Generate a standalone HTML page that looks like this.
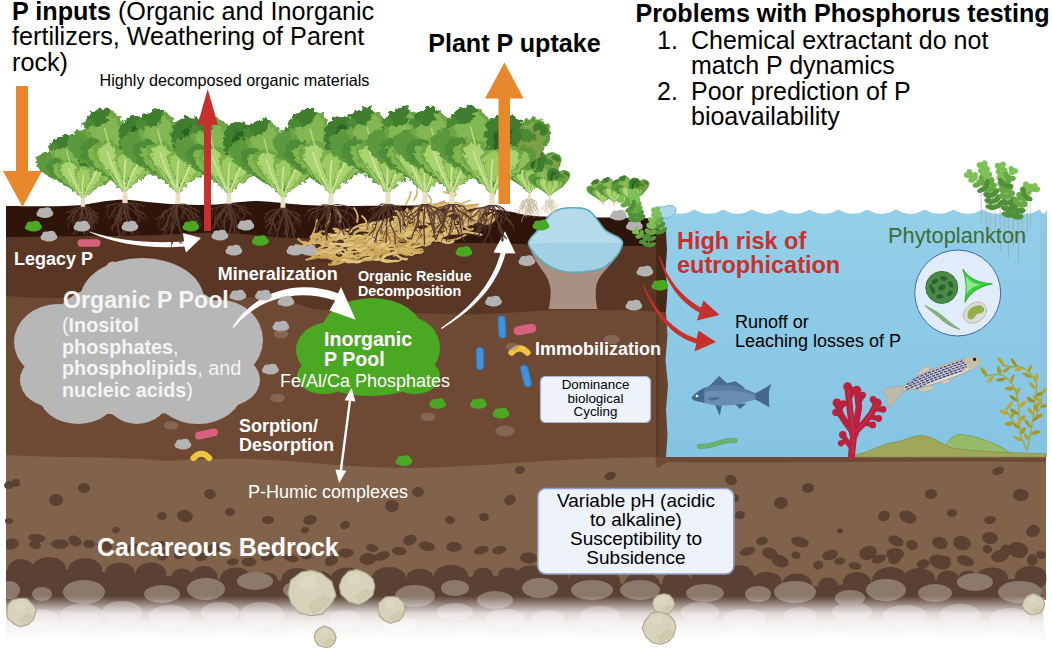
<!DOCTYPE html>
<html><head><meta charset="utf-8"><title>Phosphorus dynamics</title>
<style>html,body{margin:0;padding:0;background:#fff}body{width:1052px;height:655px;overflow:hidden;font-family:"Liberation Sans",sans-serif}</style>
</head><body>
<svg width="1052" height="655" viewBox="0 0 1052 655" style="display:block;font-family:'Liberation Sans',sans-serif">
<defs>
<filter id="frill" x="-10%" y="-10%" width="120%" height="120%">
  <feTurbulence type="fractalNoise" baseFrequency="0.09" numOctaves="2" seed="3" result="n"/>
  <feDisplacementMap in="SourceGraphic" in2="n" scale="7" xChannelSelector="R" yChannelSelector="G"/>
</filter>
<filter id="rough" x="-5%" y="-5%" width="110%" height="110%">
  <feTurbulence type="fractalNoise" baseFrequency="0.05" numOctaves="2" seed="5" result="n"/>
  <feDisplacementMap in="SourceGraphic" in2="n" scale="4" xChannelSelector="R" yChannelSelector="G"/>
</filter>
<filter id="blur1"><feGaussianBlur stdDeviation="0.6"/></filter>
<linearGradient id="fade" x1="0" y1="0" x2="0" y2="1">
  <stop offset="0" stop-color="#fff" stop-opacity="0"/>
  <stop offset="0.2" stop-color="#fff" stop-opacity="0.42"/>
  <stop offset="0.38" stop-color="#fff" stop-opacity="0.8"/>
  <stop offset="0.6" stop-color="#fff" stop-opacity="0.93"/>
  <stop offset="1" stop-color="#fff" stop-opacity="1"/>
</linearGradient>
<linearGradient id="water" x1="0" y1="0" x2="0" y2="1">
  <stop offset="0" stop-color="#93cfe8"/>
  <stop offset="1" stop-color="#86c4e3"/>
</linearGradient>
<clipPath id="soilclip"><rect x="6" y="150" width="1040.5" height="500"/></clipPath><clipPath id="waterclip"><rect x="660" y="200" width="386.5" height="260"/></clipPath><g id="peb"><ellipse cx="0" cy="1.2" rx="7.8" ry="4.2"/><ellipse cx="-3" cy="-1" rx="4" ry="3.4"/><ellipse cx="2.2" cy="-1.6" rx="4.4" ry="3.6"/><circle cx="5.4" cy="0.8" r="2.8"/><circle cx="-5.6" cy="1.2" r="2.8"/></g><g id="lettuceLeaves"><path transform="translate(0,-10) rotate(30)" d="M0,0 C-0.7,-33.1 -13.6,-46.0 -17.0,-69.9 C-17.0,-87.4 -7.7,-93.8 0,-92.0 C7.7,-93.8 17.0,-87.4 17.0,-69.0 C13.6,-46.0 0.7,-33.1 0,0 Z" fill="#5f9a3e" /><path transform="translate(0,-10) rotate(29)" d="M0,0 C-0.5,-31.0 -9.6,-43.0 -12.0,-65.4 C-12.0,-81.7 -5.4,-87.7 0,-86.0 C5.4,-87.7 12.0,-81.7 12.0,-64.5 C9.6,-43.0 0.5,-31.0 0,0 Z" fill="#79ad48" /><ellipse cx="44" cy="-80" rx="8" ry="6" fill="#3f7d2e" transform="rotate(30 44 -80)"/><path transform="translate(0,-10) rotate(-36)" d="M0,0 C-0.6,-30.2 -12.0,-42.0 -15.0,-63.8 C-15.0,-79.8 -6.8,-85.7 0,-84.0 C6.8,-85.7 15.0,-79.8 15.0,-63.0 C12.0,-42.0 0.6,-30.2 0,0 Z" fill="#5c983c" /><path transform="translate(0,-10) rotate(-15)" d="M0,0 C-0.8,-34.6 -15.2,-48.0 -19.0,-73.0 C-19.0,-91.2 -8.6,-97.9 0,-96.0 C8.6,-97.9 19.0,-91.2 19.0,-72.0 C15.2,-48.0 0.8,-34.6 0,0 Z" fill="#6ea544" /><path transform="translate(0,-10) rotate(-15)" d="M0,0 C-0.6,-33.5 -12.0,-46.5 -15.0,-70.7 C-15.0,-88.3 -6.8,-94.9 0,-93.0 C6.8,-94.9 15.0,-88.3 15.0,-69.8 C12.0,-46.5 0.6,-33.5 0,0 Z" fill="#82b752" /><ellipse cx="-26" cy="-95" rx="10" ry="8.5" fill="#3f7d2e" transform="rotate(-12 -26 -95)"/><ellipse cx="-20" cy="-102" rx="6" ry="5" fill="#3f7d2e" transform="rotate(0 -20 -102)"/><ellipse cx="-35" cy="-89" rx="6" ry="5" fill="#4c8a36" transform="rotate(0 -35 -89)"/><path transform="translate(0,-10) rotate(-32)" d="M0,0 C-0.5,-25.2 -10.4,-35.0 -13.0,-53.2 C-13.0,-66.5 -5.9,-71.4 0,-70.0 C5.9,-71.4 13.0,-66.5 13.0,-52.5 C10.4,-35.0 0.5,-25.2 0,0 Z" fill="#4f8c37" /><path transform="translate(0,-10) rotate(-31)" d="M0,0 C-0.4,-22.3 -7.2,-31.0 -9.0,-47.1 C-9.0,-58.9 -4.0,-63.2 0,-62.0 C4.0,-63.2 9.0,-58.9 9.0,-46.5 C7.2,-31.0 0.4,-22.3 0,0 Z" fill="#7fb650" /><path transform="translate(0,-10) rotate(30)" d="M0,0 C-0.7,-28.8 -13.6,-40.0 -17.0,-60.8 C-17.0,-76.0 -7.7,-81.6 0,-80.0 C7.7,-81.6 17.0,-76.0 17.0,-60.0 C13.6,-40.0 0.7,-28.8 0,0 Z" fill="#7da047" /><ellipse cx="31" cy="-74" rx="10" ry="6" fill="#4c8a36" transform="rotate(30 31 -74)"/><path transform="translate(0,-10) rotate(9)" d="M0,0 C-0.7,-31.7 -13.6,-44.0 -17.0,-66.9 C-17.0,-83.6 -7.7,-89.8 0,-88.0 C7.7,-89.8 17.0,-83.6 17.0,-66.0 C13.6,-44.0 0.7,-31.7 0,0 Z" fill="#3f7d2e" /><path transform="translate(0,-10) rotate(9)" d="M0,0 C-0.3,-28.1 -5.6,-39.0 -7.0,-59.3 C-7.0,-74.1 -3.1,-79.6 0,-78.0 C3.1,-79.6 7.0,-74.1 7.0,-58.5 C5.6,-39.0 0.3,-28.1 0,0 Z" fill="#2c6422" /><path transform="translate(0,-10) rotate(11)" d="M0,0 C-0.1,-25.9 -2.4,-36.0 -3.0,-54.7 C-3.0,-68.4 -1.4,-73.4 0,-72.0 C1.4,-73.4 3.0,-68.4 3.0,-54.0 C2.4,-36.0 0.1,-25.9 0,0 Z" fill="#4e8d38" /><path transform="translate(0,-10) rotate(35)" d="M0,0 C-0.4,-22.3 -8.8,-31.0 -11.0,-47.1 C-11.0,-58.9 -5.0,-63.2 0,-62.0 C5.0,-63.2 11.0,-58.9 11.0,-46.5 C8.8,-31.0 0.4,-22.3 0,0 Z" fill="#5c983c" /><path transform="translate(0,-10) rotate(34)" d="M0,0 C-0.3,-20.2 -6.0,-28.0 -7.5,-42.6 C-7.5,-53.2 -3.4,-57.1 0,-56.0 C3.4,-57.1 7.5,-53.2 7.5,-42.0 C6.0,-28.0 0.3,-20.2 0,0 Z" fill="#8fc05a" /><path transform="translate(0,-10) rotate(-20)" d="M0,0 C-0.5,-22.3 -10.4,-31.0 -13.0,-47.1 C-13.0,-58.9 -5.9,-63.2 0,-62.0 C5.9,-63.2 13.0,-58.9 13.0,-46.5 C10.4,-31.0 0.5,-22.3 0,0 Z" fill="#6ea544" /><path transform="translate(0,-10) rotate(-20)" d="M0,0 C-0.4,-20.9 -7.6,-29.0 -9.5,-44.1 C-9.5,-55.1 -4.3,-59.2 0,-58.0 C4.3,-59.2 9.5,-55.1 9.5,-43.5 C7.6,-29.0 0.4,-20.9 0,0 Z" fill="#a8d36e" /><path transform="translate(0,-10) rotate(21)" d="M0,0 C-0.5,-20.2 -9.6,-28.0 -12.0,-42.6 C-12.0,-53.2 -5.4,-57.1 0,-56.0 C5.4,-57.1 12.0,-53.2 12.0,-42.0 C9.6,-28.0 0.5,-20.2 0,0 Z" fill="#6ea544" /><path transform="translate(0,-10) rotate(21)" d="M0,0 C-0.3,-18.7 -6.8,-26.0 -8.5,-39.5 C-8.5,-49.4 -3.8,-53.0 0,-52.0 C3.8,-53.0 8.5,-49.4 8.5,-39.0 C6.8,-26.0 0.3,-18.7 0,0 Z" fill="#a8d36e" /><path transform="translate(0,-10) rotate(1)" d="M0,0 C-0.4,-18.0 -8.8,-25.0 -11.0,-38.0 C-11.0,-47.5 -5.0,-51.0 0,-50.0 C5.0,-51.0 11.0,-47.5 11.0,-37.5 C8.8,-25.0 0.4,-18.0 0,0 Z" fill="#79b04a" /><path transform="translate(0,-10) rotate(1)" d="M0,0 C-0.3,-16.6 -6.4,-23.0 -8.0,-35.0 C-8.0,-43.7 -3.6,-46.9 0,-46.0 C3.6,-46.9 8.0,-43.7 8.0,-34.5 C6.4,-23.0 0.3,-16.6 0,0 Z" fill="#9ccb62" /></g><g id="lettuceRibs"><path transform="translate(0,-10) rotate(-20)" d="M0,0 Q-2,-25.0 0,-50.0" stroke="#cfe49a" stroke-width="1.6" fill="none" stroke-linecap="round"/><path transform="translate(0,-10) rotate(21)" d="M0,0 Q-2,-22.0 0,-44.0" stroke="#cfe49a" stroke-width="1.6" fill="none" stroke-linecap="round"/><path transform="translate(0,-10) rotate(1)" d="M0,0 Q-2,-19.0 0,-38.0" stroke="#cfe49a" stroke-width="1.6" fill="none" stroke-linecap="round"/><path transform="translate(0,-10) rotate(-15)" d="M0,0 Q-2,-38.0 0,-76.0" stroke="#b4d67c" stroke-width="1.5" fill="none" stroke-linecap="round"/><path transform="translate(0,-10) rotate(-31)" d="M0,0 Q-2,-26.0 0,-52.0" stroke="#a9d070" stroke-width="1.2" fill="none" stroke-linecap="round"/><path transform="translate(0,-10) rotate(34)" d="M0,0 Q-2,-23.0 0,-46.0" stroke="#a9d070" stroke-width="1.2" fill="none" stroke-linecap="round"/></g><filter id="fr41" x="-20%" y="-20%" width="140%" height="140%"><feTurbulence type="fractalNoise" baseFrequency="0.357" numOctaves="2" seed="41" result="n"/><feDisplacementMap in="SourceGraphic" in2="n" scale="4.5" xChannelSelector="R" yChannelSelector="G"/></filter><filter id="fr42" x="-20%" y="-20%" width="140%" height="140%"><feTurbulence type="fractalNoise" baseFrequency="0.556" numOctaves="2" seed="42" result="n"/><feDisplacementMap in="SourceGraphic" in2="n" scale="2.9" xChannelSelector="R" yChannelSelector="G"/></filter><filter id="fr43" x="-20%" y="-20%" width="140%" height="140%"><feTurbulence type="fractalNoise" baseFrequency="0.714" numOctaves="2" seed="43" result="n"/><feDisplacementMap in="SourceGraphic" in2="n" scale="2.2" xChannelSelector="R" yChannelSelector="G"/></filter><filter id="fr44" x="-20%" y="-20%" width="140%" height="140%"><feTurbulence type="fractalNoise" baseFrequency="0.667" numOctaves="2" seed="44" result="n"/><feDisplacementMap in="SourceGraphic" in2="n" scale="2.4" xChannelSelector="R" yChannelSelector="G"/></filter><filter id="fr45" x="-20%" y="-20%" width="140%" height="140%"><feTurbulence type="fractalNoise" baseFrequency="0.625" numOctaves="2" seed="45" result="n"/><feDisplacementMap in="SourceGraphic" in2="n" scale="2.6" xChannelSelector="R" yChannelSelector="G"/></filter><filter id="fr11" x="-20%" y="-20%" width="140%" height="140%"><feTurbulence type="fractalNoise" baseFrequency="0.270" numOctaves="2" seed="11" result="n"/><feDisplacementMap in="SourceGraphic" in2="n" scale="5.9" xChannelSelector="R" yChannelSelector="G"/></filter><filter id="fr12" x="-20%" y="-20%" width="140%" height="140%"><feTurbulence type="fractalNoise" baseFrequency="0.204" numOctaves="2" seed="12" result="n"/><feDisplacementMap in="SourceGraphic" in2="n" scale="7.8" xChannelSelector="R" yChannelSelector="G"/></filter><filter id="fr13" x="-20%" y="-20%" width="140%" height="140%"><feTurbulence type="fractalNoise" baseFrequency="0.204" numOctaves="2" seed="13" result="n"/><feDisplacementMap in="SourceGraphic" in2="n" scale="7.8" xChannelSelector="R" yChannelSelector="G"/></filter><filter id="fr14" x="-20%" y="-20%" width="140%" height="140%"><feTurbulence type="fractalNoise" baseFrequency="0.217" numOctaves="2" seed="14" result="n"/><feDisplacementMap in="SourceGraphic" in2="n" scale="7.4" xChannelSelector="R" yChannelSelector="G"/></filter><filter id="fr15" x="-20%" y="-20%" width="140%" height="140%"><feTurbulence type="fractalNoise" baseFrequency="0.217" numOctaves="2" seed="15" result="n"/><feDisplacementMap in="SourceGraphic" in2="n" scale="7.4" xChannelSelector="R" yChannelSelector="G"/></filter><filter id="fr16" x="-20%" y="-20%" width="140%" height="140%"><feTurbulence type="fractalNoise" baseFrequency="0.200" numOctaves="2" seed="16" result="n"/><feDisplacementMap in="SourceGraphic" in2="n" scale="8.0" xChannelSelector="R" yChannelSelector="G"/></filter><filter id="fr17" x="-20%" y="-20%" width="140%" height="140%"><feTurbulence type="fractalNoise" baseFrequency="0.200" numOctaves="2" seed="17" result="n"/><feDisplacementMap in="SourceGraphic" in2="n" scale="8.0" xChannelSelector="R" yChannelSelector="G"/></filter><filter id="fr18" x="-20%" y="-20%" width="140%" height="140%"><feTurbulence type="fractalNoise" baseFrequency="0.200" numOctaves="2" seed="18" result="n"/><feDisplacementMap in="SourceGraphic" in2="n" scale="8.0" xChannelSelector="R" yChannelSelector="G"/></filter><filter id="fr19" x="-20%" y="-20%" width="140%" height="140%"><feTurbulence type="fractalNoise" baseFrequency="0.200" numOctaves="2" seed="19" result="n"/><feDisplacementMap in="SourceGraphic" in2="n" scale="8.0" xChannelSelector="R" yChannelSelector="G"/></filter><filter id="fr20" x="-20%" y="-20%" width="140%" height="140%"><feTurbulence type="fractalNoise" baseFrequency="0.194" numOctaves="2" seed="20" result="n"/><feDisplacementMap in="SourceGraphic" in2="n" scale="8.2" xChannelSelector="R" yChannelSelector="G"/></filter></defs>
<rect width="1052" height="655" fill="#fff"/>
<g id="soil" clip-path="url(#soilclip)">
<path d="M6,230 L657,230 L657,470 L6,470 Z" fill="#6e4a34"/>
<path d="M6,222 L657,222 L657,312 C640,310 600,310 560,310 C520,311 480,316 450,314 C400,313 350,311 318,309.5 C304,308 296,301 280,299 C255,297 230,297 200,297 C130,298 60,300 6,296 Z" fill="#5a3725"/>
<path d="M6,206 C30,206 60,207 83,205 C100,202 115,199 130,200 C150,202 170,205 200,205 C225,205 240,201 257,201 C280,202 300,206 336,206 C380,206 420,205 450,206 C480,207 505,210 521,214 C530,216 545,217 560,217 L600,217.5 C620,217.5 640,218 657,218.5 L657,246 C640,246 620,246 600,246 L560,246 C545,246 530,245 521,244 C500,243 470,243 450,243 C420,242 380,241 336,240 C310,238 290,238 270,237 C240,233 220,232 200,233 C170,235 130,236 100,236 C70,236 40,237 6,237 Z" fill="#2f140a"/>
<path d="M6,455 C60,458 120,456 165,461 C220,458 260,458 300,462 C340,466 380,468 420,468 C460,467 500,464 530,462 C580,458 620,458 668,457 L1046,457 L1046,600 L6,600 Z" fill="#80634a"/>
<path d="M660,452 L1046,452 L1046,462 C900,460 760,464 660,462 Z" fill="#6e4a34"/>
<g fill="#5a4134" clip-path="url(#soilclip)">
<path d="M6,569.9 L20,569.7 L40,569.3 L60,569.0 L80,570.3 L100,571.7 L120,573.0 L140,574.2 L160,575.5 L180,576.7 L200,577.9 L220,579.2 L240,580.4 L260,580.9 L280,580.6 L300,580.3 L320,580.1 L340,579.8 L360,579.5 L380,579.3 L400,579.0 L420,578.4 L440,577.7 L460,577.1 L480,576.5 L500,575.8 L520,575.2 L540,576.2 L560,578.0 L580,579.7 L600,581.5 L620,583.2 L640,585.0 L660,583.8 L680,582.6 L700,581.4 L720,580.2 L740,579.0 L760,581.4 L780,583.8 L800,586.3 L820,586.1 L840,584.8 L860,583.6 L880,582.3 L900,581.0 L920,580.5 L940,579.9 L960,579.4 L980,579.0 L1000,579.0 L1020,579.0 L1040,579.0 L1046,645 L6,645 Z"/>
<ellipse cx="21" cy="568.6" rx="13.2" ry="9.5"/>
<ellipse cx="49" cy="568.2" rx="16.8" ry="10.9"/>
<ellipse cx="85" cy="569.7" rx="17.1" ry="11.4"/>
<ellipse cx="120" cy="572.0" rx="14.5" ry="9.6"/>
<ellipse cx="151" cy="573.9" rx="15.3" ry="11.4"/>
<ellipse cx="182" cy="575.8" rx="10.4" ry="7.3"/>
<ellipse cx="204" cy="577.2" rx="13.6" ry="11.3"/>
<ellipse cx="236" cy="579.2" rx="16.0" ry="11.6"/>
<ellipse cx="268" cy="579.8" rx="9.9" ry="7.0"/>
<ellipse cx="297" cy="579.4" rx="15.5" ry="11.4"/>
<ellipse cx="320" cy="579.1" rx="11.4" ry="7.9"/>
<ellipse cx="347" cy="578.7" rx="16.3" ry="11.2"/>
<ellipse cx="389" cy="578.2" rx="16.9" ry="11.2"/>
<ellipse cx="420" cy="577.4" rx="13.4" ry="8.8"/>
<ellipse cx="451" cy="576.4" rx="17.2" ry="11.5"/>
<ellipse cx="483" cy="575.4" rx="10.1" ry="7.7"/>
<ellipse cx="509" cy="574.5" rx="10.8" ry="7.1"/>
<ellipse cx="531" cy="574.4" rx="13.9" ry="9.1"/>
<ellipse cx="555" cy="576.6" rx="13.5" ry="11.2"/>
<ellipse cx="582" cy="578.9" rx="12.6" ry="9.8"/>
<ellipse cx="606" cy="581.1" rx="14.2" ry="9.7"/>
<ellipse cx="642" cy="583.9" rx="17.6" ry="11.6"/>
<ellipse cx="677" cy="581.8" rx="14.5" ry="9.8"/>
<ellipse cx="709" cy="579.9" rx="18.0" ry="15.3"/>
<ellipse cx="739" cy="578.1" rx="15.3" ry="12.9"/>
<ellipse cx="767" cy="581.3" rx="14.5" ry="9.5"/>
<ellipse cx="797" cy="585.0" rx="15.1" ry="11.6"/>
<ellipse cx="828" cy="584.6" rx="9.8" ry="7.0"/>
<ellipse cx="857" cy="582.7" rx="14.3" ry="10.6"/>
<ellipse cx="890" cy="580.6" rx="17.9" ry="13.7"/>
<ellipse cx="919" cy="579.5" rx="16.2" ry="11.6"/>
<ellipse cx="948" cy="578.7" rx="10.9" ry="8.1"/>
<ellipse cx="968" cy="578.2" rx="9.8" ry="7.6"/>
<ellipse cx="992" cy="578.0" rx="16.1" ry="10.5"/>
<ellipse cx="1031" cy="578.0" rx="16.3" ry="12.2"/>
</g>
</g>
<g id="water">
<path d="M662,214 L662,212 L665.6,209.5 Q680.0,218 694.4,209.5 Q708.8,218 723.2,209.5 Q737.6,218 752.0,209.5 Q766.4,218 780.8,209.5 Q795.2,218 809.6,209.5 Q824.0,218 838.4,209.5 Q852.8,218 867.2,209.5 Q881.6,218 896.0,209.5 Q910.4,218 924.8,209.5 Q939.2,218 953.6,209.5 Q968.0,218 982.4,209.5 Q996.8,218 1011.2,209.5 Q1025.6,218 1040.0,209.5 Q1043.5,218 1047.0,209.5 L1047,457 L662,457 Z" fill="url(#water)"/>
<rect x="1040" y="213" width="7" height="243" fill="#7fbbdc" opacity="0.25"/>
<path d="M940,455 C948,440 953,434 961,434.5 C975,436 990,441 1003,448 C1008,451 1011,454 1014,456 Z" fill="#93bb69" stroke="#7f9a4e" stroke-width="0.8"/>
<path d="M852,456 C870,452 878,446 890,443 C903,442 910,436 921,435.5 C934,436 940,444 952,448 C975,452 1000,452 1046,454 L1046,457 L852,457 Z" fill="#9fa75a" stroke="#858f48" stroke-width="0.8"/>
<g id="bluefish">
<path d="M708,386.5 L710.3,384.9 L719.2,376 C722,378.5 724.5,381 727,383.3 L735.4,381.2 C739,383.5 742,385.8 745,388 L740,390 L712,388 Z" fill="#4a6c94"/>
<path d="M753,394 L755.3,393.2 C761,390.5 767,387 771.5,383.8 C769.5,388 768.8,392 768.9,396.4 C768.8,400 769,404 769.4,407.4 C764.5,404.5 760,402 755.3,399.5 L753,398.5 Z" fill="#46688f"/>
<path d="M715,404.8 L719.7,415.7 L721.8,405.6 Z" fill="#46688f"/>
<path d="M734.4,403.6 L740.1,408.9 L746.4,403.4 Z" fill="#46688f"/>
<path d="M691.7,397.4 C695,393 700,389.8 705,387.5 C712,384.8 722,384.5 730,385.2 C738,386 747,389.5 755.3,393.2 L755.3,399.5 C750,401.2 746,402.2 742.8,402.7 C738,404 734,405 730.2,405.3 C725,405.6 720,405.6 715.6,405.3 C711,404.8 707,403.8 704,402.7 C700,401.8 696,401 693.6,400 C692.3,399.2 691.5,398.3 691.7,397.4 Z" fill="#6a8db5"/>
<path d="M705,387.5 C712,384.8 722,384.5 730,385.2 C738,386 747,389.5 755.3,393.2 L755.3,395 C745,392 735,390.5 725,390.5 C717,390.5 710,391 705,392 Z" fill="#587ba3"/>
<path d="M691.7,397.4 C695,393 700,389.8 705,387.5 C704.3,392 704,398 704.6,402.9 C700,401.8 696,401 693.6,400 C692.3,399.2 691.5,398.3 691.7,397.4 Z" fill="#46688f"/>
<circle cx="697" cy="396" r="1.35" fill="#f3f6fa"/>
<path d="M707,398.6 C712,397.4 717,397 720.8,397.4 C718,399.2 715,400.2 711.4,400.8 Z" fill="#4a6c94"/>
</g>
<circle cx="699.5" cy="446.3" r="2.3" fill="#74b873" stroke="#4f9a55" stroke-width="0.6"/>
<circle cx="702.5" cy="446.3" r="2.3" fill="#74b873" stroke="#4f9a55" stroke-width="0.6"/>
<circle cx="705.4" cy="446.1" r="2.3" fill="#74b873" stroke="#4f9a55" stroke-width="0.6"/>
<circle cx="708.4" cy="445.8" r="2.3" fill="#74b873" stroke="#4f9a55" stroke-width="0.6"/>
<circle cx="711.3" cy="445.1" r="2.3" fill="#74b873" stroke="#4f9a55" stroke-width="0.6"/>
<circle cx="714.3" cy="444.3" r="2.3" fill="#74b873" stroke="#4f9a55" stroke-width="0.6"/>
<circle cx="717.2" cy="443.4" r="2.3" fill="#74b873" stroke="#4f9a55" stroke-width="0.6"/>
<circle cx="720.2" cy="442.5" r="2.3" fill="#74b873" stroke="#4f9a55" stroke-width="0.6"/>
<circle cx="723.2" cy="441.7" r="2.3" fill="#74b873" stroke="#4f9a55" stroke-width="0.6"/>
<circle cx="726.1" cy="441.1" r="2.3" fill="#74b873" stroke="#4f9a55" stroke-width="0.6"/>
<circle cx="729.1" cy="440.7" r="2.3" fill="#74b873" stroke="#4f9a55" stroke-width="0.6"/>
<circle cx="732.0" cy="440.5" r="2.3" fill="#74b873" stroke="#4f9a55" stroke-width="0.6"/>
<circle cx="735.0" cy="440.5" r="2.3" fill="#74b873" stroke="#4f9a55" stroke-width="0.6"/>
<g id="coral" stroke="#b9223f" stroke-linecap="round" fill="none"><path d="M851.5,455.6 L852.6,444.3 L854.0,433.7" stroke-width="7.0" stroke-linejoin="round"/><circle cx="854.0" cy="433.7" r="4.8" fill="#b9223f" stroke="none"/><path d="M851.9,447.9 L846.2,440.8 L842.7,434.8" stroke-width="5.5" stroke-linejoin="round"/><circle cx="842.7" cy="434.8" r="3.7" fill="#b9223f" stroke="none"/><path d="M846.2,440.8 L840.9,443.3" stroke-width="4.5" stroke-linejoin="round"/><circle cx="840.9" cy="443.3" r="3.1" fill="#b9223f" stroke="none"/><path d="M854.0,433.7 L846.2,423.1 L840.9,415.0 L837.0,402.9" stroke-width="6.5" stroke-linejoin="round"/><circle cx="837.0" cy="402.9" r="4.4" fill="#b9223f" stroke="none"/><path d="M842.0,416.0 L835.6,412.5" stroke-width="5.0" stroke-linejoin="round"/><circle cx="835.6" cy="412.5" r="3.4" fill="#b9223f" stroke="none"/><path d="M839.8,409.0 L843.4,403.6" stroke-width="5.0" stroke-linejoin="round"/><circle cx="843.4" cy="403.6" r="3.4" fill="#b9223f" stroke="none"/><path d="M854.0,433.7 L851.1,419.6 L849.7,407.2 L847.6,386.7" stroke-width="6.5" stroke-linejoin="round"/><circle cx="847.6" cy="386.7" r="4.4" fill="#b9223f" stroke="none"/><path d="M849.4,398.3 L853.3,390.2" stroke-width="5.0" stroke-linejoin="round"/><circle cx="853.3" cy="390.2" r="3.4" fill="#b9223f" stroke="none"/><path d="M854.0,433.7 L856.8,419.6 L858.9,407.2 L856.8,390.2" stroke-width="6.5" stroke-linejoin="round"/><circle cx="856.8" cy="390.2" r="4.4" fill="#b9223f" stroke="none"/><path d="M858.6,403.6 L862.5,395.2" stroke-width="5.0" stroke-linejoin="round"/><circle cx="862.5" cy="395.2" r="3.4" fill="#b9223f" stroke="none"/><path d="M854.3,432.6 L863.9,423.1 L870.9,414.3 L877.3,402.9" stroke-width="6.5" stroke-linejoin="round"/><circle cx="877.3" cy="402.9" r="4.4" fill="#b9223f" stroke="none"/><path d="M873.8,409.0 L883.0,409.3" stroke-width="5.0" stroke-linejoin="round"/><circle cx="883.0" cy="409.3" r="3.4" fill="#b9223f" stroke="none"/><path d="M869.2,416.7 L878.7,418.5" stroke-width="5.0" stroke-linejoin="round"/><circle cx="878.7" cy="418.5" r="3.4" fill="#b9223f" stroke="none"/><path d="M875.5,405.4 L873.1,399.4" stroke-width="5.0" stroke-linejoin="round"/><circle cx="873.1" cy="399.4" r="3.4" fill="#b9223f" stroke="none"/><path d="M863.9,423.1 L872.7,424.9" stroke-width="5.0" stroke-linejoin="round"/><circle cx="872.7" cy="424.9" r="3.4" fill="#b9223f" stroke="none"/></g>
<g stroke="#d8506a" stroke-width="0.8" fill="none" opacity="0.6"><path d="M852.2,453.2 L853.6,433.7 L850.4,410.7 L848.3,389.5"/><path d="M854.7,432.6 L864.6,422.4 L876.6,404.4"/></g>
<g id="zebra" transform="translate(932,380) rotate(-20) translate(0,-2.6)">
<path d="M-29,-1 C-37,-4.5 -44,-6 -51,-3.5 C-49,-0.5 -48.5,1.5 -48,3.5 C-50,7 -50.5,10 -49.5,13.5 C-42,10.5 -35,6.5 -29,3 Z" fill="#c3bba9" stroke="#aaa190" stroke-width="0.6" opacity="0.92"/>
<path d="M-12,-6.2 C-10,-11.5 -3,-13 3,-10.8 L1,-7.2 Z" fill="#d0c8b6" stroke="#aaa190" stroke-width="0.5"/>
<path d="M-16,6 C-17,11 -10,13.5 -1,10.5 L-2,6.8 Z" fill="#cfc7b5" stroke="#aaa190" stroke-width="0.5"/>
<path d="M8,7 C7,10.5 13,12 17,9.5 L16,6.8 Z" fill="#d3ccba" stroke="#aaa190" stroke-width="0.5"/>
<path d="M-30.5,-0.8 C-18,-5.8 4,-8 24,-7.4 C38,-6.8 48.5,-4.2 53,-0.3 C49.5,3.8 40,6.8 26,7.3 C6,7.8 -16,6.8 -30.5,3.2 Z" fill="#d6ccb4" stroke="#a79d8a" stroke-width="0.7"/>
<path d="M-28,2.5 C-10,6.2 10,7 28,6.4 C36,6 43,4.5 48,2.4 C40,4.4 32,5 24,5 C6,5.2 -12,4.6 -28,2.5 Z" fill="#e6dfcc"/>
<path d="M-18,-4.0 Q5,-6.300000000000001 37,-4.9" stroke="#2c3f9c" stroke-width="1.25" stroke-dasharray="3 1.2" fill="none"/>
<path d="M-25,-1.7000000000000002 Q5,-4.0 38.5,-2.6" stroke="#2c3f9c" stroke-width="1.25" stroke-dasharray="3 1.2" fill="none"/>
<path d="M-28,0.6000000000000001 Q5,-1.7 38.5,-0.3" stroke="#2c3f9c" stroke-width="1.25" stroke-dasharray="3 1.2" fill="none"/>
<path d="M-27,2.9 Q5,0.6000000000000001 37.5,2.0" stroke="#2c3f9c" stroke-width="1.25" stroke-dasharray="3 1.2" fill="none"/>
<path d="M-18,5.1000000000000005 Q5,2.8000000000000003 33,4.2" stroke="#2c3f9c" stroke-width="1.25" stroke-dasharray="3 1.2" fill="none"/>
<path d="M39,-6.6 C46,-6 51,-3.6 53,-0.3 C50,3.4 45.5,5.6 39.5,6.6 C37.6,2.5 37.4,-2.5 39,-6.6 Z" fill="#cbbfa2"/>
<circle cx="47" cy="-2.2" r="1.6" fill="#111"/>
</g>
<g id="kelp" clip-path="url(#waterclip)">
<path d="M1027.0,450.0 C1026.0,447.7 1022.2,440.9 1020.9,436.0 C1019.6,431.0 1019.6,425.7 1019.1,420.2 C1018.7,414.6 1019.0,407.9 1018.2,402.6 C1017.5,397.4 1016.3,392.4 1014.7,388.6 C1013.1,384.8 1011.1,382.2 1008.6,379.8 C1006.1,377.5 1003.9,375.1 999.8,374.6 C995.7,374.0 986.7,376.0 984.0,376.3" stroke="#9dab48" stroke-width="1.5" fill="none"/>
<path d="M1027.0,450.0 C1027.6,447.4 1029.5,439.8 1030.5,434.2 C1031.5,428.7 1032.4,422.5 1033.2,416.7 C1033.9,410.8 1034.3,404.4 1034.9,399.1 C1035.5,393.9 1037.3,389.2 1036.7,385.1 C1036.1,381.0 1033.7,377.5 1031.4,374.6 C1029.1,371.6 1025.6,368.9 1022.6,367.5 C1019.7,366.2 1017.4,367.1 1013.9,366.7 C1010.4,366.2 1003.6,365.2 1001.6,364.9" stroke="#9dab48" stroke-width="1.5" fill="none"/>
<path d="M1033.2,420.2 C1034.2,418.4 1037.8,412.6 1039.3,409.6 C1040.8,406.7 1041.6,405.6 1041.9,402.6 C1042.2,399.7 1041.2,393.9 1041.1,392.1" stroke="#9dab48" stroke-width="1.1" fill="none"/>
<path d="M1018.2,428.9 C1017.1,427.2 1013.4,421.9 1011.2,418.4 C1009.0,414.9 1006.1,409.6 1005.1,407.9" stroke="#9dab48" stroke-width="1.1" fill="none"/>
<path transform="translate(1023.0,440.8) rotate(-157)" d="M0,0 C3.4,-2.7 9.1,-2.2 11.4,0 C9.1,1.6 3.4,1.9 0,0 Z" fill="#b3a42c"/>
<path transform="translate(1020.7,434.6) rotate(-58)" d="M0,0 C2.7,-3.6 7.1,-2.9 8.9,0 C7.1,2.2 2.7,2.5 0,0 Z" fill="#a8992a"/>
<path transform="translate(1020.0,428.0) rotate(-145)" d="M0,0 C2.4,-3.1 6.5,-2.5 8.1,0 C6.5,1.9 2.4,2.2 0,0 Z" fill="#9a8f28"/>
<path transform="translate(1019.3,421.4) rotate(-44)" d="M0,0 C2.6,-3.4 6.9,-2.7 8.7,0 C6.9,2.1 2.6,2.4 0,0 Z" fill="#b3a42c"/>
<path transform="translate(1018.8,414.7) rotate(-145)" d="M0,0 C3.2,-3.3 8.5,-2.6 10.7,0 C8.5,2.0 3.2,2.3 0,0 Z" fill="#9a8f28"/>
<path transform="translate(1018.5,408.0) rotate(-41)" d="M0,0 C3.4,-3.3 9.0,-2.7 11.2,0 C9.0,2.0 3.4,2.3 0,0 Z" fill="#beaa32"/>
<path transform="translate(1017.9,401.4) rotate(-142)" d="M0,0 C3.3,-3.0 8.7,-2.4 10.8,0 C8.7,1.8 3.3,2.1 0,0 Z" fill="#9a8f28"/>
<path transform="translate(1016.3,394.9) rotate(-65)" d="M0,0 C2.5,-2.8 6.6,-2.3 8.2,0 C6.6,1.7 2.5,2.0 0,0 Z" fill="#b3a42c"/>
<path transform="translate(1014.7,388.5) rotate(-177)" d="M0,0 C3.1,-3.5 8.2,-2.8 10.3,0 C8.2,2.1 3.1,2.5 0,0 Z" fill="#a8992a"/>
<path transform="translate(1010.8,383.0) rotate(-69)" d="M0,0 C3.0,-2.6 7.9,-2.1 9.9,0 C7.9,1.6 3.0,1.8 0,0 Z" fill="#a8992a"/>
<path transform="translate(1006.2,378.4) rotate(-189)" d="M0,0 C3.3,-3.1 8.8,-2.4 11.0,0 C8.8,1.8 3.3,2.1 0,0 Z" fill="#9a8f28"/>
<path transform="translate(1000.5,375.0) rotate(-104)" d="M0,0 C2.8,-3.5 7.4,-2.8 9.2,0 C7.4,2.1 2.8,2.4 0,0 Z" fill="#a8992a"/>
<path transform="translate(994.0,375.2) rotate(133)" d="M0,0 C3.0,-3.1 8.1,-2.5 10.1,0 C8.1,1.9 3.0,2.2 0,0 Z" fill="#beaa32"/>
<path transform="translate(987.4,375.9) rotate(233)" d="M0,0 C3.4,-3.4 9.1,-2.8 11.3,0 C9.1,2.1 3.4,2.4 0,0 Z" fill="#a8992a"/>
<path transform="translate(1029.1,440.5) rotate(-123)" d="M0,0 C2.8,-2.9 7.4,-2.3 9.2,0 C7.4,1.7 2.8,2.0 0,0 Z" fill="#b3a42c"/>
<path transform="translate(1030.5,434.2) rotate(-14)" d="M0,0 C3.3,-3.5 8.8,-2.8 11.0,0 C8.8,2.1 3.3,2.5 0,0 Z" fill="#a8992a"/>
<path transform="translate(1031.5,427.8) rotate(-129)" d="M0,0 C3.4,-2.9 8.9,-2.3 11.2,0 C8.9,1.7 3.4,2.0 0,0 Z" fill="#a8992a"/>
<path transform="translate(1032.4,421.4) rotate(-37)" d="M0,0 C2.8,-3.0 7.6,-2.4 9.5,0 C7.6,1.8 2.8,2.1 0,0 Z" fill="#9a8f28"/>
<path transform="translate(1033.3,415.0) rotate(-125)" d="M0,0 C2.8,-2.8 7.5,-2.2 9.4,0 C7.5,1.7 2.8,1.9 0,0 Z" fill="#b3a42c"/>
<path transform="translate(1034.0,408.6) rotate(-42)" d="M0,0 C3.2,-2.9 8.5,-2.3 10.7,0 C8.5,1.7 3.2,2.0 0,0 Z" fill="#b3a42c"/>
<path transform="translate(1034.6,402.2) rotate(-147)" d="M0,0 C2.8,-3.4 7.5,-2.7 9.3,0 C7.5,2.1 2.8,2.4 0,0 Z" fill="#9a8f28"/>
<path transform="translate(1035.3,395.7) rotate(-16)" d="M0,0 C2.5,-3.2 6.8,-2.5 8.5,0 C6.8,1.9 2.5,2.2 0,0 Z" fill="#9a8f28"/>
<path transform="translate(1036.1,389.3) rotate(-133)" d="M0,0 C3.0,-2.9 8.0,-2.3 10.1,0 C8.0,1.7 3.0,2.0 0,0 Z" fill="#b3a42c"/>
<path transform="translate(1035.7,383.1) rotate(-80)" d="M0,0 C3.1,-3.4 8.3,-2.7 10.3,0 C8.3,2.0 3.1,2.4 0,0 Z" fill="#beaa32"/>
<path transform="translate(1032.8,377.3) rotate(-157)" d="M0,0 C3.4,-3.1 9.0,-2.5 11.3,0 C9.0,1.9 3.4,2.2 0,0 Z" fill="#a8992a"/>
<path transform="translate(1028.8,372.5) rotate(-72)" d="M0,0 C2.5,-2.6 6.6,-2.1 8.2,0 C6.6,1.6 2.5,1.8 0,0 Z" fill="#a8992a"/>
<path transform="translate(1023.7,368.4) rotate(-188)" d="M0,0 C3.1,-2.7 8.2,-2.2 10.3,0 C8.2,1.6 3.1,1.9 0,0 Z" fill="#beaa32"/>
<path transform="translate(1017.6,367.0) rotate(-127)" d="M0,0 C3.4,-2.6 9.1,-2.1 11.4,0 C9.1,1.6 3.4,1.8 0,0 Z" fill="#9a8f28"/>
<path transform="translate(1011.2,366.3) rotate(-214)" d="M0,0 C3.3,-2.6 8.9,-2.1 11.1,0 C8.9,1.6 3.3,1.8 0,0 Z" fill="#a8992a"/>
<path transform="translate(1004.8,365.4) rotate(-131)" d="M0,0 C3.4,-3.0 9.1,-2.4 11.4,0 C9.1,1.8 3.4,2.1 0,0 Z" fill="#b3a42c"/>
<path transform="translate(1034.7,417.6) rotate(-18)" d="M0,0 C2.6,-3.4 7.0,-2.7 8.8,0 C7.0,2.0 2.6,2.4 0,0 Z" fill="#a8992a"/>
<path transform="translate(1037.7,412.3) rotate(-108)" d="M0,0 C2.5,-3.3 6.7,-2.7 8.4,0 C6.7,2.0 2.5,2.3 0,0 Z" fill="#a8992a"/>
<path transform="translate(1040.3,406.9) rotate(-9)" d="M0,0 C2.9,-2.7 7.8,-2.2 9.8,0 C7.8,1.6 2.9,1.9 0,0 Z" fill="#9a8f28"/>
<path transform="translate(1041.8,401.1) rotate(-149)" d="M0,0 C3.3,-3.1 8.7,-2.4 10.9,0 C8.7,1.8 3.3,2.1 0,0 Z" fill="#b3a42c"/>
<path transform="translate(1041.3,395.1) rotate(-53)" d="M0,0 C2.9,-2.7 7.6,-2.2 9.6,0 C7.6,1.6 2.9,1.9 0,0 Z" fill="#b3a42c"/>
<path transform="translate(1016.9,426.9) rotate(-64)" d="M0,0 C3.0,-2.6 8.1,-2.1 10.1,0 C8.1,1.6 3.0,1.8 0,0 Z" fill="#beaa32"/>
<path transform="translate(1014.1,422.7) rotate(-188)" d="M0,0 C3.0,-3.6 7.9,-2.9 9.8,0 C7.9,2.1 3.0,2.5 0,0 Z" fill="#a8992a"/>
<path transform="translate(1011.4,418.6) rotate(-71)" d="M0,0 C2.7,-3.0 7.3,-2.4 9.1,0 C7.3,1.8 2.7,2.1 0,0 Z" fill="#a8992a"/>
<path transform="translate(1008.8,414.3) rotate(-155)" d="M0,0 C3.0,-3.5 8.1,-2.8 10.1,0 C8.1,2.1 3.0,2.5 0,0 Z" fill="#beaa32"/>
<path transform="translate(1006.3,410.0) rotate(-53)" d="M0,0 C3.4,-2.8 9.1,-2.3 11.4,0 C9.1,1.7 3.4,2.0 0,0 Z" fill="#beaa32"/>
</g>
<circle cx="957.7" cy="293" r="43" fill="#e1ecfa" stroke="#3f67b1" stroke-width="1"/>
<circle cx="941.8" cy="287.4" r="16" fill="#4b8a47" stroke="#3a7338" stroke-width="1"/>
<ellipse cx="934.8" cy="281.4" rx="3.5" ry="2.2" fill="#2c6230" transform="rotate(-40 934.8 281.4)"/>
<ellipse cx="943.8" cy="278.4" rx="3.5" ry="2.2" fill="#2c6230" transform="rotate(10 943.8 278.4)"/>
<ellipse cx="950.8" cy="284.4" rx="3.5" ry="2.2" fill="#2c6230" transform="rotate(60 950.8 284.4)"/>
<ellipse cx="932.8" cy="290.4" rx="3.5" ry="2.2" fill="#2c6230" transform="rotate(70 932.8 290.4)"/>
<ellipse cx="941.8" cy="287.4" rx="4" ry="2.6" fill="#2c6230" transform="rotate(-30 941.8 287.4)"/>
<ellipse cx="949.8" cy="293.4" rx="3.5" ry="2.2" fill="#2c6230" transform="rotate(-50 949.8 293.4)"/>
<ellipse cx="939.8" cy="296.4" rx="3.5" ry="2.2" fill="#2c6230" transform="rotate(0 939.8 296.4)"/>
<ellipse cx="930.8" cy="286.4" rx="2" ry="1.5" fill="#2c6230" transform="rotate(80 930.8 286.4)"/>
<path d="M963,269.5 C968,278 978,283 992,283.8 C980,286 970,292 965,302 C967,291 967,280 963,269.5 Z" fill="#3ed13f" stroke="#2fb535" stroke-width="1.2" stroke-linejoin="round"/>
<path d="M966,276 C969,281 974,284 981,284.5 C974,286 969,289 967,294 Z" fill="#8fe88a"/>
<path d="M925,305.5 C932,309 940,313 946,319 C951,323 956,327 960,329.5 C954,328 948,325 943,321 C937,315 930,311 925,305.5 Z" fill="#86b078" stroke="#6a9a62" stroke-width="0.6"/>
<ellipse cx="975" cy="312.7" rx="12.5" ry="9.5" fill="#dcdcd4" stroke="#b8b8ae" stroke-width="0.8" transform="rotate(-35 975 312.7)"/>
<path d="M968,318 C966,312 970,307 976,306 C981,304 985,307 984,311 C982,314 978,313 976,315 C974,319 971,321 968,318 Z" fill="#93b04a"/>
</g>
<path d="M656,228 L666,231 L667,250 L665.5,270 L667.5,290 L666,312 L656,312 Z" fill="#47291a"/>
<path d="M656,312 L666,312 L667.5,335 L665.5,360 L668,385 L666,410 L667.5,435 L666,457 L656,457 Z" fill="#65432e"/>
<path d="M656,300 L658.5,305 L659,457 L656,457 Z" fill="#523323" opacity="0.55"/>
<path d="M655,457 L668,457 L668,462 L657,468 Z" fill="#6e4a34"/>
<g id="rods">
<rect x="77.5" y="239.25" width="23" height="7.5" rx="3.75" fill="#d8627e" transform="rotate(0 89 243)"/>
<rect x="195.0" y="430.0" width="23" height="8" rx="4.0" fill="#d8627e" transform="rotate(-12 206.5 434)"/>
<rect x="513.5" y="325.0" width="23" height="9" rx="4.5" fill="#d8627e" transform="rotate(-10 525 329.5)"/>
<rect x="498.5" y="316.0" width="7" height="22" rx="3.5" fill="#3f93dc" stroke="#2f7fc4" stroke-width="1" transform="rotate(-4 502 327)"/>
<rect x="476.5" y="347.5" width="7" height="22" rx="3.5" fill="#3f93dc" stroke="#2f7fc4" stroke-width="1" transform="rotate(-2 480 358.5)"/>
<rect x="522.5" y="365.0" width="7" height="22" rx="3.5" fill="#3f93dc" stroke="#2f7fc4" stroke-width="1" transform="rotate(-14 526 376)"/>
<path d="M193.5,458 Q201.3,449.5 209.2,458" stroke="#f1c43e" stroke-width="6.2" fill="none" stroke-linecap="round"/>
<path d="M511.5,352.6 Q519.5,344 527.5,352.6" stroke="#f1c43e" stroke-width="6.2" fill="none" stroke-linecap="round"/>
</g>
<g id="spots" fill="#5b4132">
<ellipse cx="9" cy="485" rx="5" ry="4" transform="rotate(-17 9 485)"/>
<ellipse cx="56" cy="500" rx="7" ry="6" transform="rotate(9 56 500)"/>
<ellipse cx="84" cy="488" rx="6" ry="5" transform="rotate(7 84 488)"/>
<ellipse cx="9" cy="521" rx="4" ry="3" transform="rotate(-1 9 521)"/>
<ellipse cx="162" cy="516" rx="5" ry="4" transform="rotate(-14 162 516)"/>
<ellipse cx="185" cy="516" rx="8" ry="6" transform="rotate(15 185 516)"/>
<ellipse cx="210" cy="494" rx="6" ry="5" transform="rotate(15 210 494)"/>
<ellipse cx="230" cy="512" rx="5" ry="4" transform="rotate(1 230 512)"/>
<ellipse cx="268" cy="520" rx="6" ry="4" transform="rotate(0 268 520)"/>
<ellipse cx="310" cy="520" rx="7" ry="5" transform="rotate(-13 310 520)"/>
<ellipse cx="345" cy="525" rx="5" ry="4" transform="rotate(-25 345 525)"/>
<ellipse cx="392" cy="506" rx="7" ry="6" transform="rotate(-6 392 506)"/>
<ellipse cx="418" cy="492" rx="6" ry="5" transform="rotate(4 418 492)"/>
<ellipse cx="410" cy="540" rx="7" ry="5" transform="rotate(-22 410 540)"/>
<ellipse cx="372" cy="548" rx="6" ry="4" transform="rotate(15 372 548)"/>
<ellipse cx="305" cy="530" rx="4" ry="3" transform="rotate(-13 305 530)"/>
<ellipse cx="160" cy="545" rx="6" ry="4" transform="rotate(-13 160 545)"/>
<ellipse cx="116" cy="530" rx="4" ry="3" transform="rotate(-23 116 530)"/>
<ellipse cx="75" cy="541" rx="7" ry="5" transform="rotate(25 75 541)"/>
<ellipse cx="35" cy="545" rx="6" ry="4" transform="rotate(12 35 545)"/>
<ellipse cx="450" cy="520" rx="5" ry="4" transform="rotate(19 450 520)"/>
<ellipse cx="484" cy="517" rx="5" ry="4" transform="rotate(6 484 517)"/>
<ellipse cx="510" cy="500" rx="6" ry="5" transform="rotate(-23 510 500)"/>
<ellipse cx="520" cy="470" rx="5" ry="4" transform="rotate(-9 520 470)"/>
<ellipse cx="16" cy="483" rx="4" ry="4" transform="rotate(-0 16 483)"/>
<ellipse cx="610" cy="476" rx="6" ry="4" transform="rotate(-19 610 476)"/>
<ellipse cx="731" cy="480" rx="6" ry="5" transform="rotate(23 731 480)"/>
<ellipse cx="781" cy="503" rx="7" ry="6" transform="rotate(-7 781 503)"/>
<ellipse cx="808" cy="488" rx="6" ry="5" transform="rotate(-17 808 488)"/>
<ellipse cx="840" cy="531" rx="3" ry="2.5" transform="rotate(16 840 531)"/>
<ellipse cx="884" cy="516" rx="6" ry="5" transform="rotate(-19 884 516)"/>
<ellipse cx="908" cy="517" rx="9" ry="6" transform="rotate(21 908 517)"/>
<ellipse cx="931" cy="494" rx="6" ry="5" transform="rotate(-2 931 494)"/>
<ellipse cx="952" cy="513" rx="5" ry="4" transform="rotate(3 952 513)"/>
<ellipse cx="990" cy="520" rx="6" ry="4" transform="rotate(-8 990 520)"/>
<ellipse cx="1021" cy="495" rx="8" ry="6" transform="rotate(-1 1021 495)"/>
<ellipse cx="998" cy="471" rx="6" ry="4" transform="rotate(-16 998 471)"/>
<ellipse cx="1033" cy="531" rx="7" ry="6" transform="rotate(-23 1033 531)"/>
<ellipse cx="1041" cy="555" rx="5" ry="4" transform="rotate(18 1041 555)"/>
<ellipse cx="762" cy="541" rx="6" ry="4" transform="rotate(-13 762 541)"/>
<ellipse cx="800" cy="542" rx="9" ry="5" transform="rotate(14 800 542)"/>
<ellipse cx="830" cy="555" rx="8" ry="5" transform="rotate(-15 830 555)"/>
<ellipse cx="896" cy="541" rx="8" ry="5" transform="rotate(23 896 541)"/>
<ellipse cx="912" cy="545" rx="6" ry="5" transform="rotate(20 912 545)"/>
<ellipse cx="940" cy="543" rx="8" ry="6" transform="rotate(13 940 543)"/>
<ellipse cx="962" cy="543" rx="9" ry="7" transform="rotate(13 962 543)"/>
<ellipse cx="990" cy="538" rx="8" ry="6" transform="rotate(4 990 538)"/>
<ellipse cx="1018" cy="550" rx="10" ry="8" transform="rotate(11 1018 550)"/>
<ellipse cx="868" cy="553" rx="9" ry="7" transform="rotate(-19 868 553)"/>
<ellipse cx="895" cy="554" rx="9" ry="6" transform="rotate(-1 895 554)"/>
<ellipse cx="940" cy="562" rx="11" ry="7" transform="rotate(16 940 562)"/>
<ellipse cx="1000" cy="556" rx="9" ry="6" transform="rotate(-15 1000 556)"/>
<ellipse cx="780" cy="561" rx="9" ry="6" transform="rotate(21 780 561)"/>
<ellipse cx="735" cy="498" rx="4" ry="4" transform="rotate(19 735 498)"/>
<ellipse cx="740" cy="515" rx="5" ry="4" transform="rotate(-5 740 515)"/>
</g>
<g fill="#5b4132" clip-path="url(#soilclip)">
<ellipse cx="12" cy="544" rx="7.3" ry="5.5" transform="rotate(-9 12 547)"/>
<ellipse cx="36" cy="538" rx="8.6" ry="4.0" transform="rotate(6 36 546)"/>
<ellipse cx="60" cy="544" rx="8.8" ry="4.8" transform="rotate(-2 60 546)"/>
<ellipse cx="89" cy="544" rx="5.9" ry="4.3" transform="rotate(-0 89 548)"/>
<ellipse cx="104" cy="546" rx="7.8" ry="4.6" transform="rotate(14 104 549)"/>
<ellipse cx="133" cy="548" rx="7.6" ry="3.8" transform="rotate(-18 133 551)"/>
<ellipse cx="163" cy="555" rx="5.5" ry="5.7" transform="rotate(10 163 553)"/>
<ellipse cx="179" cy="555" rx="5.6" ry="4.2" transform="rotate(-20 179 554)"/>
<ellipse cx="201" cy="557" rx="6.3" ry="4.0" transform="rotate(-16 201 555)"/>
<ellipse cx="216" cy="548" rx="7.9" ry="4.9" transform="rotate(-15 216 556)"/>
<ellipse cx="232" cy="562" rx="5.9" ry="3.6" transform="rotate(-9 232 557)"/>
<ellipse cx="249" cy="562" rx="7.4" ry="4.6" transform="rotate(-1 249 558)"/>
<ellipse cx="269" cy="556" rx="8.0" ry="4.3" transform="rotate(-17 269 558)"/>
<ellipse cx="291" cy="558" rx="8.0" ry="3.8" transform="rotate(15 291 557)"/>
<ellipse cx="305" cy="555" rx="6.5" ry="4.3" transform="rotate(16 305 557)"/>
<ellipse cx="330" cy="561" rx="6.7" ry="5.0" transform="rotate(-19 330 557)"/>
<ellipse cx="346" cy="553" rx="7.8" ry="4.7" transform="rotate(-3 346 557)"/>
<ellipse cx="368" cy="559" rx="8.4" ry="5.9" transform="rotate(-1 368 556)"/>
<ellipse cx="382" cy="556" rx="8.1" ry="4.3" transform="rotate(-16 382 556)"/>
<ellipse cx="399" cy="551" rx="7.3" ry="4.2" transform="rotate(5 399 556)"/>
<ellipse cx="425" cy="546" rx="8.2" ry="4.6" transform="rotate(12 425 555)"/>
<ellipse cx="454" cy="547" rx="7.9" ry="5.0" transform="rotate(0 454 554)"/>
<ellipse cx="482" cy="550" rx="7.7" ry="4.1" transform="rotate(-16 482 553)"/>
<ellipse cx="500" cy="550" rx="7.1" ry="4.0" transform="rotate(-12 500 553)"/>
<ellipse cx="529" cy="558" rx="8.7" ry="5.4" transform="rotate(3 529 552)"/>
<ellipse cx="749" cy="551" rx="8.1" ry="4.1" transform="rotate(-15 749 557)"/>
<ellipse cx="768" cy="553" rx="7.8" ry="5.7" transform="rotate(19 768 559)"/>
<ellipse cx="794" cy="555" rx="4.6" ry="3.5" transform="rotate(14 794 563)"/>
<ellipse cx="818" cy="565" rx="5.1" ry="4.3" transform="rotate(-6 818 563)"/>
<ellipse cx="840" cy="561" rx="5.4" ry="3.7" transform="rotate(-12 840 562)"/>
<ellipse cx="856" cy="566" rx="6.4" ry="3.8" transform="rotate(12 856 561)"/>
<ellipse cx="879" cy="559" rx="7.4" ry="4.1" transform="rotate(-19 879 559)"/>
<ellipse cx="894" cy="560" rx="6.1" ry="4.1" transform="rotate(-8 894 558)"/>
<ellipse cx="922" cy="564" rx="6.5" ry="4.5" transform="rotate(-9 922 557)"/>
<ellipse cx="947" cy="560" rx="4.7" ry="3.9" transform="rotate(19 947 557)"/>
<ellipse cx="967" cy="561" rx="8.9" ry="5.1" transform="rotate(18 967 556)"/>
<ellipse cx="986" cy="549" rx="4.7" ry="4.1" transform="rotate(12 986 556)"/>
<ellipse cx="1008" cy="550" rx="6.2" ry="5.7" transform="rotate(-17 1008 556)"/>
<ellipse cx="1032" cy="560" rx="5.4" ry="5.7" transform="rotate(-3 1032 556)"/>
</g>
<g id="orgcloud" fill="#b7b7b7">
<ellipse cx="142" cy="300" rx="62" ry="42"/>
<ellipse cx="113" cy="268" rx="7" ry="6.5"/>
<ellipse cx="140" cy="322" rx="86" ry="42"/>
<ellipse cx="58" cy="342" rx="44" ry="38"/>
<ellipse cx="220" cy="340" rx="43" ry="40"/>
<ellipse cx="56" cy="380" rx="36" ry="28"/>
<ellipse cx="224" cy="380" rx="36" ry="27"/>
<ellipse cx="135" cy="378" rx="84" ry="38"/>
<ellipse cx="78" cy="392" rx="40" ry="32"/>
<ellipse cx="137" cy="396" rx="32" ry="28"/>
<ellipse cx="198" cy="391" rx="44" ry="33"/>
</g>
<g id="inorgcloud" fill="#4ba823">
<ellipse cx="372" cy="331" rx="50" ry="33"/>
<ellipse cx="330" cy="350" rx="34" ry="28"/>
<ellipse cx="408" cy="348" rx="32" ry="31"/>
<ellipse cx="370" cy="372" rx="56" ry="24"/>
<ellipse cx="324" cy="376" rx="27" ry="18"/>
<ellipse cx="415" cy="376" rx="25" ry="18"/>
</g>
<g id="warrows" fill="#fff" stroke="none">
<path d="M90,231.5 C115,240 150,244 184,241.5 L183,233 L201,238 L186,252.5 L184.5,246.5 C150,249 115,244 90,232.5 Z"/>
<path d="M232.5,327 C254,293.5 294,278 338,293.2 L341,287 L355.7,319.7 L329.5,310.5 L335.2,300.5 C295,287.5 257,299 233.6,328 Z"/>
<path d="M441,328 C470,308 492,285 500.5,253 L493.5,252.6 L505,231.3 L515.5,253.6 L505.6,253.2 C497,286.5 473.5,309.5 441.7,329 Z"/>
<path d="M351.6,388 L355.4,401.6 L351.1,401.05 L342.1,470.3 L346.3,470.8 L339.2,483 L335.4,469.4 L339.7,469.95 L348.7,400.7 L344.5,400.2 Z"/>
</g>
<g id="rarrows" fill="#c8302d">
<path d="M659.5,255 C668,281 683,298 701,307.5 L703.5,300.5 L719.5,315 L697,320.5 L699.5,312.5 C680,302 666,283.5 659,256 Z"/>
<path d="M643,283 C655,312 675,332 696.5,338.5 L698.5,330.5 L716,342 L694.5,351.5 L696.3,343.6 C673,336.5 653.5,315.5 642.4,284 Z"/>
</g>
<g id="pond">
<path d="M528.8,245.6 C531,252 536,262 541.7,269.4 C545,274 547,277 547.7,279.3 C550,284 550.8,289 550.7,293 C550.5,299 549.5,305 548.7,309 L597.3,309 C596.3,304 595.6,298 595.7,293 C595.8,289 596,286 597,283 C598.5,279 600.5,276 603,273 C609,266 614,261 617,255.5 C619,252 620.5,249 621,245.6 Z" fill="#a89083"/>
<path d="M528.3,243.2 C529.5,238.5 532.5,236 535.8,232.7 C539.5,228.5 542,224 545.7,219.8 C548.5,216 551.5,212.8 555.6,210.8 C560,208.7 564.5,208 569.5,207.9 C573.5,207.8 577.5,207.8 581.4,208.3 C585.5,209 588.8,210.3 591.3,212.8 C594.5,215.8 597,219.5 599.3,222.7 C601.8,226.2 604,229.5 607.2,231.7 C610.3,233.8 614,234.8 617.1,236.6 C620,238.2 622,240 622.7,242.6 C622.3,247 620,251.5 617.1,255.5 C614,259.8 610,263.5 605.2,266.4 C600.5,269.2 595,270.6 589.4,271.3 C585,271.9 580,272.3 575.5,272.3 C570,272.3 564.5,271.8 559.6,270.4 C553.5,268.6 548,266 543.7,262.4 C539.5,259 535.5,255.5 532.8,251.5 C530.5,248.5 528.5,246 528.3,243.2 Z" fill="#a2d1e5" stroke="#5ea9bd" stroke-width="1.4"/>
<path d="M528.3,243.2 C529.5,238.5 532.5,236 535.8,232.7 C539.5,228.5 542,224 545.7,219.8 C548.5,216 551.5,212.8 555.6,210.8 C560,208.7 564.5,208 569.5,207.9 C573.5,207.8 577.5,207.8 581.4,208.3 C585.5,209 588.8,210.3 591.3,212.8 C594.5,215.8 597,219.5 599.3,222.7 C601.8,226.2 604,229.5 607.2,231.7 C610.3,233.8 614,234.8 617.1,236.6 C620,238.2 622,240 622.7,242.6 L528.9,243.4 Z" fill="#b4dbe9"/>
<path d="M528.3,243.2 C529.5,238.5 532.5,236 535.8,232.7 C539.5,228.5 542,224 545.7,219.8 C548.5,216 551.5,212.8 555.6,210.8 C560,208.7 564.5,208 569.5,207.9 C573.5,207.8 577.5,207.8 581.4,208.3 C585.5,209 588.8,210.3 591.3,212.8 C594.5,215.8 597,219.5 599.3,222.7 C601.8,226.2 604,229.5 607.2,231.7 C610.3,233.8 614,234.8 617.1,236.6 C620,238.2 622,240 622.7,242.6" fill="none" stroke="#5ea9bd" stroke-width="1.4"/>
</g>
<path d="M652,210 C654,206 660,207 664,207 C670,204 676,206 676,210 C675,216 668,219 664,218 C658,217 653,214 652,210 Z" fill="#a9d8ea" stroke="#6bb6d6" stroke-width="1"/>
<g id="straw" fill="none" stroke-linecap="round">
<g transform="rotate(-7 432 224)"><path d="M372,239.0 C378.0,212.0 408.0,202.0 432,204 C462.0,203.0 489.0,214.0 492,234.0 C462.0,245.0 402.0,246.0 372,239.0 Z" fill="#4a2e1c" opacity="0.5"/><path d="M397.9,233.8 C391.5,236.0 384.4,235.3 378.4,238.6" stroke="#cfa95e" stroke-width="1.8"/><path d="M418.9,233.2 C422.1,229.8 425.9,238.2 428.9,232.7" stroke="#e2c988" stroke-width="1.7"/><path d="M386.5,223.2 C379.0,225.0 371.9,230.6 363.6,225.9" stroke="#cfa95e" stroke-width="2.5"/><path d="M477.5,223.7 C481.4,229.8 486.2,230.4 491.9,226.3" stroke="#c79f52" stroke-width="2.5"/><path d="M433.9,225.6 C439.2,224.0 441.3,227.8 443.6,231.2" stroke="#d7b66c" stroke-width="2.6"/><path d="M413.3,237.4 C420.4,240.6 426.6,238.9 432.0,233.7" stroke="#d7b66c" stroke-width="2.1"/><path d="M464.3,223.2 C470.9,221.0 478.2,226.5 484.5,221.3" stroke="#e2c988" stroke-width="1.8"/><path d="M457.1,210.1 C454.4,206.3 449.7,207.8 446.2,206.1" stroke="#e2c988" stroke-width="2.4"/><path d="M483.0,229.0 C489.5,232.5 493.3,228.6 496.9,224.1" stroke="#d7b66c" stroke-width="2.6"/><path d="M444.4,221.8 C441.6,215.8 436.2,216.9 431.2,217.0" stroke="#d7b66c" stroke-width="2.7"/><path d="M461.2,234.7 C467.2,237.3 473.8,237.9 479.7,240.7" stroke="#dcc07a" stroke-width="2.2"/><path d="M404.3,226.0 C411.8,224.4 419.1,218.8 427.3,224.1" stroke="#d7b66c" stroke-width="2.3"/><path d="M450.3,220.1 C446.8,220.0 442.8,217.8 440.7,222.8" stroke="#d7b66c" stroke-width="2.5"/><path d="M480.5,215.5 C472.5,219.9 465.5,218.7 459.4,211.9" stroke="#e2c988" stroke-width="1.9"/><path d="M391.3,224.8 C387.0,226.5 384.7,232.0 379.0,230.7" stroke="#e2c988" stroke-width="2.3"/><path d="M414.6,227.7 C410.4,231.3 403.6,228.7 400.1,233.7" stroke="#e2c988" stroke-width="1.8"/><path d="M473.6,222.7 C478.4,217.5 482.7,217.9 486.4,224.0" stroke="#cfa95e" stroke-width="1.7"/><path d="M478.7,221.5 C484.8,226.8 490.1,222.3 495.7,220.3" stroke="#d7b66c" stroke-width="2.2"/><path d="M426.0,202.4 C432.2,203.4 437.0,208.7 443.7,208.0" stroke="#cfa95e" stroke-width="2.7"/><path d="M466.4,217.7 C474.1,219.1 480.4,214.0 487.7,213.6" stroke="#e2c988" stroke-width="1.8"/><path d="M430.9,238.8 C436.3,236.7 443.2,239.1 447.7,233.9" stroke="#d7b66c" stroke-width="2.2"/><path d="M423.6,218.3 C418.8,221.1 414.5,221.4 411.1,216.1" stroke="#c79f52" stroke-width="2.0"/><path d="M441.4,220.5 C433.8,220.8 428.1,216.7 422.6,212.2" stroke="#d7b66c" stroke-width="2.5"/><path d="M404.0,209.0 C410.4,209.4 414.1,217.2 421.4,215.2" stroke="#d7b66c" stroke-width="2.2"/><path d="M464.3,209.6 C462.0,205.4 457.8,205.4 453.9,204.9" stroke="#e2c988" stroke-width="2.1"/><path d="M401.9,213.9 C408.7,219.3 416.9,211.1 423.8,216.2" stroke="#d7b66c" stroke-width="2.5"/><path d="M416.4,222.8 C410.5,224.1 406.5,221.9 404.6,216.1" stroke="#d7b66c" stroke-width="2.5"/><path d="M422.8,223.2 C417.4,220.9 415.2,225.9 411.9,228.2" stroke="#dcc07a" stroke-width="2.2"/><path d="M396.9,238.7 C400.3,231.7 406.0,228.7 413.6,229.2" stroke="#dcc07a" stroke-width="1.9"/><path d="M460.1,226.6 C464.0,222.3 468.5,230.3 472.4,226.0" stroke="#c79f52" stroke-width="2.6"/><path d="M428.3,238.6 C421.1,240.4 414.7,246.2 406.5,243.1" stroke="#e2c988" stroke-width="1.7"/><path d="M415.3,225.2 C409.2,221.4 403.8,221.7 399.6,228.1" stroke="#c79f52" stroke-width="1.8"/><path d="M386.0,227.0 C393.8,229.2 401.9,224.8 409.7,228.0" stroke="#d7b66c" stroke-width="1.9"/><path d="M386.9,221.8 C391.0,214.9 399.3,217.1 404.9,213.6" stroke="#e2c988" stroke-width="2.6"/><path d="M411.8,216.9 C417.3,220.7 420.8,212.9 425.9,214.4" stroke="#e2c988" stroke-width="1.8"/><path d="M440.1,236.2 C443.3,234.1 446.4,231.6 450.6,233.2" stroke="#dcc07a" stroke-width="2.4"/><path d="M469.3,220.4 C465.6,215.7 459.0,218.5 454.8,214.9" stroke="#d7b66c" stroke-width="2.6"/><path d="M403.5,237.1 C394.9,239.0 389.3,232.1 382.1,229.9" stroke="#d7b66c" stroke-width="2.0"/><path d="M401.0,234.3 C405.8,239.5 412.1,241.6 418.9,242.3" stroke="#cfa95e" stroke-width="2.0"/><path d="M426.1,208.5 C433.6,208.8 439.8,204.4 446.9,203.2" stroke="#c79f52" stroke-width="2.2"/><path d="M445.1,235.5 C440.0,238.9 434.8,242.3 428.9,237.2" stroke="#c79f52" stroke-width="2.7"/><path d="M446.3,229.2 C443.5,226.8 438.3,228.8 436.9,223.9" stroke="#dcc07a" stroke-width="1.9"/><path d="M381.2,225.3 C376.0,222.3 370.5,221.0 364.6,222.9" stroke="#cfa95e" stroke-width="2.0"/><path d="M444.7,241.9 C451.6,243.5 458.0,241.6 464.2,238.8" stroke="#cfa95e" stroke-width="1.7"/><path d="M370.7,227.0 C378.8,228.7 383.2,220.2 390.5,219.9" stroke="#e2c988" stroke-width="2.5"/><path d="M406.5,229.7 C412.8,235.1 419.4,236.4 426.7,231.6" stroke="#d7b66c" stroke-width="2.1"/><path d="M379.6,217.8 C387.0,219.3 394.6,219.8 401.7,222.7" stroke="#e2c988" stroke-width="2.1"/><path d="M485.4,225.0 C477.4,227.7 469.4,229.4 461.5,224.4" stroke="#dcc07a" stroke-width="2.7"/><path d="M378.1,231.8 C385.3,232.3 391.4,239.0 399.3,235.2" stroke="#c79f52" stroke-width="2.6"/><path d="M469.1,219.8 C476.6,219.2 484.0,215.4 491.7,218.4" stroke="#c79f52" stroke-width="2.3"/><path d="M414.4,210.2 C417.3,203.5 422.3,204.4 427.6,206.8" stroke="#c79f52" stroke-width="2.3"/><path d="M406.5,211.8 C403.6,215.2 398.2,211.9 395.6,215.9" stroke="#c79f52" stroke-width="2.5"/><path d="M427.2,219.8 C434.4,220.4 441.5,221.2 447.7,225.5" stroke="#dcc07a" stroke-width="2.6"/><path d="M370.0,226.6 C373.8,228.6 376.9,227.0 379.8,224.6" stroke="#dcc07a" stroke-width="2.2"/><path d="M432.4,217.0 C437.1,210.4 443.4,214.8 449.1,214.6" stroke="#c79f52" stroke-width="2.1"/><path d="M446.8,217.6 C440.4,212.1 433.3,218.1 426.6,216.2" stroke="#d7b66c" stroke-width="1.7"/><path d="M395.3,223.3 C400.2,230.8 408.8,227.5 415.3,230.2" stroke="#d7b66c" stroke-width="2.1"/><path d="M418.0,210.8 C411.6,216.5 405.5,211.7 399.3,210.2" stroke="#c79f52" stroke-width="2.7"/><path d="M401.0,225.3 C409.5,221.9 415.0,234.0 423.7,229.9" stroke="#cfa95e" stroke-width="2.3"/><path d="M442.1,226.9 C446.6,232.8 452.0,231.6 457.6,228.9" stroke="#cfa95e" stroke-width="2.5"/><path d="M462.8,228.7 C468.5,231.8 472.3,226.9 476.9,225.3" stroke="#cfa95e" stroke-width="2.2"/><path d="M411.3,208.6 C405.6,208.8 401.5,216.0 395.0,212.3" stroke="#dcc07a" stroke-width="2.4"/><path d="M385.6,225.4 C378.5,221.8 370.9,221.3 363.2,221.1" stroke="#cfa95e" stroke-width="2.2"/><path d="M395.2,215.6 C398.3,218.2 402.3,216.7 405.7,217.7" stroke="#d7b66c" stroke-width="2.4"/><path d="M401.3,231.8 C395.6,228.6 388.3,230.7 383.2,225.8" stroke="#d7b66c" stroke-width="2.1"/><path d="M438.9,215.8 C433.3,213.2 426.4,216.1 421.2,211.9" stroke="#dcc07a" stroke-width="2.6"/><path d="M485.7,223.9 C478.3,223.1 471.0,222.0 466.8,214.7" stroke="#cfa95e" stroke-width="2.6"/><path d="M431.3,229.9 C437.9,226.9 443.5,221.3 451.7,222.3" stroke="#cfa95e" stroke-width="2.6"/><path d="M431.6,213.0 C426.3,213.0 424.5,221.2 418.2,218.6" stroke="#cfa95e" stroke-width="2.1"/><path d="M426.0,210.4 C431.3,212.5 431.4,204.2 436.2,205.2" stroke="#dcc07a" stroke-width="2.2"/><path d="M424.3,232.1 C431.5,229.0 439.2,232.7 446.6,230.9" stroke="#cfa95e" stroke-width="1.8"/><path d="M426.8,220.4 C421.0,218.6 417.8,224.0 413.1,225.2" stroke="#d7b66c" stroke-width="2.1"/><path d="M433.5,210.7 C430.5,217.1 425.9,219.8 418.9,216.9" stroke="#dcc07a" stroke-width="2.6"/><path d="M417.9,222.1 C414.6,215.9 409.0,214.8 402.8,215.1" stroke="#cfa95e" stroke-width="2.5"/><path d="M364.5,218.3 C372.1,215.6 379.6,213.8 386.8,219.2" stroke="#e2c988" stroke-width="2.6"/><path d="M400.4,210.9 C404.6,211.6 407.3,209.4 409.3,206.0" stroke="#cfa95e" stroke-width="2.4"/><path d="M430.3,229.6 C421.9,233.7 415.6,222.3 407.2,226.4" stroke="#d7b66c" stroke-width="1.9"/><path d="M415.9,226.5 C420.7,229.6 425.7,232.2 430.9,234.6" stroke="#d7b66c" stroke-width="2.1"/><path d="M441.8,228.9 C448.9,227.6 453.5,237.3 461.2,233.3" stroke="#cfa95e" stroke-width="1.8"/><path d="M391.2,219.6 C394.6,220.2 398.1,220.5 401.6,221.0" stroke="#dcc07a" stroke-width="2.7"/><path d="M383.8,221.4 C378.3,221.1 372.9,221.2 369.8,227.0" stroke="#dcc07a" stroke-width="2.4"/><path d="M397.4,214.9 C401.1,208.9 406.2,210.3 411.4,212.1" stroke="#cfa95e" stroke-width="2.0"/><path d="M409.4,212.1 C414.9,209.7 419.0,204.2 425.8,204.8" stroke="#e2c988" stroke-width="2.2"/><path d="M411.7,240.9 C416.6,239.3 421.6,237.7 426.2,235.1" stroke="#d7b66c" stroke-width="2.4"/><path d="M446.6,235.9 C440.0,238.8 432.8,238.6 425.9,240.3" stroke="#dcc07a" stroke-width="2.1"/><path d="M416.7,233.7 C411.2,236.8 404.9,231.6 399.4,235.1" stroke="#d7b66c" stroke-width="2.2"/><path d="M446.2,207.7 C439.7,214.0 430.5,204.7 424.1,211.6" stroke="#c79f52" stroke-width="2.2"/><path d="M422.3,235.0 C418.2,232.3 411.6,235.8 409.1,229.4" stroke="#dcc07a" stroke-width="2.2"/><path d="M431.0,239.7 C438.0,239.4 443.4,247.5 451.1,243.8" stroke="#e2c988" stroke-width="2.1"/><path d="M435.6,238.5 C429.6,238.3 424.9,241.5 419.9,244.0" stroke="#dcc07a" stroke-width="1.9"/><path d="M416.8,233.7 C418.8,229.9 421.1,227.0 425.9,229.7" stroke="#e2c988" stroke-width="1.8"/><path d="M450.6,231.4 C445.0,225.7 437.2,227.2 430.5,225.3" stroke="#c79f52" stroke-width="1.7"/><path d="M406.7,238.3 C413.2,238.0 420.3,239.7 425.7,234.1" stroke="#cfa95e" stroke-width="2.1"/><path d="M442.5,221.4 C448.5,227.0 454.9,231.3 463.7,228.0" stroke="#e2c988" stroke-width="2.1"/><path d="M379.6,226.9 C375.7,223.9 370.8,223.2 366.4,221.5" stroke="#d7b66c" stroke-width="2.3"/><path d="M433.9,212.5 C428.5,216.0 424.3,213.1 420.2,209.9" stroke="#e2c988" stroke-width="2.7"/><path d="M428.3,225.5 C434.1,229.5 440.0,231.2 446.0,226.0" stroke="#c79f52" stroke-width="2.3"/><path d="M447.6,220.9 C443.5,217.8 439.5,215.6 435.8,221.5" stroke="#e2c988" stroke-width="2.3"/><path d="M433.5,214.9 C437.0,218.6 440.1,223.0 446.3,221.1" stroke="#dcc07a" stroke-width="2.5"/><path d="M407.6,223.0 C414.5,221.9 421.2,219.3 428.4,220.3" stroke="#c79f52" stroke-width="2.5"/><path d="M425.4,206.8 C429.2,207.4 433.6,206.9 434.7,212.2" stroke="#e2c988" stroke-width="2.6"/><path d="M428.5,239.1 C424.0,241.5 418.8,234.9 414.6,240.2" stroke="#cfa95e" stroke-width="2.4"/><path d="M439.4,237.1 C431.7,234.9 429.4,244.9 422.5,244.7" stroke="#dcc07a" stroke-width="1.8"/><path d="M396.3,234.3 C391.7,239.5 388.7,234.0 385.1,232.6" stroke="#dcc07a" stroke-width="2.2"/><path d="M445.4,222.1 C439.5,218.3 432.7,216.3 426.9,212.2" stroke="#dcc07a" stroke-width="2.7"/><path d="M464.4,212.9 C456.9,214.8 451.1,208.4 443.9,208.7" stroke="#c79f52" stroke-width="1.8"/><path d="M417.3,230.8 C422.9,230.0 428.0,225.5 434.1,229.0" stroke="#d7b66c" stroke-width="2.6"/><path d="M389.4,220.9 C394.8,220.7 398.4,224.7 402.9,226.6" stroke="#d7b66c" stroke-width="2.6"/><path d="M457.3,231.8 C464.5,231.4 469.1,224.8 476.0,223.6" stroke="#e2c988" stroke-width="1.8"/><path d="M437.4,219.6 C442.8,214.5 449.1,211.4 456.7,211.2" stroke="#cfa95e" stroke-width="1.8"/><path d="M388.1,221.5 C392.4,225.1 399.7,223.2 402.8,229.2" stroke="#c79f52" stroke-width="2.0"/><path d="M421.2,215.6 C426.8,212.5 432.4,211.7 438.1,215.6" stroke="#cfa95e" stroke-width="2.4"/><path d="M435.6,221.1 C439.7,216.8 443.7,224.3 447.7,221.2" stroke="#cfa95e" stroke-width="2.0"/><path d="M436.4,214.6 C434.6,220.2 429.4,216.8 426.1,218.5" stroke="#dcc07a" stroke-width="2.3"/><path d="M447.8,212.2 C452.1,211.5 456.7,206.8 460.5,213.0" stroke="#dcc07a" stroke-width="2.5"/><path d="M460.9,214.5 C468.3,217.2 473.3,209.0 480.4,210.2" stroke="#d7b66c" stroke-width="2.1"/><path d="M391.5,219.3 C388.6,217.1 384.3,218.0 381.7,215.0" stroke="#dcc07a" stroke-width="2.4"/><path d="M390.0,213.2 C388.0,218.6 383.0,218.0 378.8,218.9" stroke="#cfa95e" stroke-width="1.8"/><path d="M471.8,233.8 C466.6,236.3 465.7,230.0 462.1,229.2" stroke="#d7b66c" stroke-width="2.2"/><path d="M428.8,237.6 C425.6,242.9 419.7,239.0 415.7,241.4" stroke="#dcc07a" stroke-width="1.9"/><path d="M406.1,218.4 C400.5,219.5 395.1,221.5 389.5,222.6" stroke="#c79f52" stroke-width="2.4"/><path d="M449.8,208.2 C458.0,210.7 465.3,206.2 473.0,205.1" stroke="#d7b66c" stroke-width="1.7"/><path d="M414.1,232.3 C412.4,226.9 406.0,232.0 403.9,227.6" stroke="#e2c988" stroke-width="2.1"/><path d="M416.5,213.2 C412.0,205.9 402.6,212.6 397.6,206.6" stroke="#e2c988" stroke-width="2.4"/><path d="M463.8,224.8 C465.9,227.6 469.9,226.5 472.0,229.0" stroke="#d7b66c" stroke-width="2.6"/><path d="M430.7,228.9 C426.2,230.0 422.2,234.8 417.0,230.7" stroke="#dcc07a" stroke-width="2.3"/><path d="M444.9,233.9 C451.8,237.7 459.2,235.8 466.4,235.8" stroke="#d7b66c" stroke-width="2.6"/><path d="M440.5,237.1 C446.5,232.4 454.1,234.3 460.6,231.9" stroke="#e2c988" stroke-width="2.6"/><path d="M447.0,222.4 C454.4,225.3 460.8,224.0 466.0,217.7" stroke="#d7b66c" stroke-width="2.1"/><path d="M406.5,215.8 C413.7,217.0 420.7,215.2 427.8,214.6" stroke="#dcc07a" stroke-width="2.0"/><path d="M377.0,222.4 C382.4,226.2 389.1,219.4 394.3,224.6" stroke="#d7b66c" stroke-width="1.7"/><path d="M469.9,221.9 C475.0,215.4 482.3,215.7 489.4,215.2" stroke="#e2c988" stroke-width="2.4"/><path d="M457.8,221.6 C463.4,224.2 468.9,217.8 474.4,221.5" stroke="#c79f52" stroke-width="2.1"/><path d="M392.4,220.2 C388.8,222.6 383.2,220.2 380.5,225.0" stroke="#dcc07a" stroke-width="2.6"/><path d="M419.4,215.8 C425.7,213.7 429.5,219.4 434.8,220.9" stroke="#dcc07a" stroke-width="2.6"/><path d="M365.3,216.9 C371.2,218.8 377.5,218.5 383.2,221.2" stroke="#dcc07a" stroke-width="2.2"/><path d="M396.4,221.9 C398.6,216.1 403.9,219.8 407.4,218.2" stroke="#d7b66c" stroke-width="2.7"/><path d="M384.5,226.9 C390.6,231.6 396.1,228.7 401.6,225.6" stroke="#d7b66c" stroke-width="2.4"/><path d="M456.7,226.2 C453.0,223.4 448.0,225.1 444.2,222.6" stroke="#d7b66c" stroke-width="1.8"/><path d="M438.7,235.3 C436.6,231.8 431.4,236.5 429.7,231.8" stroke="#cfa95e" stroke-width="2.7"/><path d="M448.2,216.5 C453.9,215.3 459.6,212.0 465.6,215.7" stroke="#c79f52" stroke-width="2.4"/><path d="M474.7,225.6 C469.9,225.9 465.6,225.1 463.3,220.1" stroke="#d7b66c" stroke-width="1.8"/><path d="M421.7,237.7 C417.2,238.0 414.5,245.3 408.9,240.9" stroke="#cfa95e" stroke-width="2.7"/><path d="M449.9,229.3 C443.4,232.2 438.6,227.3 433.1,225.7" stroke="#cfa95e" stroke-width="1.8"/><path d="M414.7,219.3 C418.6,220.2 422.1,225.1 426.6,220.4" stroke="#c79f52" stroke-width="1.8"/><path d="M403.6,233.2 C398.1,234.2 392.8,234.7 389.0,229.5" stroke="#c79f52" stroke-width="2.2"/><path d="M390.7,219.5 C394.5,222.2 398.3,225.1 403.4,223.7" stroke="#e2c988" stroke-width="2.3"/><path d="M376.9,218.4 C382.9,218.7 387.2,225.9 394.1,222.7" stroke="#cfa95e" stroke-width="2.5"/><path d="M423.7,240.3 C418.7,245.2 415.2,243.0 412.4,237.8" stroke="#cfa95e" stroke-width="2.7"/><path d="M447.7,226.9 C443.3,232.1 436.3,228.0 431.3,231.5" stroke="#d7b66c" stroke-width="2.2"/><path d="M458.4,222.6 C460.7,217.1 466.5,219.8 470.1,217.4" stroke="#c79f52" stroke-width="2.5"/><path d="M439.7,222.0 C432.7,222.8 426.0,222.5 421.5,215.9" stroke="#dcc07a" stroke-width="2.5"/><path d="M465.8,211.2 C470.0,209.8 474.1,209.5 478.3,211.2" stroke="#cfa95e" stroke-width="2.1"/><path d="M490.5,218.1 C482.5,215.9 478.2,224.8 471.0,224.7" stroke="#dcc07a" stroke-width="2.3"/><path d="M432.1,207.4 C437.3,205.1 442.5,204.7 447.7,207.6" stroke="#e2c988" stroke-width="2.2"/><path d="M495.5,224.7 C487.9,223.8 480.4,227.3 472.8,225.2" stroke="#cfa95e" stroke-width="2.3"/><path d="M433.3,241.3 C437.1,240.0 440.6,240.8 444.1,242.5" stroke="#d7b66c" stroke-width="2.5"/><path d="M434.1,212.3 C437.9,208.1 442.7,205.8 448.1,204.4" stroke="#d7b66c" stroke-width="1.7"/><path d="M407.0,211.2 C412.5,206.6 421.5,209.6 425.8,202.5" stroke="#d7b66c" stroke-width="1.7"/><path d="M396.8,218.7 C391.4,221.2 388.6,217.4 385.8,214.0" stroke="#d7b66c" stroke-width="2.1"/><path d="M408.5,217.8 C413.4,220.4 417.0,213.7 421.9,216.1" stroke="#e2c988" stroke-width="2.5"/><path d="M410.9,218.8 C418.6,220.2 424.7,218.0 428.4,210.7" stroke="#c79f52" stroke-width="1.8"/><path d="M412.2,229.7 C408.1,231.2 403.0,229.6 399.6,233.5" stroke="#e2c988" stroke-width="2.5"/><path d="M478.1,212.2 C472.1,214.3 466.4,211.4 460.5,211.3" stroke="#dcc07a" stroke-width="2.1"/><path d="M410.6,233.3 C414.8,237.2 416.4,226.8 420.7,231.5" stroke="#d7b66c" stroke-width="2.4"/><path d="M452.9,226.3 C449.7,223.9 447.9,218.4 442.2,221.6" stroke="#d7b66c" stroke-width="1.8"/><path d="M408.3,213.7 C407.8,207.8 403.7,208.6 399.7,209.2" stroke="#cfa95e" stroke-width="2.6"/><path d="M439.7,205.5 C431.7,204.9 427.5,211.6 421.6,215.0" stroke="#cfa95e" stroke-width="1.7"/><path d="M442.4,211.9 C437.7,213.2 433.0,210.1 428.4,212.0" stroke="#cfa95e" stroke-width="2.3"/><path d="M382.9,226.7 C390.8,225.7 398.4,227.8 406.1,228.6" stroke="#dcc07a" stroke-width="2.4"/></g>
<g transform="rotate(-2 363 245)"><path d="M303,258.5 C309.0,234.2 339.0,225.2 363,227 C393.0,226.1 420.0,236.0 423,254.0 C393.0,263.9 333.0,264.8 303,258.5 Z" fill="#4a2e1c" opacity="0.5"/><path d="M393.9,254.0 C400.4,254.0 406.6,252.5 412.6,250.4" stroke="#cfa95e" stroke-width="2.7"/><path d="M390.6,254.6 C383.3,249.3 375.9,254.4 368.6,254.4" stroke="#dcc07a" stroke-width="2.6"/><path d="M335.4,259.7 C342.6,255.1 350.2,254.7 358.0,258.0" stroke="#cfa95e" stroke-width="1.7"/><path d="M335.4,227.8 C341.5,227.5 342.1,236.6 348.6,235.5" stroke="#c79f52" stroke-width="2.4"/><path d="M401.5,254.6 C409.1,259.0 414.7,248.6 422.1,251.6" stroke="#c79f52" stroke-width="2.4"/><path d="M351.4,241.8 C354.5,247.3 361.4,244.8 365.4,248.4" stroke="#c79f52" stroke-width="2.6"/><path d="M369.2,248.9 C361.2,250.4 354.2,247.6 347.4,244.0" stroke="#cfa95e" stroke-width="2.6"/><path d="M368.9,255.0 C375.0,257.8 379.8,253.6 385.0,251.8" stroke="#d7b66c" stroke-width="2.4"/><path d="M367.1,237.6 C371.4,239.1 375.8,232.6 380.0,237.7" stroke="#e2c988" stroke-width="2.4"/><path d="M387.1,238.6 C383.3,236.9 380.9,231.9 375.6,234.0" stroke="#cfa95e" stroke-width="2.5"/><path d="M416.1,252.2 C413.3,258.3 409.6,257.7 405.5,253.7" stroke="#dcc07a" stroke-width="1.7"/><path d="M328.2,256.6 C331.4,254.2 333.9,249.3 339.2,253.0" stroke="#cfa95e" stroke-width="1.9"/><path d="M316.1,240.9 C309.8,241.3 303.1,243.4 298.6,236.6" stroke="#c79f52" stroke-width="2.3"/><path d="M368.8,229.2 C373.0,224.7 378.4,233.8 382.4,227.9" stroke="#dcc07a" stroke-width="2.4"/><path d="M348.0,233.3 C343.7,230.6 338.2,230.7 333.9,227.6" stroke="#d7b66c" stroke-width="2.0"/><path d="M402.5,235.7 C405.1,239.6 407.4,244.0 413.3,241.6" stroke="#dcc07a" stroke-width="2.0"/><path d="M311.2,234.9 C316.9,235.9 319.9,226.9 326.4,230.7" stroke="#cfa95e" stroke-width="1.9"/><path d="M347.4,234.5 C353.1,237.7 359.7,233.1 365.4,236.7" stroke="#c79f52" stroke-width="2.0"/><path d="M386.2,234.6 C389.2,228.6 393.8,227.1 399.9,229.7" stroke="#dcc07a" stroke-width="1.9"/><path d="M339.4,234.1 C333.6,232.6 328.0,238.0 322.1,234.7" stroke="#cfa95e" stroke-width="2.4"/><path d="M362.4,240.8 C357.4,243.0 354.2,248.8 347.7,248.2" stroke="#dcc07a" stroke-width="2.4"/><path d="M370.7,223.5 C363.1,224.3 355.4,224.6 350.5,231.8" stroke="#e2c988" stroke-width="1.7"/><path d="M378.9,228.2 C385.0,224.5 387.5,230.7 391.6,232.7" stroke="#c79f52" stroke-width="2.3"/><path d="M365.8,253.3 C362.0,257.8 355.0,256.7 351.4,261.6" stroke="#cfa95e" stroke-width="2.5"/><path d="M318.4,246.8 C323.5,245.4 328.5,241.9 333.8,246.3" stroke="#dcc07a" stroke-width="1.8"/><path d="M384.1,236.3 C379.0,236.4 374.7,239.5 369.9,240.6" stroke="#dcc07a" stroke-width="2.4"/><path d="M370.3,241.6 C365.3,239.7 360.2,238.7 355.3,236.9" stroke="#c79f52" stroke-width="2.6"/><path d="M409.9,237.1 C405.5,238.0 401.1,235.0 396.7,237.2" stroke="#dcc07a" stroke-width="2.3"/><path d="M351.7,260.6 C348.1,265.9 343.3,256.6 339.7,261.6" stroke="#dcc07a" stroke-width="1.8"/><path d="M348.0,236.6 C341.7,235.2 334.6,238.9 329.2,233.2" stroke="#d7b66c" stroke-width="2.7"/><path d="M412.4,243.2 C416.0,238.4 420.6,237.0 426.1,239.7" stroke="#cfa95e" stroke-width="2.1"/><path d="M365.4,235.4 C371.6,236.7 372.3,227.8 378.2,228.5" stroke="#d7b66c" stroke-width="1.8"/><path d="M325.8,236.5 C332.4,234.3 339.3,236.0 345.9,234.8" stroke="#dcc07a" stroke-width="2.5"/><path d="M396.0,235.6 C402.7,240.7 408.5,236.0 414.5,233.8" stroke="#dcc07a" stroke-width="2.0"/><path d="M373.3,255.5 C368.7,258.2 364.4,261.9 358.4,260.5" stroke="#d7b66c" stroke-width="2.3"/><path d="M305.6,257.9 C312.2,256.8 317.2,250.5 324.5,251.9" stroke="#d7b66c" stroke-width="1.8"/><path d="M383.2,242.3 C378.5,245.5 374.6,236.1 369.7,241.4" stroke="#dcc07a" stroke-width="2.1"/><path d="M403.7,249.1 C411.1,250.7 416.4,248.1 419.6,241.4" stroke="#c79f52" stroke-width="2.0"/><path d="M368.6,229.3 C365.8,225.6 362.4,224.3 358.1,226.6" stroke="#c79f52" stroke-width="2.0"/><path d="M386.2,251.4 C378.3,249.3 374.4,255.2 369.9,259.6" stroke="#cfa95e" stroke-width="1.7"/><path d="M377.4,260.3 C372.4,260.8 367.5,255.5 362.3,259.8" stroke="#e2c988" stroke-width="2.2"/><path d="M328.6,248.7 C322.6,252.1 316.2,253.1 309.4,252.5" stroke="#e2c988" stroke-width="2.4"/><path d="M355.7,256.5 C352.1,255.6 348.9,251.4 344.6,255.0" stroke="#d7b66c" stroke-width="2.3"/><path d="M347.6,232.9 C341.1,229.2 338.6,240.0 332.3,237.1" stroke="#c79f52" stroke-width="2.6"/><path d="M335.9,238.2 C330.5,234.5 326.3,240.0 321.4,240.2" stroke="#cfa95e" stroke-width="2.6"/><path d="M367.2,246.9 C360.3,251.3 352.9,253.1 344.9,250.8" stroke="#e2c988" stroke-width="1.9"/><path d="M328.3,243.6 C333.7,242.7 336.8,249.0 342.2,248.1" stroke="#d7b66c" stroke-width="2.2"/><path d="M376.2,257.0 C381.3,263.5 388.3,263.1 395.4,261.9" stroke="#e2c988" stroke-width="2.2"/><path d="M386.6,229.4 C381.7,224.6 377.1,230.2 372.3,229.6" stroke="#dcc07a" stroke-width="2.6"/><path d="M335.3,235.2 C342.1,237.3 348.2,241.1 354.9,243.4" stroke="#cfa95e" stroke-width="2.5"/><path d="M381.4,248.6 C375.4,249.6 372.0,244.5 367.3,242.4" stroke="#cfa95e" stroke-width="2.5"/><path d="M349.1,229.0 C343.9,228.8 339.6,230.5 336.4,234.7" stroke="#dcc07a" stroke-width="2.0"/><path d="M343.0,255.1 C345.9,253.1 350.4,255.6 352.5,251.4" stroke="#cfa95e" stroke-width="2.0"/><path d="M363.1,229.0 C369.8,227.2 376.3,226.5 381.3,232.9" stroke="#c79f52" stroke-width="2.2"/><path d="M399.7,249.2 C405.7,248.5 410.2,244.4 415.4,242.1" stroke="#c79f52" stroke-width="2.5"/><path d="M364.5,237.5 C357.4,235.1 357.1,245.9 350.6,244.7" stroke="#d7b66c" stroke-width="2.6"/><path d="M320.5,232.8 C315.8,237.3 311.3,242.1 304.1,242.2" stroke="#cfa95e" stroke-width="2.1"/><path d="M412.4,242.6 C405.1,247.2 397.8,248.6 390.4,243.2" stroke="#d7b66c" stroke-width="2.2"/><path d="M313.4,247.2 C310.4,245.9 306.3,248.0 304.2,244.2" stroke="#e2c988" stroke-width="2.2"/><path d="M320.9,232.8 C317.2,232.4 313.2,230.8 311.0,235.7" stroke="#d7b66c" stroke-width="2.2"/><path d="M324.3,252.4 C319.2,256.3 313.0,256.6 307.0,257.6" stroke="#c79f52" stroke-width="1.8"/><path d="M345.5,235.1 C342.1,236.3 339.1,238.1 335.8,239.3" stroke="#e2c988" stroke-width="1.9"/><path d="M379.8,255.0 C383.3,249.4 388.3,246.6 395.0,246.8" stroke="#d7b66c" stroke-width="1.7"/><path d="M326.2,249.7 C332.5,247.9 338.2,248.3 342.8,253.7" stroke="#e2c988" stroke-width="1.7"/><path d="M374.2,243.0 C375.6,248.6 381.2,246.1 384.4,248.2" stroke="#e2c988" stroke-width="2.7"/><path d="M312.4,234.6 C320.4,232.3 323.5,243.5 331.4,241.6" stroke="#dcc07a" stroke-width="2.2"/><path d="M372.7,233.3 C378.2,228.6 384.8,228.5 391.5,229.0" stroke="#d7b66c" stroke-width="2.4"/><path d="M385.4,251.8 C378.2,256.2 370.2,248.4 363.0,253.3" stroke="#c79f52" stroke-width="2.7"/><path d="M358.2,248.7 C352.3,245.2 346.2,243.5 339.7,247.2" stroke="#e2c988" stroke-width="2.0"/><path d="M313.2,250.6 C320.6,250.4 328.1,251.0 333.7,244.8" stroke="#e2c988" stroke-width="2.6"/><path d="M372.5,256.7 C370.6,250.3 364.0,259.5 362.0,253.6" stroke="#d7b66c" stroke-width="2.0"/><path d="M381.9,239.4 C386.8,233.2 392.7,239.5 397.9,238.1" stroke="#cfa95e" stroke-width="1.9"/><path d="M332.3,254.7 C325.4,256.4 318.5,257.9 312.6,252.1" stroke="#c79f52" stroke-width="2.5"/><path d="M328.4,263.2 C336.7,265.2 342.7,259.9 349.4,256.8" stroke="#c79f52" stroke-width="2.2"/><path d="M336.5,235.2 C333.2,233.2 329.2,235.3 325.9,233.4" stroke="#c79f52" stroke-width="1.8"/><path d="M368.9,238.1 C362.5,244.8 353.9,241.0 346.5,242.9" stroke="#dcc07a" stroke-width="2.3"/><path d="M375.9,226.6 C371.0,229.7 365.8,228.9 360.5,227.6" stroke="#e2c988" stroke-width="2.2"/><path d="M406.3,249.1 C398.7,253.0 393.7,246.4 387.5,244.6" stroke="#cfa95e" stroke-width="2.3"/><path d="M332.5,233.5 C328.3,231.9 325.6,234.3 323.1,237.0" stroke="#d7b66c" stroke-width="1.8"/><path d="M377.6,243.1 C381.4,242.0 386.3,246.7 389.2,240.9" stroke="#e2c988" stroke-width="2.5"/><path d="M392.8,231.1 C388.2,227.1 383.4,224.8 377.9,229.5" stroke="#e2c988" stroke-width="2.5"/><path d="M419.8,239.4 C411.9,239.5 410.0,250.8 401.2,249.5" stroke="#d7b66c" stroke-width="2.4"/><path d="M359.8,248.5 C364.9,244.0 370.1,242.2 375.8,247.2" stroke="#d7b66c" stroke-width="2.5"/><path d="M384.4,241.8 C390.1,244.4 391.3,238.8 394.2,236.3" stroke="#cfa95e" stroke-width="2.1"/><path d="M380.7,227.4 C377.0,229.7 372.6,230.0 368.6,231.3" stroke="#e2c988" stroke-width="2.3"/><path d="M339.5,249.6 C334.2,243.7 324.6,246.9 319.6,240.3" stroke="#cfa95e" stroke-width="2.2"/><path d="M356.7,260.4 C350.7,261.1 344.8,254.8 338.7,260.2" stroke="#c79f52" stroke-width="1.9"/><path d="M368.5,234.6 C374.9,237.0 377.0,231.6 380.2,228.1" stroke="#d7b66c" stroke-width="2.3"/><path d="M414.4,243.5 C418.5,241.5 422.9,244.5 427.0,242.7" stroke="#dcc07a" stroke-width="2.5"/><path d="M371.3,225.7 C375.3,227.7 379.4,229.4 383.9,230.2" stroke="#e2c988" stroke-width="1.9"/><path d="M377.5,239.9 C384.8,240.3 392.1,239.8 399.4,239.1" stroke="#c79f52" stroke-width="2.0"/><path d="M420.9,240.4 C418.2,234.3 413.8,237.2 409.7,238.3" stroke="#c79f52" stroke-width="1.8"/><path d="M368.2,244.9 C373.1,246.2 376.3,250.6 381.3,251.8" stroke="#e2c988" stroke-width="2.6"/><path d="M375.5,235.1 C371.5,234.0 368.9,229.7 364.2,230.2" stroke="#cfa95e" stroke-width="2.1"/><path d="M404.7,245.4 C409.2,250.8 414.7,248.9 420.1,247.6" stroke="#dcc07a" stroke-width="2.1"/><path d="M312.6,244.9 C309.9,242.3 307.4,239.5 303.1,240.2" stroke="#cfa95e" stroke-width="2.4"/><path d="M405.3,253.9 C411.0,250.7 417.0,258.3 422.7,253.6" stroke="#d7b66c" stroke-width="1.7"/><path d="M314.7,239.8 C309.5,242.7 302.0,241.4 298.5,248.0" stroke="#dcc07a" stroke-width="2.6"/><path d="M386.1,247.4 C381.6,249.2 377.9,242.5 373.2,246.0" stroke="#d7b66c" stroke-width="2.3"/><path d="M366.5,251.6 C363.5,254.1 360.0,255.0 356.1,254.6" stroke="#cfa95e" stroke-width="2.6"/><path d="M376.3,246.6 C370.9,249.5 365.6,252.6 359.1,251.8" stroke="#cfa95e" stroke-width="2.2"/><path d="M330.6,239.8 C325.6,244.1 319.4,238.9 314.2,242.0" stroke="#cfa95e" stroke-width="2.5"/><path d="M371.4,255.7 C373.4,249.1 377.3,248.9 382.3,252.4" stroke="#cfa95e" stroke-width="2.4"/><path d="M340.8,247.4 C338.2,253.3 334.3,249.9 330.7,248.8" stroke="#c79f52" stroke-width="1.8"/><path d="M406.1,260.5 C400.0,261.6 397.3,256.1 393.0,253.6" stroke="#dcc07a" stroke-width="2.6"/><path d="M404.7,248.5 C408.4,250.9 414.5,247.9 416.5,253.9" stroke="#cfa95e" stroke-width="1.9"/><path d="M350.6,260.7 C342.5,264.4 337.5,252.4 329.4,256.6" stroke="#d7b66c" stroke-width="2.1"/><path d="M334.6,252.6 C337.1,248.5 340.9,248.4 345.0,249.2" stroke="#e2c988" stroke-width="1.8"/><path d="M387.0,239.3 C392.4,243.7 399.8,244.5 405.0,249.2" stroke="#c79f52" stroke-width="2.4"/><path d="M322.5,248.2 C326.3,248.7 329.8,248.6 330.5,243.7" stroke="#dcc07a" stroke-width="1.8"/><path d="M401.3,260.4 C394.9,265.7 388.3,259.1 381.8,260.7" stroke="#dcc07a" stroke-width="1.7"/><path d="M399.0,248.3 C404.9,255.0 414.6,248.3 420.6,254.4" stroke="#cfa95e" stroke-width="2.3"/><path d="M402.6,232.1 C398.8,234.6 394.8,236.7 390.3,237.6" stroke="#dcc07a" stroke-width="2.5"/><path d="M352.4,257.2 C345.4,252.8 339.7,257.3 333.8,260.1" stroke="#dcc07a" stroke-width="1.8"/><path d="M385.6,251.2 C392.3,247.4 398.0,252.7 404.2,253.3" stroke="#d7b66c" stroke-width="2.4"/><path d="M315.3,247.7 C321.7,246.9 327.3,250.3 333.2,251.5" stroke="#cfa95e" stroke-width="2.4"/><path d="M389.6,239.6 C388.1,246.3 383.7,247.3 378.0,245.6" stroke="#e2c988" stroke-width="2.1"/><path d="M336.6,239.8 C332.6,238.5 328.6,237.3 327.1,243.1" stroke="#c79f52" stroke-width="1.9"/><path d="M321.7,233.7 C316.6,234.3 311.7,235.4 309.4,240.8" stroke="#cfa95e" stroke-width="2.1"/><path d="M335.6,259.8 C330.7,253.7 324.2,251.9 316.6,252.8" stroke="#d7b66c" stroke-width="1.9"/><path d="M372.2,254.2 C367.1,250.5 362.5,251.8 358.0,255.4" stroke="#c79f52" stroke-width="1.9"/><path d="M390.6,236.8 C396.7,234.9 402.8,232.0 408.7,237.3" stroke="#dcc07a" stroke-width="2.0"/><path d="M343.9,243.2 C349.5,246.1 355.3,248.4 361.1,250.6" stroke="#e2c988" stroke-width="1.9"/><path d="M337.1,259.3 C334.3,251.9 328.6,249.7 321.3,250.4" stroke="#d7b66c" stroke-width="2.1"/><path d="M393.4,256.9 C397.9,251.8 402.8,255.0 407.6,256.3" stroke="#cfa95e" stroke-width="1.9"/><path d="M361.9,259.4 C368.1,260.9 373.9,260.5 378.9,256.0" stroke="#cfa95e" stroke-width="2.3"/><path d="M408.4,242.7 C405.3,249.1 399.5,243.3 395.5,245.6" stroke="#c79f52" stroke-width="2.2"/><path d="M380.7,228.5 C386.1,231.5 391.6,233.9 397.5,229.4" stroke="#dcc07a" stroke-width="2.2"/><path d="M339.2,258.9 C345.4,254.6 350.1,258.7 355.0,261.7" stroke="#c79f52" stroke-width="2.4"/><path d="M316.7,251.2 C321.9,245.7 328.2,256.0 333.3,250.0" stroke="#dcc07a" stroke-width="2.1"/><path d="M366.8,224.5 C369.4,229.1 374.9,228.6 378.7,231.0" stroke="#d7b66c" stroke-width="2.4"/><path d="M338.2,258.1 C343.5,260.8 345.7,258.0 346.9,253.3" stroke="#d7b66c" stroke-width="1.7"/><path d="M314.9,251.3 C309.2,246.8 302.7,243.9 295.4,242.8" stroke="#cfa95e" stroke-width="2.1"/><path d="M320.6,254.9 C328.9,251.2 335.5,255.5 342.2,259.7" stroke="#cfa95e" stroke-width="2.3"/><path d="M339.9,258.0 C332.9,260.2 327.5,257.5 322.9,252.4" stroke="#cfa95e" stroke-width="2.0"/><path d="M380.4,259.2 C383.1,255.1 386.2,252.1 391.6,254.8" stroke="#c79f52" stroke-width="2.4"/><path d="M323.5,241.5 C326.0,238.5 329.4,238.4 332.9,238.9" stroke="#d7b66c" stroke-width="2.5"/><path d="M323.2,244.3 C317.5,238.1 310.7,241.4 304.3,242.2" stroke="#d7b66c" stroke-width="2.1"/><path d="M388.9,231.6 C383.4,229.3 376.9,234.3 371.8,229.1" stroke="#c79f52" stroke-width="1.8"/><path d="M340.5,246.4 C343.9,240.2 349.9,240.7 355.6,240.4" stroke="#c79f52" stroke-width="1.8"/><path d="M368.1,246.4 C369.4,240.0 373.5,238.5 379.3,239.8" stroke="#e2c988" stroke-width="1.8"/><path d="M362.2,242.6 C359.5,249.0 354.4,246.0 349.9,245.8" stroke="#c79f52" stroke-width="2.3"/><path d="M363.3,245.6 C371.5,243.8 376.7,254.0 385.2,251.2" stroke="#cfa95e" stroke-width="2.5"/><path d="M321.3,251.7 C315.7,248.3 309.9,247.6 304.1,251.1" stroke="#d7b66c" stroke-width="2.0"/><path d="M399.1,225.8 C396.0,232.3 388.0,229.9 383.6,234.1" stroke="#c79f52" stroke-width="2.2"/><path d="M371.7,242.4 C378.3,243.9 385.4,244.5 389.0,251.7" stroke="#e2c988" stroke-width="2.5"/><path d="M370.6,228.0 C366.3,232.9 357.8,226.8 354.4,234.0" stroke="#cfa95e" stroke-width="2.6"/><path d="M346.8,245.3 C352.9,243.7 359.1,242.3 365.4,242.0" stroke="#cfa95e" stroke-width="2.5"/><path d="M342.9,253.5 C349.0,250.8 354.4,246.6 360.9,244.5" stroke="#dcc07a" stroke-width="2.2"/><path d="M332.0,261.4 C337.9,263.7 342.6,261.8 346.8,257.5" stroke="#cfa95e" stroke-width="2.6"/><path d="M403.0,235.4 C396.2,233.4 389.8,234.7 383.5,237.5" stroke="#cfa95e" stroke-width="2.4"/><path d="M378.9,248.9 C386.0,248.4 392.6,246.4 398.2,241.9" stroke="#d7b66c" stroke-width="2.3"/><path d="M316.0,240.4 C321.1,235.8 325.2,238.3 329.2,242.1" stroke="#cfa95e" stroke-width="2.4"/><path d="M416.4,254.7 C410.8,255.5 407.3,248.1 401.1,250.6" stroke="#d7b66c" stroke-width="2.3"/><path d="M361.0,255.3 C364.6,251.2 368.4,251.1 372.3,254.8" stroke="#d7b66c" stroke-width="2.6"/><path d="M382.2,259.8 C384.4,253.1 392.5,257.2 395.8,252.4" stroke="#e2c988" stroke-width="2.3"/><path d="M359.6,261.5 C353.2,263.7 347.7,259.0 341.6,259.2" stroke="#e2c988" stroke-width="2.4"/><path d="M323.3,249.9 C326.7,248.1 330.7,247.5 333.7,244.8" stroke="#dcc07a" stroke-width="2.3"/><path d="M361.1,235.9 C354.8,233.8 350.7,240.5 344.8,240.1" stroke="#e2c988" stroke-width="2.2"/><path d="M392.8,236.7 C394.8,240.3 397.1,243.3 401.7,239.9" stroke="#c79f52" stroke-width="2.6"/><path d="M344.6,243.4 C350.1,237.0 356.0,236.8 362.4,242.0" stroke="#cfa95e" stroke-width="2.3"/><path d="M335.7,230.5 C342.7,231.0 346.2,239.9 354.1,238.3" stroke="#dcc07a" stroke-width="1.8"/><path d="M394.5,240.8 C387.5,238.5 380.8,235.5 373.6,233.7" stroke="#d7b66c" stroke-width="2.0"/><path d="M380.0,245.2 C373.9,246.3 367.8,245.8 361.9,244.2" stroke="#d7b66c" stroke-width="1.8"/><path d="M330.5,242.7 C337.9,242.1 345.1,245.2 352.5,244.4" stroke="#e2c988" stroke-width="2.6"/><path d="M429.5,246.3 C424.0,245.3 419.9,239.9 413.7,240.8" stroke="#d7b66c" stroke-width="2.5"/><path d="M374.6,255.5 C380.4,257.7 383.7,250.4 389.2,251.7" stroke="#c79f52" stroke-width="2.1"/><path d="M343.7,232.7 C340.2,237.1 335.1,232.1 331.3,234.9" stroke="#e2c988" stroke-width="2.6"/><path d="M379.1,227.3 C375.5,229.8 371.7,230.6 367.7,228.2" stroke="#c79f52" stroke-width="2.7"/><path d="M390.3,238.3 C387.6,243.9 381.4,242.1 377.2,244.5" stroke="#c79f52" stroke-width="2.1"/></g>
<path d="M312,236 q4.0,-8.0 5,-16" stroke="#d7b66c" stroke-width="1.8"/>
<path d="M326,226 q3.8,-6.0 4,-12" stroke="#d7b66c" stroke-width="1.8"/>
<path d="M340,222 q2.2,-6.0 -4,-12" stroke="#d7b66c" stroke-width="1.8"/>
<path d="M357,222 q2.4,-7.0 -3,-14" stroke="#d7b66c" stroke-width="1.8"/>
<path d="M366,226 q2.2,-5.0 -4,-10" stroke="#d7b66c" stroke-width="1.8"/>
<path d="M406,204 q4.0,-6.0 5,-12" stroke="#d7b66c" stroke-width="1.8"/>
<path d="M414,200 q3.6,-5.0 3,-10" stroke="#d7b66c" stroke-width="1.8"/>
<path d="M431,203 q1.7999999999999998,-5.0 -6,-10" stroke="#d7b66c" stroke-width="1.8"/>
<path d="M452,196 q1.4,-2.0 -8,-4" stroke="#d7b66c" stroke-width="1.8"/>
<path d="M448,204 q4.6,-5.0 8,-10" stroke="#d7b66c" stroke-width="1.8"/>
</g>
<g id="roots">
<g stroke="#573a30" fill="none" stroke-linecap="round" stroke-linejoin="round" stroke-width="1.05"><path d="M81.0,207.0 L77.1,207.6 L73.6,209.3 L70.3,211.5 L66.5,212.6" stroke-width="1.05"/><path d="M77.1,207.6 l-5.8,7.2 l-1.4,2.9" stroke-width="0.73"/><path d="M73.6,209.3 l5.9,5.4 l2.0,3.9" stroke-width="0.73"/><path d="M70.3,211.5 l1.7,3.8 l0.8,5.5" stroke-width="0.73"/><path d="M81.4,207.0 L77.6,210.2 L72.9,211.8 L70.0,215.8 L66.9,219.7" stroke-width="1.05"/><path d="M77.6,210.2 l-2.4,3.2 l2.2,3.9" stroke-width="0.73"/><path d="M72.9,211.8 l2.6,7.4 l1.3,5.7" stroke-width="0.73"/><path d="M70.0,215.8 l-1.3,7.0 l-0.3,5.7" stroke-width="0.73"/><path d="M81.8,207.0 L77.8,209.8 L74.3,213.1 L73.3,217.8 L70.8,222.0" stroke-width="1.05"/><path d="M77.8,209.8 l1.5,4.5 l0.0,3.5" stroke-width="0.73"/><path d="M74.3,213.1 l-1.8,5.9 l0.5,5.6" stroke-width="0.73"/><path d="M73.3,217.8 l2.2,7.6 l2.1,6.0" stroke-width="0.73"/><path d="M82.2,207.0 L81.1,212.5 L80.7,218.2 L80.3,223.8 L78.7,229.2" stroke-width="1.31"/><path d="M81.1,212.5 l2.6,4.1 l2.0,4.3" stroke-width="0.73"/><path d="M80.7,218.2 l-2.6,3.3 l2.1,6.0" stroke-width="0.73"/><path d="M80.3,223.8 l-4.9,7.0 l-0.5,2.6" stroke-width="0.73"/><path d="M82.6,207.0 L82.5,214.5 L78.2,220.6 L77.0,228.0 L73.0,234.4" stroke-width="1.31"/><path d="M82.5,214.5 l2.6,4.7 l2.3,5.9" stroke-width="0.73"/><path d="M78.2,220.6 l0.1,8.0 l-1.1,2.3" stroke-width="0.73"/><path d="M77.0,228.0 l1.2,3.2 l-1.8,3.6" stroke-width="0.73"/><path d="M83.0,207.0 L80.7,213.7 L82.8,220.4 L82.0,227.4 L84.5,234.0" stroke-width="1.31"/><path d="M80.7,213.7 l4.8,4.9 l-0.2,4.1" stroke-width="0.73"/><path d="M82.8,220.4 l1.7,6.0 l0.4,4.5" stroke-width="0.73"/><path d="M82.0,227.4 l5.3,5.5 l-0.4,4.9" stroke-width="0.73"/><path d="M83.4,207.0 L86.9,212.6 L88.2,219.1 L89.5,225.6 L88.0,232.0" stroke-width="1.31"/><path d="M86.9,212.6 l-1.0,5.9 l-2.9,4.5" stroke-width="0.73"/><path d="M88.2,219.1 l1.6,3.3 l0.8,3.9" stroke-width="0.73"/><path d="M89.5,225.6 l2.2,4.8 l1.2,5.0" stroke-width="0.73"/><path d="M83.8,207.0 L86.6,211.7 L90.2,215.8 L91.0,221.2 L92.4,226.5" stroke-width="1.31"/><path d="M86.6,211.7 l1.1,4.6 l-0.8,3.3" stroke-width="0.73"/><path d="M90.2,215.8 l-1.6,6.0 l-1.2,3.5" stroke-width="0.73"/><path d="M91.0,221.2 l3.3,3.1 l0.4,4.9" stroke-width="0.73"/><path d="M84.2,207.0 L88.3,209.9 L90.5,214.5 L92.2,219.2 L94.5,223.7" stroke-width="1.05"/><path d="M88.3,209.9 l2.4,3.5 l-1.1,3.3" stroke-width="0.73"/><path d="M90.5,214.5 l4.0,5.2 l2.1,2.7" stroke-width="0.73"/><path d="M92.2,219.2 l-2.0,6.3 l2.3,3.8" stroke-width="0.73"/><path d="M84.6,207.0 L88.1,209.4 L90.5,212.8 L94.1,215.0 L97.5,217.4" stroke-width="1.05"/><path d="M88.1,209.4 l-3.8,4.4 l1.8,4.6" stroke-width="0.73"/><path d="M90.5,212.8 l3.7,4.7 l-2.2,3.2" stroke-width="0.73"/><path d="M94.1,215.0 l3.5,4.4 l-0.9,3.7" stroke-width="0.73"/><path d="M85.0,207.0 L88.8,207.0 L91.7,209.5 L94.0,212.5 L97.6,213.7" stroke-width="1.05"/><path d="M88.8,207.0 l4.6,7.9 l-0.4,5.8" stroke-width="0.73"/><path d="M91.7,209.5 l5.1,4.1 l1.5,5.3" stroke-width="0.73"/><path d="M94.0,212.5 l2.0,5.6 l-1.3,3.4" stroke-width="0.73"/></g>
<g stroke="#573a30" fill="none" stroke-linecap="round" stroke-linejoin="round" stroke-width="1.05"><path d="M123.0,203.0 L118.6,203.8 L114.2,204.3 L109.8,205.0 L105.9,207.2" stroke-width="1.05"/><path d="M118.6,203.8 l5.0,7.0 l1.6,2.9" stroke-width="0.73"/><path d="M114.2,204.3 l0.4,4.4 l-2.0,2.4" stroke-width="0.73"/><path d="M109.8,205.0 l-3.4,7.6 l2.0,5.2" stroke-width="0.73"/><path d="M123.4,203.0 L118.5,205.6 L114.7,209.5 L111.6,214.1 L109.4,219.1" stroke-width="1.05"/><path d="M118.5,205.6 l4.6,3.4 l0.6,4.7" stroke-width="0.73"/><path d="M114.7,209.5 l0.1,3.9 l-0.2,2.4" stroke-width="0.73"/><path d="M111.6,214.1 l5.2,7.3 l0.3,3.2" stroke-width="0.73"/><path d="M123.8,203.0 L121.2,209.6 L118.8,216.4 L115.1,222.4 L111.3,228.5" stroke-width="1.05"/><path d="M121.2,209.6 l1.2,5.2 l-2.0,3.2" stroke-width="0.73"/><path d="M118.8,216.4 l3.8,3.2 l-2.7,4.5" stroke-width="0.73"/><path d="M115.1,222.4 l-2.6,5.7 l-0.2,3.4" stroke-width="0.73"/><path d="M124.2,203.0 L120.9,209.6 L116.8,215.6 L115.2,222.8 L111.9,229.3" stroke-width="1.31"/><path d="M120.9,209.6 l-1.7,6.7 l-1.1,4.2" stroke-width="0.73"/><path d="M116.8,215.6 l4.9,3.5 l-2.6,2.9" stroke-width="0.73"/><path d="M115.2,222.8 l3.2,6.1 l-1.6,3.3" stroke-width="0.73"/><path d="M124.6,203.0 L119.1,210.0 L117.8,218.8 L118.2,227.7 L119.2,236.5" stroke-width="1.31"/><path d="M119.1,210.0 l2.8,7.8 l-2.9,3.2" stroke-width="0.73"/><path d="M117.8,218.8 l5.6,6.9 l-0.5,5.8" stroke-width="0.73"/><path d="M118.2,227.7 l1.4,7.1 l-1.2,2.8" stroke-width="0.73"/><path d="M125.0,203.0 L124.1,212.0 L127.1,220.4 L125.9,229.4 L122.5,237.7" stroke-width="1.31"/><path d="M124.1,212.0 l-5.5,3.8 l1.7,3.5" stroke-width="0.73"/><path d="M127.1,220.4 l-2.5,3.5 l2.9,3.7" stroke-width="0.73"/><path d="M125.9,229.4 l-3.5,3.3 l-2.7,2.7" stroke-width="0.73"/><path d="M125.4,203.0 L124.9,211.1 L126.9,219.0 L127.3,227.1 L131.9,233.9" stroke-width="1.31"/><path d="M124.9,211.1 l-4.5,5.6 l1.6,3.6" stroke-width="0.73"/><path d="M126.9,219.0 l5.9,5.4 l-1.5,3.6" stroke-width="0.73"/><path d="M127.3,227.1 l-5.6,5.1 l-1.5,5.6" stroke-width="0.73"/><path d="M125.8,203.0 L127.5,210.8 L130.1,218.4 L132.3,226.0 L133.8,233.9" stroke-width="1.31"/><path d="M127.5,210.8 l-3.2,7.3 l-2.1,2.2" stroke-width="0.73"/><path d="M130.1,218.4 l5.1,5.8 l2.9,3.6" stroke-width="0.73"/><path d="M132.3,226.0 l4.8,6.3 l1.7,5.0" stroke-width="0.73"/><path d="M126.2,203.0 L129.4,208.4 L134.5,211.9 L139.5,215.6 L144.3,219.6" stroke-width="1.05"/><path d="M129.4,208.4 l-2.0,6.3 l1.8,4.6" stroke-width="0.73"/><path d="M134.5,211.9 l3.8,5.6 l0.9,4.7" stroke-width="0.73"/><path d="M139.5,215.6 l-2.8,7.6 l2.7,2.3" stroke-width="0.73"/><path d="M126.6,203.0 L133.0,205.2 L137.1,210.6 L143.4,212.9 L146.8,218.7" stroke-width="1.05"/><path d="M133.0,205.2 l5.6,6.3 l-2.6,2.7" stroke-width="0.73"/><path d="M137.1,210.6 l1.6,5.8 l1.5,5.7" stroke-width="0.73"/><path d="M143.4,212.9 l-3.4,3.0 l2.5,2.1" stroke-width="0.73"/><path d="M127.0,203.0 L131.5,203.0 L135.9,203.6 L140.3,204.4 L144.1,206.7" stroke-width="1.05"/><path d="M131.5,203.0 l4.5,4.0 l1.0,3.3" stroke-width="0.73"/><path d="M135.9,203.6 l4.7,6.9 l-0.2,4.1" stroke-width="0.73"/><path d="M140.3,204.4 l-5.7,3.2 l0.6,4.0" stroke-width="0.73"/></g>
<g stroke="#573a30" fill="none" stroke-linecap="round" stroke-linejoin="round" stroke-width="1.05"><path d="M176.0,204.0 L171.5,206.9 L167.8,210.6 L163.8,214.2 L160.9,218.7" stroke-width="1.05"/><path d="M171.5,206.9 l-5.7,5.3 l2.7,4.6" stroke-width="0.73"/><path d="M167.8,210.6 l4.8,3.6 l-0.2,3.0" stroke-width="0.73"/><path d="M163.8,214.2 l0.5,5.9 l-2.9,2.9" stroke-width="0.73"/><path d="M176.4,204.0 L171.4,208.4 L165.1,210.7 L161.2,216.1 L155.4,219.4" stroke-width="1.05"/><path d="M171.4,208.4 l1.4,3.6 l-3.0,5.5" stroke-width="0.73"/><path d="M165.1,210.7 l-3.5,4.1 l2.9,5.5" stroke-width="0.73"/><path d="M161.2,216.1 l-2.5,7.8 l0.2,4.7" stroke-width="0.73"/><path d="M176.8,204.0 L171.9,210.1 L169.0,217.4 L166.2,224.7 L160.8,230.4" stroke-width="1.05"/><path d="M171.9,210.1 l-1.7,3.8 l-2.1,2.3" stroke-width="0.73"/><path d="M169.0,217.4 l-2.4,6.0 l-3.0,4.7" stroke-width="0.73"/><path d="M166.2,224.7 l-1.9,4.5 l1.9,3.9" stroke-width="0.73"/><path d="M177.2,204.0 L174.2,211.4 L168.3,216.7 L167.7,224.6 L162.2,230.4" stroke-width="1.31"/><path d="M174.2,211.4 l3.0,7.2 l-2.9,5.2" stroke-width="0.73"/><path d="M168.3,216.7 l-1.6,5.9 l-2.9,2.2" stroke-width="0.73"/><path d="M167.7,224.6 l-3.8,7.8 l-1.8,5.0" stroke-width="0.73"/><path d="M177.6,204.0 L174.8,213.7 L172.2,223.4 L171.1,233.4 L172.0,243.4" stroke-width="1.31"/><path d="M174.8,213.7 l-4.7,6.7 l1.8,5.4" stroke-width="0.73"/><path d="M172.2,223.4 l-5.6,7.7 l-2.5,3.4" stroke-width="0.73"/><path d="M171.1,233.4 l1.3,7.6 l-1.0,5.7" stroke-width="0.73"/><path d="M178.0,204.0 L176.8,213.4 L174.5,222.6 L171.6,231.6 L169.1,240.8" stroke-width="1.31"/><path d="M176.8,213.4 l2.3,8.0 l-2.0,2.2" stroke-width="0.73"/><path d="M174.5,222.6 l5.8,5.7 l-0.6,2.9" stroke-width="0.73"/><path d="M171.6,231.6 l1.1,7.1 l-0.3,3.7" stroke-width="0.73"/><path d="M178.4,204.0 L176.4,213.8 L177.8,223.7 L181.6,233.0 L179.9,242.8" stroke-width="1.31"/><path d="M176.4,213.8 l2.8,7.7 l0.8,5.2" stroke-width="0.73"/><path d="M177.8,223.7 l-4.7,5.2 l-2.1,5.4" stroke-width="0.73"/><path d="M181.6,233.0 l-2.5,5.3 l3.0,5.4" stroke-width="0.73"/><path d="M178.8,204.0 L183.2,210.5 L188.5,216.4 L192.1,223.4 L194.3,231.0" stroke-width="1.31"/><path d="M183.2,210.5 l-1.2,3.7 l-0.7,6.0" stroke-width="0.73"/><path d="M188.5,216.4 l5.5,6.1 l-0.0,3.4" stroke-width="0.73"/><path d="M192.1,223.4 l-4.9,4.4 l1.7,5.5" stroke-width="0.73"/><path d="M179.2,204.0 L185.3,208.5 L190.7,213.7 L195.7,219.3 L200.8,224.9" stroke-width="1.05"/><path d="M185.3,208.5 l-1.6,6.5 l-1.3,3.9" stroke-width="0.73"/><path d="M190.7,213.7 l3.2,6.5 l-1.2,5.8" stroke-width="0.73"/><path d="M195.7,219.3 l1.8,5.9 l-2.9,4.2" stroke-width="0.73"/><path d="M179.6,204.0 L184.6,207.8 L190.2,210.5 L195.1,214.5 L200.2,218.2" stroke-width="1.05"/><path d="M184.6,207.8 l-1.8,6.2 l1.4,5.3" stroke-width="0.73"/><path d="M190.2,210.5 l-1.8,7.2 l2.2,4.8" stroke-width="0.73"/><path d="M195.1,214.5 l5.7,7.8 l0.1,4.1" stroke-width="0.73"/><path d="M180.0,204.0 L185.4,204.3 L190.2,206.9 L195.1,209.2 L199.8,212.0" stroke-width="1.05"/><path d="M185.4,204.3 l2.8,3.9 l1.7,4.3" stroke-width="0.73"/><path d="M190.2,206.9 l2.0,5.1 l0.7,5.1" stroke-width="0.73"/><path d="M195.1,209.2 l1.6,6.6 l-2.8,2.6" stroke-width="0.73"/></g>
<g stroke="#573a30" fill="none" stroke-linecap="round" stroke-linejoin="round" stroke-width="1.05"><path d="M227.0,204.0 L222.2,205.8 L217.3,207.3 L212.3,208.4 L208.8,212.1" stroke-width="1.05"/><path d="M222.2,205.8 l-0.4,6.8 l-0.8,5.1" stroke-width="0.73"/><path d="M217.3,207.3 l-2.7,7.0 l1.4,3.7" stroke-width="0.73"/><path d="M212.3,208.4 l0.5,6.4 l-1.8,4.2" stroke-width="0.73"/><path d="M227.4,204.0 L224.0,208.0 L220.5,212.0 L217.9,216.6 L214.0,220.3" stroke-width="1.05"/><path d="M224.0,208.0 l-4.9,7.0 l1.8,3.8" stroke-width="0.73"/><path d="M220.5,212.0 l-4.9,4.0 l0.8,3.2" stroke-width="0.73"/><path d="M217.9,216.6 l5.4,5.9 l-1.8,4.6" stroke-width="0.73"/><path d="M227.8,204.0 L224.5,210.6 L219.7,216.2 L215.9,222.6 L212.9,229.3" stroke-width="1.05"/><path d="M224.5,210.6 l3.7,7.9 l-2.8,3.4" stroke-width="0.73"/><path d="M219.7,216.2 l1.2,4.5 l0.5,2.4" stroke-width="0.73"/><path d="M215.9,222.6 l4.6,5.6 l-2.3,4.7" stroke-width="0.73"/><path d="M228.2,204.0 L224.6,209.9 L219.7,214.9 L215.4,220.3 L214.6,227.2" stroke-width="1.31"/><path d="M224.6,209.9 l2.4,3.1 l1.7,2.1" stroke-width="0.73"/><path d="M219.7,214.9 l-2.0,7.5 l0.7,3.2" stroke-width="0.73"/><path d="M215.4,220.3 l-1.5,4.9 l-2.2,6.0" stroke-width="0.73"/><path d="M228.6,204.0 L227.3,212.2 L224.1,219.9 L224.8,228.2 L221.2,235.7" stroke-width="1.31"/><path d="M227.3,212.2 l5.8,7.5 l1.0,5.6" stroke-width="0.73"/><path d="M224.1,219.9 l-0.6,7.2 l1.8,4.1" stroke-width="0.73"/><path d="M224.8,228.2 l-0.3,6.5 l-0.5,2.3" stroke-width="0.73"/><path d="M229.0,204.0 L229.4,212.8 L231.7,221.4 L229.9,230.0 L227.0,238.4" stroke-width="1.31"/><path d="M229.4,212.8 l-4.5,5.9 l-0.8,3.0" stroke-width="0.73"/><path d="M231.7,221.4 l-0.6,7.6 l-1.5,3.6" stroke-width="0.73"/><path d="M229.9,230.0 l4.6,6.1 l-1.4,3.9" stroke-width="0.73"/><path d="M229.4,204.0 L230.6,211.6 L231.1,219.2 L234.4,226.2 L234.8,233.8" stroke-width="1.31"/><path d="M230.6,211.6 l1.9,7.9 l2.5,3.5" stroke-width="0.73"/><path d="M231.1,219.2 l1.2,4.6 l-0.6,4.0" stroke-width="0.73"/><path d="M234.4,226.2 l3.5,7.7 l-1.3,2.0" stroke-width="0.73"/><path d="M229.8,204.0 L230.7,210.6 L234.7,215.8 L235.5,222.4 L238.8,228.2" stroke-width="1.31"/><path d="M230.7,210.6 l-1.7,7.7 l2.1,2.2" stroke-width="0.73"/><path d="M234.7,215.8 l-3.7,7.7 l0.7,3.7" stroke-width="0.73"/><path d="M235.5,222.4 l3.4,7.1 l-0.0,3.9" stroke-width="0.73"/><path d="M230.2,204.0 L232.7,209.9 L236.8,214.7 L240.6,219.8 L242.0,226.0" stroke-width="1.05"/><path d="M232.7,209.9 l1.5,3.5 l-2.4,4.6" stroke-width="0.73"/><path d="M236.8,214.7 l-0.4,7.5 l0.8,4.8" stroke-width="0.73"/><path d="M240.6,219.8 l-4.5,7.2 l-2.5,4.5" stroke-width="0.73"/><path d="M230.6,204.0 L236.8,205.1 L241.9,208.7 L247.4,211.8 L251.3,215.1" stroke-width="1.05"/><path d="M236.8,205.1 l-4.4,7.7 l2.5,3.8" stroke-width="0.73"/><path d="M241.9,208.7 l3.3,5.2 l-1.3,4.8" stroke-width="0.73"/><path d="M247.4,211.8 l-5.2,7.0 l2.9,3.1" stroke-width="0.73"/><path d="M231.0,204.0 L235.2,203.8 L238.8,205.8 L243.0,206.2 L246.4,208.7" stroke-width="1.05"/><path d="M235.2,203.8 l5.1,3.2 l-2.5,5.3" stroke-width="0.73"/><path d="M238.8,205.8 l1.7,5.7 l-2.8,2.7" stroke-width="0.73"/><path d="M243.0,206.2 l-1.6,3.3 l3.0,5.1" stroke-width="0.73"/></g>
<g stroke="#573a30" fill="none" stroke-linecap="round" stroke-linejoin="round" stroke-width="1.05"><path d="M281.0,208.0 L277.1,209.6 L272.8,209.9 L269.1,212.1 L265.4,214.2" stroke-width="1.05"/><path d="M277.1,209.6 l-5.3,5.5 l-2.8,3.7" stroke-width="0.73"/><path d="M272.8,209.9 l-5.2,3.5 l-0.5,5.3" stroke-width="0.73"/><path d="M269.1,212.1 l-4.5,4.1 l0.8,5.8" stroke-width="0.73"/><path d="M281.4,208.0 L278.2,212.5 L273.0,214.2 L270.1,218.9 L265.9,222.4" stroke-width="1.05"/><path d="M278.2,212.5 l-4.3,3.6 l-1.1,5.3" stroke-width="0.73"/><path d="M273.0,214.2 l-3.8,5.9 l0.8,3.5" stroke-width="0.73"/><path d="M270.1,218.9 l0.6,3.3 l-2.6,2.8" stroke-width="0.73"/><path d="M281.8,208.0 L276.9,212.2 L273.3,217.6 L269.5,222.9 L265.4,227.9" stroke-width="1.05"/><path d="M276.9,212.2 l3.5,6.5 l-1.5,4.3" stroke-width="0.73"/><path d="M273.3,217.6 l0.3,7.4 l1.4,3.2" stroke-width="0.73"/><path d="M269.5,222.9 l5.8,3.6 l-0.5,5.0" stroke-width="0.73"/><path d="M282.2,208.0 L276.2,212.5 L273.3,219.4 L271.2,226.7 L268.5,233.7" stroke-width="1.31"/><path d="M276.2,212.5 l4.5,4.6 l1.2,4.4" stroke-width="0.73"/><path d="M273.3,219.4 l1.0,5.3 l2.0,5.8" stroke-width="0.73"/><path d="M271.2,226.7 l-0.3,6.3 l-2.6,4.8" stroke-width="0.73"/><path d="M282.6,208.0 L282.9,217.6 L279.4,226.6 L276.8,235.9 L276.5,245.5" stroke-width="1.31"/><path d="M282.9,217.6 l-5.7,5.3 l-2.0,2.5" stroke-width="0.73"/><path d="M279.4,226.6 l-5.3,6.8 l-2.2,3.0" stroke-width="0.73"/><path d="M276.8,235.9 l-1.3,7.4 l-2.5,3.8" stroke-width="0.73"/><path d="M283.0,208.0 L285.6,218.1 L288.6,228.1 L286.9,238.3 L286.3,248.7" stroke-width="1.31"/><path d="M285.6,218.1 l-1.7,7.4 l2.7,2.6" stroke-width="0.73"/><path d="M288.6,228.1 l-3.9,4.2 l-1.6,3.9" stroke-width="0.73"/><path d="M286.9,238.3 l1.1,4.3 l-3.0,3.7" stroke-width="0.73"/><path d="M283.4,208.0 L288.1,215.3 L291.0,223.4 L292.7,231.9 L294.9,240.2" stroke-width="1.31"/><path d="M288.1,215.3 l2.1,3.3 l2.4,5.1" stroke-width="0.73"/><path d="M291.0,223.4 l4.5,7.0 l-0.6,3.6" stroke-width="0.73"/><path d="M292.7,231.9 l-4.8,6.2 l-2.6,2.3" stroke-width="0.73"/><path d="M283.8,208.0 L286.0,214.5 L286.4,221.4 L286.2,228.2 L286.6,235.1" stroke-width="1.31"/><path d="M286.0,214.5 l-4.8,4.8 l-2.8,5.5" stroke-width="0.73"/><path d="M286.4,221.4 l1.4,3.7 l-1.5,3.4" stroke-width="0.73"/><path d="M286.2,228.2 l-1.6,3.6 l2.1,6.0" stroke-width="0.73"/><path d="M284.2,208.0 L286.9,214.0 L289.3,220.1 L292.5,225.9 L294.9,232.0" stroke-width="1.05"/><path d="M286.9,214.0 l3.9,3.8 l-2.9,5.8" stroke-width="0.73"/><path d="M289.3,220.1 l0.3,3.7 l0.3,2.1" stroke-width="0.73"/><path d="M292.5,225.9 l0.3,7.9 l2.2,4.8" stroke-width="0.73"/><path d="M284.6,208.0 L288.1,212.2 L292.9,214.7 L296.9,218.5 L301.2,221.8" stroke-width="1.05"/><path d="M288.1,212.2 l-2.0,4.1 l1.9,5.9" stroke-width="0.73"/><path d="M292.9,214.7 l4.2,7.0 l1.9,5.0" stroke-width="0.73"/><path d="M296.9,218.5 l-3.3,5.6 l-0.9,2.1" stroke-width="0.73"/><path d="M285.0,208.0 L288.7,210.5 L292.8,212.1 L297.1,213.2 L300.3,216.3" stroke-width="1.05"/><path d="M288.7,210.5 l5.2,7.9 l2.7,3.5" stroke-width="0.73"/><path d="M292.8,212.1 l-3.4,4.1 l-1.8,2.8" stroke-width="0.73"/><path d="M297.1,213.2 l1.5,7.5 l2.0,3.9" stroke-width="0.73"/></g>
<g stroke="#573a30" fill="none" stroke-linecap="round" stroke-linejoin="round" stroke-width="1.05"><path d="M329.0,205.0 L323.3,204.8 L318.3,207.7 L312.7,208.7 L307.4,210.9" stroke-width="1.05"/><path d="M323.3,204.8 l6.0,4.0 l0.9,3.8" stroke-width="0.73"/><path d="M318.3,207.7 l-0.6,5.5 l-1.8,5.3" stroke-width="0.73"/><path d="M312.7,208.7 l-4.9,4.2 l-2.9,3.1" stroke-width="0.73"/><path d="M329.4,205.0 L323.3,208.0 L316.9,210.2 L311.1,213.7 L308.6,220.0" stroke-width="1.05"/><path d="M323.3,208.0 l-5.2,6.1 l-0.7,4.6" stroke-width="0.73"/><path d="M316.9,210.2 l-1.9,6.5 l-0.0,4.6" stroke-width="0.73"/><path d="M311.1,213.7 l4.8,5.9 l-2.1,2.3" stroke-width="0.73"/><path d="M329.8,205.0 L324.3,209.4 L322.4,216.3 L319.1,222.6 L316.9,229.3" stroke-width="1.05"/><path d="M324.3,209.4 l4.6,4.4 l-0.9,5.5" stroke-width="0.73"/><path d="M322.4,216.3 l-4.4,6.8 l-2.4,4.8" stroke-width="0.73"/><path d="M319.1,222.6 l2.4,7.7 l2.1,4.0" stroke-width="0.73"/><path d="M330.2,205.0 L326.4,211.3 L322.8,217.7 L317.5,222.9 L316.7,230.2" stroke-width="1.31"/><path d="M326.4,211.3 l0.1,6.5 l-1.7,3.0" stroke-width="0.73"/><path d="M322.8,217.7 l-5.9,4.7 l-1.4,3.7" stroke-width="0.73"/><path d="M317.5,222.9 l-1.5,7.2 l2.3,2.7" stroke-width="0.73"/><path d="M330.6,205.0 L329.4,213.2 L330.3,221.5 L326.7,229.0 L326.7,237.3" stroke-width="1.31"/><path d="M329.4,213.2 l-2.4,3.1 l1.6,3.4" stroke-width="0.73"/><path d="M330.3,221.5 l-4.0,5.2 l-1.6,3.6" stroke-width="0.73"/><path d="M326.7,229.0 l-0.6,5.1 l0.5,3.2" stroke-width="0.73"/><path d="M331.0,205.0 L327.6,213.4 L327.0,222.4 L325.4,231.3 L327.0,240.2" stroke-width="1.31"/><path d="M327.6,213.4 l0.1,6.5 l2.9,2.3" stroke-width="0.73"/><path d="M327.0,222.4 l-5.8,3.7 l-0.7,4.3" stroke-width="0.73"/><path d="M325.4,231.3 l2.9,4.8 l2.8,2.0" stroke-width="0.73"/><path d="M331.4,205.0 L336.2,211.9 L335.7,220.3 L340.6,227.2 L344.2,234.8" stroke-width="1.31"/><path d="M336.2,211.9 l5.9,5.9 l-1.9,5.9" stroke-width="0.73"/><path d="M335.7,220.3 l-0.7,3.4 l0.6,4.0" stroke-width="0.73"/><path d="M340.6,227.2 l-0.3,3.8 l-2.3,4.3" stroke-width="0.73"/><path d="M331.8,205.0 L335.0,211.6 L339.2,217.5 L343.2,223.7 L345.6,230.6" stroke-width="1.31"/><path d="M335.0,211.6 l-1.3,4.8 l-1.6,2.8" stroke-width="0.73"/><path d="M339.2,217.5 l-0.6,3.5 l1.4,4.8" stroke-width="0.73"/><path d="M343.2,223.7 l1.3,3.1 l-0.8,3.7" stroke-width="0.73"/><path d="M332.2,205.0 L338.3,210.2 L342.9,216.8 L348.1,222.9 L350.2,230.6" stroke-width="1.05"/><path d="M338.3,210.2 l-3.2,5.6 l1.5,4.6" stroke-width="0.73"/><path d="M342.9,216.8 l-5.9,6.1 l2.5,5.0" stroke-width="0.73"/><path d="M348.1,222.9 l5.1,7.9 l-1.7,3.2" stroke-width="0.73"/><path d="M332.6,205.0 L338.1,209.2 L344.6,211.3 L350.8,214.4 L355.0,219.4" stroke-width="1.05"/><path d="M338.1,209.2 l1.5,7.8 l1.7,3.2" stroke-width="0.73"/><path d="M344.6,211.3 l4.1,4.0 l-0.8,5.8" stroke-width="0.73"/><path d="M350.8,214.4 l4.2,4.6 l-1.3,4.5" stroke-width="0.73"/><path d="M333.0,205.0 L338.3,204.5 L343.6,205.5 L348.8,206.7 L353.4,209.3" stroke-width="1.05"/><path d="M338.3,204.5 l-1.7,5.1 l-0.1,4.1" stroke-width="0.73"/><path d="M343.6,205.5 l4.1,4.3 l-2.6,4.9" stroke-width="0.73"/><path d="M348.8,206.7 l-2.7,5.1 l-2.3,5.3" stroke-width="0.73"/></g>
<g stroke="#573a30" fill="none" stroke-linecap="round" stroke-linejoin="round" stroke-width="1.05"><path d="M386.0,204.0 L381.1,204.1 L377.3,207.3 L372.5,208.0 L368.5,211.0" stroke-width="1.05"/><path d="M381.1,204.1 l4.8,3.4 l0.3,4.5" stroke-width="0.73"/><path d="M377.3,207.3 l-5.5,4.9 l1.2,3.8" stroke-width="0.73"/><path d="M372.5,208.0 l2.7,3.8 l-1.6,2.4" stroke-width="0.73"/><path d="M386.4,204.0 L380.9,208.0 L376.5,213.2 L371.1,217.4 L367.5,223.2" stroke-width="1.05"/><path d="M380.9,208.0 l-4.8,4.5 l1.0,4.9" stroke-width="0.73"/><path d="M376.5,213.2 l-0.9,3.4 l-1.4,2.8" stroke-width="0.73"/><path d="M371.1,217.4 l-2.6,7.0 l-1.8,5.5" stroke-width="0.73"/><path d="M386.8,204.0 L382.4,208.5 L378.8,213.6 L373.8,217.4 L370.5,222.7" stroke-width="1.05"/><path d="M382.4,208.5 l4.9,3.6 l0.6,2.5" stroke-width="0.73"/><path d="M378.8,213.6 l0.9,7.5 l-1.8,2.0" stroke-width="0.73"/><path d="M373.8,217.4 l-5.0,5.7 l-2.9,2.3" stroke-width="0.73"/><path d="M387.2,204.0 L382.3,211.7 L377.7,219.4 L375.0,228.1 L369.2,235.1" stroke-width="1.31"/><path d="M382.3,211.7 l1.0,3.9 l0.7,5.8" stroke-width="0.73"/><path d="M377.7,219.4 l-5.3,5.8 l0.6,2.6" stroke-width="0.73"/><path d="M375.0,228.1 l-2.8,8.0 l3.0,2.5" stroke-width="0.73"/><path d="M387.6,204.0 L383.5,213.4 L382.4,223.6 L377.3,232.5 L374.7,242.5" stroke-width="1.31"/><path d="M383.5,213.4 l2.1,6.0 l1.6,2.3" stroke-width="0.73"/><path d="M382.4,223.6 l-1.8,7.3 l0.5,3.8" stroke-width="0.73"/><path d="M377.3,232.5 l-1.2,7.9 l0.4,2.1" stroke-width="0.73"/><path d="M388.0,204.0 L388.1,213.7 L386.5,223.3 L386.6,233.0 L385.8,242.6" stroke-width="1.31"/><path d="M388.1,213.7 l-4.9,6.1 l-2.4,5.1" stroke-width="0.73"/><path d="M386.5,223.3 l-5.7,6.9 l1.8,4.0" stroke-width="0.73"/><path d="M386.6,233.0 l2.5,4.2 l1.4,3.7" stroke-width="0.73"/><path d="M388.4,204.0 L389.6,214.2 L390.4,224.5 L394.8,233.8 L395.3,244.1" stroke-width="1.31"/><path d="M389.6,214.2 l2.0,3.9 l2.1,3.0" stroke-width="0.73"/><path d="M390.4,224.5 l-5.4,7.9 l-2.0,5.8" stroke-width="0.73"/><path d="M394.8,233.8 l5.8,6.0 l-2.9,2.2" stroke-width="0.73"/><path d="M388.8,204.0 L392.8,210.8 L398.2,216.5 L400.2,224.2 L400.6,232.1" stroke-width="1.31"/><path d="M392.8,210.8 l0.7,3.7 l-2.5,4.2" stroke-width="0.73"/><path d="M398.2,216.5 l2.4,3.3 l-0.3,4.8" stroke-width="0.73"/><path d="M400.2,224.2 l3.2,4.9 l2.3,2.7" stroke-width="0.73"/><path d="M389.2,204.0 L396.0,207.5 L401.1,213.3 L403.7,220.4 L405.5,227.9" stroke-width="1.05"/><path d="M396.0,207.5 l0.3,3.9 l0.8,2.3" stroke-width="0.73"/><path d="M401.1,213.3 l3.4,4.1 l-2.9,2.7" stroke-width="0.73"/><path d="M403.7,220.4 l-0.5,5.8 l-0.7,2.7" stroke-width="0.73"/><path d="M389.6,204.0 L395.5,207.5 L402.0,209.7 L405.0,215.8 L411.2,218.8" stroke-width="1.05"/><path d="M395.5,207.5 l4.7,5.7 l0.1,4.1" stroke-width="0.73"/><path d="M402.0,209.7 l4.9,3.3 l0.9,4.2" stroke-width="0.73"/><path d="M405.0,215.8 l-2.4,6.6 l1.3,2.4" stroke-width="0.73"/><path d="M390.0,204.0 L394.8,205.4 L399.7,206.8 L403.0,210.5 L407.3,213.1" stroke-width="1.05"/><path d="M394.8,205.4 l-1.5,7.4 l-1.6,5.3" stroke-width="0.73"/><path d="M399.7,206.8 l2.8,6.1 l2.3,2.1" stroke-width="0.73"/><path d="M403.0,210.5 l1.2,6.1 l1.1,3.6" stroke-width="0.73"/></g>
<g stroke="#573a30" fill="none" stroke-linecap="round" stroke-linejoin="round" stroke-width="1.05"><path d="M423.0,204.0 L418.4,205.9 L413.5,206.9 L410.0,210.5 L406.9,214.4" stroke-width="1.05"/><path d="M418.4,205.9 l1.8,3.8 l0.1,3.3" stroke-width="0.73"/><path d="M413.5,206.9 l-3.0,7.8 l3.0,2.2" stroke-width="0.73"/><path d="M410.0,210.5 l4.3,6.0 l-0.7,3.1" stroke-width="0.73"/><path d="M423.4,204.0 L419.0,208.1 L414.8,212.5 L409.5,215.3 L406.5,220.6" stroke-width="1.05"/><path d="M419.0,208.1 l5.8,7.8 l0.7,2.2" stroke-width="0.73"/><path d="M414.8,212.5 l-6.0,3.7 l2.6,3.2" stroke-width="0.73"/><path d="M409.5,215.3 l-1.6,7.5 l-1.1,4.2" stroke-width="0.73"/><path d="M423.8,204.0 L419.7,208.8 L417.1,214.5 L412.2,218.4 L407.8,222.9" stroke-width="1.05"/><path d="M419.7,208.8 l-1.0,3.2 l-0.0,5.3" stroke-width="0.73"/><path d="M417.1,214.5 l1.9,5.7 l2.1,2.6" stroke-width="0.73"/><path d="M412.2,218.4 l0.8,4.9 l0.6,2.5" stroke-width="0.73"/><path d="M424.2,204.0 L419.5,209.5 L418.3,216.7 L418.1,223.9 L415.4,230.7" stroke-width="1.31"/><path d="M419.5,209.5 l-1.0,4.2 l-1.4,4.5" stroke-width="0.73"/><path d="M418.3,216.7 l-3.9,3.6 l-0.3,2.7" stroke-width="0.73"/><path d="M418.1,223.9 l1.8,7.1 l1.7,3.9" stroke-width="0.73"/><path d="M424.6,204.0 L419.1,211.1 L418.2,220.0 L415.0,228.5 L411.9,236.9" stroke-width="1.31"/><path d="M419.1,211.1 l-5.0,5.2 l0.5,3.6" stroke-width="0.73"/><path d="M418.2,220.0 l4.4,6.4 l-1.6,4.1" stroke-width="0.73"/><path d="M415.0,228.5 l4.9,5.6 l0.6,2.3" stroke-width="0.73"/><path d="M425.0,204.0 L424.2,214.0 L423.6,224.1 L424.2,234.1 L424.5,244.2" stroke-width="1.31"/><path d="M424.2,214.0 l-0.1,3.8 l-0.4,5.9" stroke-width="0.73"/><path d="M423.6,224.1 l-1.0,3.2 l-3.0,4.1" stroke-width="0.73"/><path d="M424.2,234.1 l-5.4,3.5 l-2.3,3.8" stroke-width="0.73"/><path d="M425.4,204.0 L428.3,212.6 L430.8,221.4 L433.4,230.2 L435.4,239.1" stroke-width="1.31"/><path d="M428.3,212.6 l2.7,7.5 l1.2,3.7" stroke-width="0.73"/><path d="M430.8,221.4 l1.8,7.5 l-2.1,2.9" stroke-width="0.73"/><path d="M433.4,230.2 l1.4,6.4 l0.9,4.4" stroke-width="0.73"/><path d="M425.8,204.0 L431.7,209.6 L437.9,214.8 L441.2,222.2 L446.4,228.4" stroke-width="1.31"/><path d="M431.7,209.6 l2.6,7.4 l-2.7,5.7" stroke-width="0.73"/><path d="M437.9,214.8 l3.2,7.8 l2.9,3.1" stroke-width="0.73"/><path d="M441.2,222.2 l2.0,3.7 l0.6,5.7" stroke-width="0.73"/><path d="M426.2,204.0 L428.7,210.4 L431.3,216.7 L433.6,223.1 L434.9,229.8" stroke-width="1.05"/><path d="M428.7,210.4 l6.0,7.4 l-0.2,5.0" stroke-width="0.73"/><path d="M431.3,216.7 l2.3,5.6 l-0.5,4.7" stroke-width="0.73"/><path d="M433.6,223.1 l0.7,4.3 l-0.8,4.5" stroke-width="0.73"/><path d="M426.6,204.0 L431.7,206.5 L437.0,208.4 L442.1,210.7 L446.4,214.3" stroke-width="1.05"/><path d="M431.7,206.5 l-5.2,5.1 l-2.5,2.2" stroke-width="0.73"/><path d="M437.0,208.4 l-2.9,5.3 l1.6,4.5" stroke-width="0.73"/><path d="M442.1,210.7 l-2.6,6.5 l0.0,4.0" stroke-width="0.73"/><path d="M427.0,204.0 L431.4,206.3 L436.2,207.8 L440.4,210.6 L444.1,213.9" stroke-width="1.05"/><path d="M431.4,206.3 l-0.3,5.4 l1.1,4.9" stroke-width="0.73"/><path d="M436.2,207.8 l3.6,5.0 l1.8,5.9" stroke-width="0.73"/><path d="M440.4,210.6 l5.9,6.6 l-2.6,5.4" stroke-width="0.73"/></g>
<g stroke="#573a30" fill="none" stroke-linecap="round" stroke-linejoin="round" stroke-width="1.05"><path d="M450.0,204.0 L445.8,207.0 L441.0,209.0 L436.6,211.6 L432.6,215.0" stroke-width="1.05"/><path d="M445.8,207.0 l-3.8,5.6 l0.8,5.2" stroke-width="0.73"/><path d="M441.0,209.0 l-4.9,4.5 l-2.5,5.2" stroke-width="0.73"/><path d="M436.6,211.6 l2.3,3.2 l2.9,5.9" stroke-width="0.73"/><path d="M450.4,204.0 L444.5,206.1 L438.5,208.0 L434.0,212.5 L428.5,215.6" stroke-width="1.05"/><path d="M444.5,206.1 l-3.7,4.2 l-2.8,3.9" stroke-width="0.73"/><path d="M438.5,208.0 l-0.7,7.2 l0.1,4.6" stroke-width="0.73"/><path d="M434.0,212.5 l-0.0,6.3 l-0.3,3.1" stroke-width="0.73"/><path d="M450.8,204.0 L447.7,211.5 L444.3,218.8 L439.3,225.1 L434.2,231.3" stroke-width="1.05"/><path d="M447.7,211.5 l-2.5,3.4 l1.6,3.6" stroke-width="0.73"/><path d="M444.3,218.8 l4.2,4.9 l2.7,5.4" stroke-width="0.73"/><path d="M439.3,225.1 l-6.0,4.0 l2.5,3.9" stroke-width="0.73"/><path d="M451.2,204.0 L445.9,209.9 L443.8,217.5 L442.9,225.4 L439.3,232.4" stroke-width="1.31"/><path d="M445.9,209.9 l-5.0,4.7 l2.8,5.0" stroke-width="0.73"/><path d="M443.8,217.5 l-4.6,4.2 l-2.4,2.2" stroke-width="0.73"/><path d="M442.9,225.4 l3.6,3.9 l0.4,3.8" stroke-width="0.73"/><path d="M451.6,204.0 L446.1,212.0 L444.4,221.6 L439.3,229.9 L436.4,239.2" stroke-width="1.31"/><path d="M446.1,212.0 l-3.4,4.3 l2.8,5.2" stroke-width="0.73"/><path d="M444.4,221.6 l-2.4,7.4 l-1.7,3.6" stroke-width="0.73"/><path d="M439.3,229.9 l4.3,6.2 l-2.4,6.0" stroke-width="0.73"/><path d="M452.0,204.0 L453.4,213.4 L451.7,222.8 L449.7,232.1 L446.3,240.9" stroke-width="1.31"/><path d="M453.4,213.4 l-4.9,5.9 l-1.5,4.4" stroke-width="0.73"/><path d="M451.7,222.8 l-1.5,5.3 l2.8,3.9" stroke-width="0.73"/><path d="M449.7,232.1 l0.9,7.3 l-1.9,2.6" stroke-width="0.73"/><path d="M452.4,204.0 L453.8,213.8 L454.5,223.8 L458.9,232.7 L464.5,240.9" stroke-width="1.31"/><path d="M453.8,213.8 l-3.6,7.8 l2.3,4.4" stroke-width="0.73"/><path d="M454.5,223.8 l-0.9,3.5 l-2.8,5.9" stroke-width="0.73"/><path d="M458.9,232.7 l-3.1,6.5 l-1.5,5.3" stroke-width="0.73"/><path d="M452.8,204.0 L454.9,211.4 L459.5,217.5 L460.3,225.2 L461.6,232.7" stroke-width="1.31"/><path d="M454.9,211.4 l0.7,7.3 l0.7,3.1" stroke-width="0.73"/><path d="M459.5,217.5 l5.0,4.0 l-2.9,3.1" stroke-width="0.73"/><path d="M460.3,225.2 l-0.7,3.3 l-1.9,3.5" stroke-width="0.73"/><path d="M453.2,204.0 L457.1,209.1 L462.6,212.5 L468.0,216.0 L472.0,220.9" stroke-width="1.05"/><path d="M457.1,209.1 l2.3,5.9 l-2.2,2.1" stroke-width="0.73"/><path d="M462.6,212.5 l-5.8,7.6 l1.2,5.9" stroke-width="0.73"/><path d="M468.0,216.0 l-5.7,6.2 l-0.1,4.9" stroke-width="0.73"/><path d="M453.6,204.0 L457.7,209.6 L463.2,213.8 L469.0,217.6 L474.9,221.2" stroke-width="1.05"/><path d="M457.7,209.6 l2.8,6.5 l1.8,5.7" stroke-width="0.73"/><path d="M463.2,213.8 l-1.8,6.4 l2.4,5.5" stroke-width="0.73"/><path d="M469.0,217.6 l-1.0,7.0 l2.2,4.3" stroke-width="0.73"/><path d="M454.0,204.0 L458.8,205.1 L463.5,206.6 L466.8,210.3 L471.1,212.7" stroke-width="1.05"/><path d="M458.8,205.1 l5.9,7.4 l1.4,3.6" stroke-width="0.73"/><path d="M463.5,206.6 l2.8,5.9 l-0.4,5.4" stroke-width="0.73"/><path d="M466.8,210.3 l-5.0,6.8 l-2.8,4.4" stroke-width="0.73"/></g>
<g stroke="#573a30" fill="none" stroke-linecap="round" stroke-linejoin="round" stroke-width="1.05"><path d="M490.0,205.0 L485.1,207.3 L479.7,208.1 L474.3,208.9 L469.6,211.7" stroke-width="1.05"/><path d="M485.1,207.3 l-2.7,7.1 l1.1,4.4" stroke-width="0.73"/><path d="M479.7,208.1 l0.7,6.3 l-2.1,3.8" stroke-width="0.73"/><path d="M474.3,208.9 l-4.1,7.5 l-2.6,5.3" stroke-width="0.73"/><path d="M490.4,205.0 L484.2,207.3 L478.4,210.4 L474.5,215.7 L468.4,218.2" stroke-width="1.05"/><path d="M484.2,207.3 l-5.3,7.6 l0.1,2.4" stroke-width="0.73"/><path d="M478.4,210.4 l5.8,7.7 l-2.3,3.7" stroke-width="0.73"/><path d="M474.5,215.7 l-4.4,4.6 l0.7,2.7" stroke-width="0.73"/><path d="M490.8,205.0 L485.5,208.7 L483.0,214.6 L479.0,219.6 L475.4,225.0" stroke-width="1.05"/><path d="M485.5,208.7 l1.2,5.4 l-0.7,2.1" stroke-width="0.73"/><path d="M483.0,214.6 l2.7,7.8 l2.9,4.7" stroke-width="0.73"/><path d="M479.0,219.6 l-1.7,4.8 l1.1,4.7" stroke-width="0.73"/><path d="M491.2,205.0 L486.3,211.0 L482.4,217.7 L480.5,225.3 L477.3,232.3" stroke-width="1.31"/><path d="M486.3,211.0 l-5.7,7.1 l-0.4,4.1" stroke-width="0.73"/><path d="M482.4,217.7 l-3.3,5.1 l-0.7,5.1" stroke-width="0.73"/><path d="M480.5,225.3 l-4.8,5.7 l-1.9,4.8" stroke-width="0.73"/><path d="M491.6,205.0 L487.6,212.9 L485.7,221.5 L480.5,228.7 L478.0,237.1" stroke-width="1.31"/><path d="M487.6,212.9 l-3.5,4.4 l-0.1,5.8" stroke-width="0.73"/><path d="M485.7,221.5 l-0.2,7.8 l-2.0,5.7" stroke-width="0.73"/><path d="M480.5,228.7 l-1.6,3.9 l1.5,5.6" stroke-width="0.73"/><path d="M492.0,205.0 L493.0,214.7 L490.9,224.3 L488.2,233.7 L483.9,242.5" stroke-width="1.31"/><path d="M493.0,214.7 l-5.5,6.1 l2.9,6.0" stroke-width="0.73"/><path d="M490.9,224.3 l0.0,3.1 l-1.1,5.1" stroke-width="0.73"/><path d="M488.2,233.7 l4.0,6.2 l-1.6,4.1" stroke-width="0.73"/><path d="M492.4,205.0 L493.0,214.7 L498.3,222.9 L503.0,231.4 L502.2,241.1" stroke-width="1.31"/><path d="M493.0,214.7 l-2.5,7.4 l-1.3,5.8" stroke-width="0.73"/><path d="M498.3,222.9 l0.2,6.5 l1.2,2.9" stroke-width="0.73"/><path d="M503.0,231.4 l-2.6,4.3 l1.1,4.8" stroke-width="0.73"/><path d="M492.8,205.0 L496.1,213.6 L497.8,222.7 L500.6,231.5 L506.4,238.7" stroke-width="1.31"/><path d="M496.1,213.6 l0.7,6.1 l2.5,5.8" stroke-width="0.73"/><path d="M497.8,222.7 l3.1,5.1 l0.5,5.6" stroke-width="0.73"/><path d="M500.6,231.5 l3.5,5.9 l-0.9,3.5" stroke-width="0.73"/><path d="M493.2,205.0 L496.3,211.8 L502.1,216.4 L508.3,220.6 L513.7,225.7" stroke-width="1.05"/><path d="M496.3,211.8 l4.8,7.6 l0.2,5.2" stroke-width="0.73"/><path d="M502.1,216.4 l-1.4,3.5 l-0.9,3.2" stroke-width="0.73"/><path d="M508.3,220.6 l5.2,6.4 l0.2,4.5" stroke-width="0.73"/><path d="M493.6,205.0 L499.2,208.0 L503.6,212.5 L507.0,217.9 L510.6,223.1" stroke-width="1.05"/><path d="M499.2,208.0 l-2.1,6.4 l-2.1,2.4" stroke-width="0.73"/><path d="M503.6,212.5 l-2.3,6.5 l1.6,4.6" stroke-width="0.73"/><path d="M507.0,217.9 l5.2,4.8 l-2.8,4.0" stroke-width="0.73"/><path d="M494.0,205.0 L498.7,205.9 L502.7,208.5 L506.2,211.7 L509.6,215.1" stroke-width="1.05"/><path d="M498.7,205.9 l5.3,3.0 l-0.8,3.1" stroke-width="0.73"/><path d="M502.7,208.5 l-3.6,5.2 l-1.7,5.7" stroke-width="0.73"/><path d="M506.2,211.7 l0.0,6.5 l-2.0,3.9" stroke-width="0.73"/></g>
<g stroke="#c9b79a" fill="none" stroke-linecap="round" stroke-linejoin="round" stroke-width="0.8"><path d="M527.5,199.0 L525.8,199.7 L524.0,200.2 L522.5,201.1 L522.5,202.6" stroke-width="0.80"/><path d="M525.8,199.7 l-5.0,4.6 l1.1,2.3" stroke-width="0.56"/><path d="M524.0,200.2 l-4.2,7.1 l2.9,3.3" stroke-width="0.56"/><path d="M522.5,201.1 l-3.7,7.9 l-1.0,4.4" stroke-width="0.56"/><path d="M527.9,199.0 L526.4,200.9 L525.1,203.0 L523.6,204.9 L522.5,207.1" stroke-width="0.80"/><path d="M526.4,200.9 l3.5,6.2 l-0.4,2.9" stroke-width="0.56"/><path d="M525.1,203.0 l-2.8,7.7 l1.2,2.4" stroke-width="0.56"/><path d="M523.6,204.9 l4.9,4.4 l1.2,3.8" stroke-width="0.56"/><path d="M528.3,199.0 L526.6,200.9 L524.8,202.6 L523.4,204.8 L522.5,207.1" stroke-width="0.80"/><path d="M526.6,200.9 l3.8,7.3 l0.8,5.9" stroke-width="0.56"/><path d="M524.8,202.6 l-0.0,7.4 l1.9,5.3" stroke-width="0.56"/><path d="M523.4,204.8 l-4.5,5.9 l0.1,2.4" stroke-width="0.56"/><path d="M528.7,199.0 L526.2,200.9 L523.8,203.0 L522.7,205.9 L522.5,208.8" stroke-width="1.00"/><path d="M526.2,200.9 l5.7,7.3 l2.0,5.2" stroke-width="0.56"/><path d="M523.8,203.0 l-3.3,6.6 l-2.4,2.5" stroke-width="0.56"/><path d="M522.7,205.9 l-1.5,4.2 l-2.8,4.1" stroke-width="0.56"/><path d="M529.1,199.0 L528.0,201.9 L528.6,205.0 L528.3,208.1 L527.8,211.2" stroke-width="1.00"/><path d="M528.0,201.9 l-1.0,7.1 l-0.2,3.6" stroke-width="0.56"/><path d="M528.6,205.0 l-1.6,6.9 l-2.9,3.8" stroke-width="0.56"/><path d="M528.3,208.1 l1.7,3.0 l-1.1,3.4" stroke-width="0.56"/><path d="M529.5,199.0 L529.6,203.0 L529.1,206.9 L529.0,210.8 L530.4,214.5" stroke-width="1.00"/><path d="M529.6,203.0 l-4.7,3.4 l-2.0,2.2" stroke-width="0.56"/><path d="M529.1,206.9 l-4.3,4.6 l1.4,5.8" stroke-width="0.56"/><path d="M529.0,210.8 l-5.8,5.5 l-1.6,5.6" stroke-width="0.56"/><path d="M529.9,199.0 L529.9,202.7 L531.0,206.3 L531.9,209.9 L533.0,213.5" stroke-width="1.00"/><path d="M529.9,202.7 l-3.3,3.1 l0.6,5.3" stroke-width="0.56"/><path d="M531.0,206.3 l-2.0,4.9 l-2.7,4.1" stroke-width="0.56"/><path d="M531.9,209.9 l3.8,5.4 l-2.2,2.5" stroke-width="0.56"/><path d="M530.3,199.0 L531.6,202.1 L533.3,204.9 L533.9,208.2 L535.4,211.2" stroke-width="1.00"/><path d="M531.6,202.1 l-5.7,4.5 l-0.1,3.9" stroke-width="0.56"/><path d="M533.3,204.9 l-2.5,6.3 l-1.5,5.1" stroke-width="0.56"/><path d="M533.9,208.2 l4.0,5.9 l2.8,3.0" stroke-width="0.56"/><path d="M530.7,199.0 L532.6,200.5 L533.8,202.6 L534.8,204.8 L535.9,207.0" stroke-width="0.80"/><path d="M532.6,200.5 l-1.4,3.0 l-1.3,5.7" stroke-width="0.56"/><path d="M533.8,202.6 l3.6,6.3 l2.8,3.9" stroke-width="0.56"/><path d="M534.8,204.8 l3.1,7.5 l0.1,4.0" stroke-width="0.56"/><path d="M531.1,199.0 L533.0,200.8 L534.5,203.0 L535.9,205.2 L536.5,206.8" stroke-width="0.80"/><path d="M533.0,200.8 l-2.5,6.4 l0.8,5.8" stroke-width="0.56"/><path d="M534.5,203.0 l3.8,7.8 l-1.7,2.2" stroke-width="0.56"/><path d="M535.9,205.2 l-5.6,4.0 l-2.5,2.6" stroke-width="0.56"/><path d="M531.5,199.0 L533.2,199.9 L535.0,200.6 L536.5,201.9 L536.5,203.1" stroke-width="0.80"/><path d="M533.2,199.9 l-1.3,3.3 l2.7,5.6" stroke-width="0.56"/><path d="M535.0,200.6 l-1.7,6.1 l-2.9,3.5" stroke-width="0.56"/><path d="M536.5,201.9 l1.1,5.1 l-2.3,3.9" stroke-width="0.56"/></g>
<g stroke="#d9cbb0" fill="none" stroke-linecap="round" stroke-linejoin="round" stroke-width="0.6"><path d="M547.5,200.0 L546.6,200.0 L546.0,200.5 L546.0,200.8 L546.0,201.4" stroke-width="0.60"/><path d="M546.6,200.0 l5.1,5.0 l2.8,4.9" stroke-width="0.42"/><path d="M546.0,200.5 l0.6,6.1 l0.5,3.4" stroke-width="0.42"/><path d="M546.0,200.8 l6.0,5.0 l2.9,5.4" stroke-width="0.42"/><path d="M547.9,200.0 L547.0,200.5 L546.2,201.2 L546.0,201.6 L546.0,202.4" stroke-width="0.60"/><path d="M547.0,200.5 l-1.6,6.9 l2.6,5.0" stroke-width="0.42"/><path d="M546.2,201.2 l-3.7,6.8 l-0.4,5.3" stroke-width="0.42"/><path d="M546.0,201.6 l-0.4,7.5 l2.9,5.3" stroke-width="0.42"/><path d="M548.3,200.0 L547.5,201.1 L546.4,202.1 L546.1,203.4 L546.0,204.6" stroke-width="0.60"/><path d="M547.5,201.1 l-5.8,5.2 l-0.5,2.8" stroke-width="0.42"/><path d="M546.4,202.1 l5.5,3.6 l2.4,4.2" stroke-width="0.42"/><path d="M546.1,203.4 l-3.9,4.8 l-0.3,2.5" stroke-width="0.42"/><path d="M548.7,200.0 L548.6,201.5 L548.3,203.1 L548.1,204.6 L548.2,206.1" stroke-width="0.75"/><path d="M548.6,201.5 l5.2,6.2 l0.2,4.1" stroke-width="0.42"/><path d="M548.3,203.1 l3.8,7.6 l2.0,5.4" stroke-width="0.42"/><path d="M548.1,204.6 l-5.7,5.1 l-2.5,4.3" stroke-width="0.42"/><path d="M549.1,200.0 L549.2,201.7 L548.5,203.2 L548.4,204.9 L548.3,206.6" stroke-width="0.75"/><path d="M549.2,201.7 l-3.4,7.9 l-2.7,3.9" stroke-width="0.42"/><path d="M548.5,203.2 l0.4,6.0 l2.9,4.2" stroke-width="0.42"/><path d="M548.4,204.9 l4.6,4.5 l-0.1,2.6" stroke-width="0.42"/><path d="M549.5,200.0 L549.9,201.8 L549.5,203.5 L549.5,205.3 L550.1,207.0" stroke-width="0.75"/><path d="M549.9,201.8 l-5.9,6.3 l1.1,4.9" stroke-width="0.42"/><path d="M549.5,203.5 l0.7,5.5 l2.8,3.1" stroke-width="0.42"/><path d="M549.5,205.3 l2.4,6.3 l1.4,3.9" stroke-width="0.42"/><path d="M549.9,200.0 L549.9,201.8 L550.5,203.5 L551.3,205.0 L551.9,206.7" stroke-width="0.75"/><path d="M549.9,201.8 l-1.2,7.3 l-0.7,3.3" stroke-width="0.42"/><path d="M550.5,203.5 l0.9,6.3 l1.1,4.2" stroke-width="0.42"/><path d="M551.3,205.0 l-1.1,6.7 l-1.1,4.4" stroke-width="0.42"/><path d="M550.3,200.0 L551.1,201.0 L551.3,202.4 L551.7,203.6 L551.6,205.0" stroke-width="0.75"/><path d="M551.1,201.0 l3.2,4.6 l-2.7,3.1" stroke-width="0.42"/><path d="M551.3,202.4 l5.2,6.8 l-3.0,5.8" stroke-width="0.42"/><path d="M551.7,203.6 l-5.1,5.4 l0.2,5.1" stroke-width="0.42"/><path d="M550.7,200.0 L551.4,201.2 L552.4,202.2 L553.0,203.1 L553.0,204.3" stroke-width="0.60"/><path d="M551.4,201.2 l-6.0,6.3 l-0.4,4.9" stroke-width="0.42"/><path d="M552.4,202.2 l3.4,3.5 l0.4,4.6" stroke-width="0.42"/><path d="M553.0,203.1 l5.1,6.1 l0.7,5.1" stroke-width="0.42"/><path d="M551.1,200.0 L552.1,200.7 L553.0,201.4 L553.0,202.4 L553.0,203.4" stroke-width="0.60"/><path d="M552.1,200.7 l-1.1,4.0 l2.6,5.4" stroke-width="0.42"/><path d="M553.0,201.4 l-0.5,3.4 l2.9,2.5" stroke-width="0.42"/><path d="M553.0,202.4 l0.1,5.8 l2.1,4.6" stroke-width="0.42"/><path d="M551.5,200.0 L552.4,199.9 L553.0,200.1 L553.0,200.6 L553.0,201.0" stroke-width="0.60"/><path d="M552.4,199.9 l5.4,5.4 l-2.5,2.3" stroke-width="0.42"/><path d="M553.0,200.1 l5.6,4.0 l1.8,2.8" stroke-width="0.42"/><path d="M553.0,200.6 l-3.3,3.8 l1.9,2.4" stroke-width="0.42"/></g>
</g>
<g id="pebbles">
<use href="#peb" transform="translate(45,212.5) scale(1)" fill="#b3b3b3" opacity="1"/>
<use href="#peb" transform="translate(82,226) scale(1)" fill="#b3b3b3" opacity="1"/>
<use href="#peb" transform="translate(49,236) scale(1)" fill="#b3b3b3" opacity="1"/>
<use href="#peb" transform="translate(130,226) scale(1)" fill="#b3b3b3" opacity="1"/>
<use href="#peb" transform="translate(220,235) scale(1)" fill="#b3b3b3" opacity="1"/>
<use href="#peb" transform="translate(246,225) scale(1)" fill="#b3b3b3" opacity="1"/>
<use href="#peb" transform="translate(234,250) scale(1)" fill="#b3b3b3" opacity="1"/>
<use href="#peb" transform="translate(295,250) scale(1)" fill="#b3b3b3" opacity="1"/>
<use href="#peb" transform="translate(309,250) scale(1)" fill="#b3b3b3" opacity="1"/>
<use href="#peb" transform="translate(238,295) scale(1)" fill="#b3b3b3" opacity="1"/>
<use href="#peb" transform="translate(263.5,295) scale(1)" fill="#b3b3b3" opacity="1"/>
<use href="#peb" transform="translate(286,301) scale(1)" fill="#b3b3b3" opacity="1"/>
<use href="#peb" transform="translate(281,326) scale(1)" fill="#b3b3b3" opacity="1"/>
<use href="#peb" transform="translate(270.5,369) scale(1)" fill="#b3b3b3" opacity="1"/>
<use href="#peb" transform="translate(618.6,215) scale(1)" fill="#b3b3b3" opacity="1"/>
<use href="#peb" transform="translate(634.5,225.6) scale(1)" fill="#b3b3b3" opacity="1"/>
<use href="#peb" transform="translate(527,260.5) scale(1)" fill="#b3b3b3" opacity="1"/>
<use href="#peb" transform="translate(493.6,301) scale(1)" fill="#b3b3b3" opacity="1"/>
<use href="#peb" transform="translate(645,271) scale(1)" fill="#b3b3b3" opacity="1"/>
<use href="#peb" transform="translate(634,305) scale(1)" fill="#b3b3b3" opacity="1"/>
<use href="#peb" transform="translate(183,444) scale(1)" fill="#b3b3b3" opacity="1"/>
<use href="#peb" transform="translate(33.5,226) scale(1)" fill="#4ba823" opacity="1"/>
<use href="#peb" transform="translate(191,226) scale(1)" fill="#4ba823" opacity="1"/>
<use href="#peb" transform="translate(260.4,240.4) scale(1)" fill="#4ba823" opacity="1"/>
<use href="#peb" transform="translate(541,225) scale(1)" fill="#4ba823" opacity="1"/>
<use href="#peb" transform="translate(464,251.4) scale(1)" fill="#4ba823" opacity="1"/>
<use href="#peb" transform="translate(660,285) scale(1)" fill="#4ba823" opacity="1"/>
<use href="#peb" transform="translate(437.7,403.4) scale(1)" fill="#4ba823" opacity="1"/>
<use href="#peb" transform="translate(478.6,403.4) scale(1)" fill="#4ba823" opacity="1"/>
<use href="#peb" transform="translate(501,413) scale(1)" fill="#4ba823" opacity="1"/>
<use href="#peb" transform="translate(404,460.5) scale(1)" fill="#4ba823" opacity="1"/>
<ellipse cx="277.5" cy="398" rx="7.5" ry="4.2" fill="#a08a7c" opacity="0.45"/>
<ellipse cx="171" cy="425.5" rx="7.5" ry="4.2" fill="#a08a7c" opacity="0.45"/>
<ellipse cx="428" cy="417" rx="7.5" ry="4.2" fill="#a08a7c" opacity="0.45"/>
<ellipse cx="505" cy="431" rx="9.75" ry="5.460000000000001" fill="#a08a7c" opacity="0.45"/>
<ellipse cx="611.5" cy="339.5" rx="8.25" ry="4.620000000000001" fill="#a08a7c" opacity="0.45"/>
<ellipse cx="512" cy="346.7" rx="6.75" ry="3.7800000000000002" fill="#a08a7c" opacity="0.45"/>
<ellipse cx="281" cy="334" rx="7.5" ry="4.2" fill="#a08a7c" opacity="0.45"/>
</g>
<g id="plants">
<g transform="translate(529.5,199) scale(0.594,0.504)"><g filter="url(#fr41)"><use href="#lettuceLeaves"/></g><use href="#lettuceRibs"/><path d="M-2.6,1 L-2.2,-12 L2.2,-12 L2.6,1 Z" fill="#e9dfc4"/></g>
<g transform="translate(549.5,200) scale(0.382,0.324)"><g filter="url(#fr42)"><use href="#lettuceLeaves"/></g><use href="#lettuceRibs"/><path d="M-2.6,1 L-2.2,-12 L2.2,-12 L2.6,1 Z" fill="#e9dfc4"/></g>
<g transform="translate(603,206) scale(0.297,0.252)"><g filter="url(#fr43)"><use href="#lettuceLeaves"/></g><use href="#lettuceRibs"/><path d="M-2.6,1 L-2.2,-12 L2.2,-12 L2.6,1 Z" fill="#e9dfc4"/></g>
<g transform="translate(614,206) scale(0.318,0.270)"><g filter="url(#fr44)"><use href="#lettuceLeaves"/></g><use href="#lettuceRibs"/><path d="M-2.6,1 L-2.2,-12 L2.2,-12 L2.6,1 Z" fill="#e9dfc4"/></g>
<g transform="translate(631,206) scale(0.339,0.288)"><g filter="url(#fr45)"><use href="#lettuceLeaves"/></g><use href="#lettuceRibs"/><path d="M-2.6,1 L-2.2,-12 L2.2,-12 L2.6,1 Z" fill="#e9dfc4"/></g>
<g transform="translate(83,206) scale(0.847,0.666)"><g filter="url(#fr11)"><use href="#lettuceLeaves"/></g><use href="#lettuceRibs"/><path d="M-2.6,1 L-2.2,-12 L2.2,-12 L2.6,1 Z" fill="#e9dfc4"/></g>
<g transform="translate(125,202) scale(1.039,0.882)"><g filter="url(#fr12)"><use href="#lettuceLeaves"/></g><use href="#lettuceRibs"/><path d="M-2.6,1 L-2.2,-12 L2.2,-12 L2.6,1 Z" fill="#e9dfc4"/></g>
<g transform="translate(178,203) scale(1.039,0.882)"><g filter="url(#fr13)"><use href="#lettuceLeaves"/></g><use href="#lettuceRibs"/><path d="M-2.6,1 L-2.2,-12 L2.2,-12 L2.6,1 Z" fill="#e9dfc4"/></g>
<g transform="translate(229,203) scale(0.975,0.828)"><g filter="url(#fr14)"><use href="#lettuceLeaves"/></g><use href="#lettuceRibs"/><path d="M-2.6,1 L-2.2,-12 L2.2,-12 L2.6,1 Z" fill="#e9dfc4"/></g>
<g transform="translate(283,207) scale(0.975,0.828)"><g filter="url(#fr15)"><use href="#lettuceLeaves"/></g><use href="#lettuceRibs"/><path d="M-2.6,1 L-2.2,-12 L2.2,-12 L2.6,1 Z" fill="#e9dfc4"/></g>
<g transform="translate(331,204) scale(1.060,0.900)"><g filter="url(#fr16)"><use href="#lettuceLeaves"/></g><use href="#lettuceRibs"/><path d="M-2.6,1 L-2.2,-12 L2.2,-12 L2.6,1 Z" fill="#e9dfc4"/></g>
<g transform="translate(388,203) scale(1.060,0.900)"><g filter="url(#fr17)"><use href="#lettuceLeaves"/></g><use href="#lettuceRibs"/><path d="M-2.6,1 L-2.2,-12 L2.2,-12 L2.6,1 Z" fill="#e9dfc4"/></g>
<g transform="translate(425,203) scale(1.060,0.900)"><g filter="url(#fr18)"><use href="#lettuceLeaves"/></g><use href="#lettuceRibs"/><path d="M-2.6,1 L-2.2,-12 L2.2,-12 L2.6,1 Z" fill="#e9dfc4"/></g>
<g transform="translate(452,203) scale(1.060,0.900)"><g filter="url(#fr19)"><use href="#lettuceLeaves"/></g><use href="#lettuceRibs"/><path d="M-2.6,1 L-2.2,-12 L2.2,-12 L2.6,1 Z" fill="#e9dfc4"/></g>
<g transform="translate(492,204) scale(1.092,0.927)"><g filter="url(#fr20)"><use href="#lettuceLeaves"/></g><use href="#lettuceRibs"/><path d="M-2.6,1 L-2.2,-12 L2.2,-12 L2.6,1 Z" fill="#e9dfc4"/></g>
</g>
<g id="stones" fill="#8c786c" clip-path="url(#soilclip)">
<ellipse cx="10" cy="590" rx="10" ry="9"/>
<ellipse cx="42" cy="594" rx="10" ry="7"/>
<ellipse cx="84" cy="592" rx="21" ry="12"/>
<ellipse cx="162" cy="594" rx="18" ry="9"/>
<ellipse cx="206" cy="589" rx="19" ry="11"/>
<ellipse cx="255" cy="581" rx="18" ry="9"/>
<ellipse cx="295" cy="590" rx="12" ry="8"/>
<ellipse cx="415" cy="596" rx="20" ry="11"/>
<ellipse cx="455" cy="588" rx="14" ry="8"/>
<ellipse cx="495" cy="600" rx="18" ry="9"/>
<ellipse cx="540" cy="588" rx="18" ry="10"/>
<ellipse cx="592" cy="590" rx="21" ry="10"/>
<ellipse cx="640" cy="590" rx="20" ry="10"/>
<ellipse cx="705" cy="593" rx="19" ry="9"/>
<ellipse cx="758" cy="594" rx="13" ry="8"/>
<ellipse cx="795" cy="592" rx="21" ry="11"/>
<ellipse cx="850" cy="598" rx="15" ry="8"/>
<ellipse cx="886" cy="590" rx="20" ry="11"/>
<ellipse cx="935" cy="593" rx="17" ry="9"/>
<ellipse cx="975" cy="582" rx="18" ry="9"/>
<ellipse cx="1020" cy="592" rx="22" ry="11"/>
<ellipse cx="82" cy="615" rx="22" ry="11"/>
<ellipse cx="122" cy="612" rx="20" ry="11"/>
<ellipse cx="170" cy="616" rx="21" ry="11"/>
<ellipse cx="220" cy="612" rx="19" ry="10"/>
<ellipse cx="262" cy="614" rx="22" ry="12"/>
<ellipse cx="345" cy="619" rx="16" ry="9"/>
<ellipse cx="455" cy="612" rx="18" ry="9"/>
<ellipse cx="505" cy="618" rx="20" ry="9"/>
<ellipse cx="40" cy="618" rx="18" ry="9"/>
<ellipse cx="400" cy="625" rx="18" ry="9"/>
<ellipse cx="548" cy="618" rx="16" ry="8"/>
<ellipse cx="600" cy="616" rx="20" ry="10"/>
<ellipse cx="700" cy="612" rx="19" ry="10"/>
<ellipse cx="745" cy="618" rx="21" ry="9"/>
<ellipse cx="800" cy="616" rx="17" ry="9"/>
<ellipse cx="852" cy="612" rx="20" ry="10"/>
<ellipse cx="905" cy="616" rx="22" ry="11"/>
<ellipse cx="960" cy="614" rx="20" ry="10"/>
<ellipse cx="1010" cy="618" rx="20" ry="10"/>
<ellipse cx="60" cy="636" rx="22" ry="9"/>
<ellipse cx="140" cy="638" rx="24" ry="9"/>
<ellipse cx="230" cy="636" rx="22" ry="9"/>
<ellipse cx="300" cy="634" rx="18" ry="8"/>
<ellipse cx="380" cy="640" rx="20" ry="8"/>
<ellipse cx="470" cy="636" rx="22" ry="9"/>
<ellipse cx="560" cy="638" rx="22" ry="9"/>
<ellipse cx="740" cy="636" rx="22" ry="9"/>
<ellipse cx="830" cy="638" rx="22" ry="9"/>
<ellipse cx="920" cy="636" rx="24" ry="9"/>
<ellipse cx="1000" cy="638" rx="22" ry="9"/>
</g>
<rect x="0" y="596" width="1052" height="46" fill="url(#fade)"/>
<rect x="0" y="641.5" width="1052" height="14" fill="#fff"/>
<g id="sedum">
<path d="M637,221 L633,194" stroke="#6a9a48" stroke-width="1.4"/><ellipse cx="632.6" cy="219.4" rx="5.2" ry="2.6" fill="#4f9038" transform="rotate(-160 632.6 219.4)"/><ellipse cx="640.8" cy="218.2" rx="5.2" ry="2.6" fill="#4f9038" transform="rotate(-36 640.8 218.2)"/><ellipse cx="632.3" cy="214.8" rx="4.9" ry="2.7" fill="#4f9038" transform="rotate(-157 632.3 214.8)"/><ellipse cx="639.7" cy="213.7" rx="4.9" ry="2.7" fill="#4f9038" transform="rotate(-40 639.7 213.7)"/><ellipse cx="632.0" cy="210.2" rx="4.6" ry="2.8" fill="#66a945" transform="rotate(-154 632.0 210.2)"/><ellipse cx="638.7" cy="209.2" rx="4.6" ry="2.8" fill="#66a945" transform="rotate(-43 638.7 209.2)"/><ellipse cx="631.6" cy="205.6" rx="4.3" ry="2.9" fill="#66a945" transform="rotate(-150 631.6 205.6)"/><ellipse cx="637.7" cy="204.7" rx="4.3" ry="2.9" fill="#66a945" transform="rotate(-46 637.7 204.7)"/><ellipse cx="631.3" cy="201.1" rx="4.0" ry="2.9" fill="#7dc058" transform="rotate(-147 631.3 201.1)"/><ellipse cx="636.7" cy="200.3" rx="4.0" ry="2.9" fill="#7dc058" transform="rotate(-50 636.7 200.3)"/><ellipse cx="631.0" cy="196.5" rx="3.7" ry="2.9" fill="#7dc058" transform="rotate(-144 631.0 196.5)"/><ellipse cx="635.7" cy="195.8" rx="3.7" ry="2.9" fill="#7dc058" transform="rotate(-53 635.7 195.8)"/><ellipse cx="630.7" cy="192.1" rx="3.4" ry="2.9" fill="#7dc058" transform="rotate(-140 630.7 192.1)"/><ellipse cx="634.7" cy="191.5" rx="3.4" ry="2.9" fill="#7dc058" transform="rotate(-56 634.7 191.5)"/><circle cx="633" cy="194" r="3.1" fill="#7dc058"/>
<path d="M633,208 L622,200" stroke="#6a9a48" stroke-width="1.4"/><ellipse cx="629.4" cy="209.8" rx="4.5" ry="2.2" fill="#4f9038" transform="rotate(-206 629.4 209.8)"/><ellipse cx="633.6" cy="204.0" rx="4.5" ry="2.2" fill="#4f9038" transform="rotate(-82 633.6 204.0)"/><ellipse cx="624.3" cy="204.9" rx="3.7" ry="2.5" fill="#66a945" transform="rotate(-196 624.3 204.9)"/><ellipse cx="627.4" cy="200.7" rx="3.7" ry="2.5" fill="#66a945" transform="rotate(-92 627.4 200.7)"/><ellipse cx="619.4" cy="200.3" rx="2.9" ry="2.5" fill="#7dc058" transform="rotate(-186 619.4 200.3)"/><ellipse cx="621.5" cy="197.4" rx="2.9" ry="2.5" fill="#7dc058" transform="rotate(-102 621.5 197.4)"/><circle cx="622" cy="200" r="2.7" fill="#7dc058"/>
<path d="M660,233 L656,212" stroke="#6a9a48" stroke-width="1.4"/><ellipse cx="656.0" cy="231.8" rx="4.6" ry="2.3" fill="#4f9038" transform="rotate(-163 656.0 231.8)"/><ellipse cx="663.2" cy="230.4" rx="4.6" ry="2.3" fill="#4f9038" transform="rotate(-39 663.2 230.4)"/><ellipse cx="655.5" cy="226.3" rx="4.2" ry="2.5" fill="#4f9038" transform="rotate(-158 655.5 226.3)"/><ellipse cx="661.7" cy="225.1" rx="4.2" ry="2.5" fill="#4f9038" transform="rotate(-44 661.7 225.1)"/><ellipse cx="655.0" cy="220.9" rx="3.8" ry="2.6" fill="#66a945" transform="rotate(-153 655.0 220.9)"/><ellipse cx="660.3" cy="219.9" rx="3.8" ry="2.6" fill="#66a945" transform="rotate(-49 660.3 219.9)"/><ellipse cx="654.4" cy="215.6" rx="3.4" ry="2.6" fill="#7dc058" transform="rotate(-148 654.4 215.6)"/><ellipse cx="658.8" cy="214.8" rx="3.4" ry="2.6" fill="#7dc058" transform="rotate(-54 658.8 214.8)"/><ellipse cx="653.9" cy="210.4" rx="3.0" ry="2.5" fill="#7dc058" transform="rotate(-143 653.9 210.4)"/><ellipse cx="657.4" cy="209.7" rx="3.0" ry="2.5" fill="#7dc058" transform="rotate(-59 657.4 209.7)"/><circle cx="656" cy="212" r="2.8" fill="#7dc058"/>
<path d="M648,246 L652,222" stroke="#6a9a48" stroke-width="1.4"/><ellipse cx="644.9" cy="243.6" rx="4.4" ry="2.2" fill="#4f9038" transform="rotate(-143 644.9 243.6)"/><ellipse cx="651.8" cy="244.7" rx="4.4" ry="2.2" fill="#4f9038" transform="rotate(-19 651.8 244.7)"/><ellipse cx="646.3" cy="237.6" rx="4.0" ry="2.4" fill="#4f9038" transform="rotate(-138 646.3 237.6)"/><ellipse cx="652.3" cy="238.6" rx="4.0" ry="2.4" fill="#4f9038" transform="rotate(-24 652.3 238.6)"/><ellipse cx="647.8" cy="231.6" rx="3.6" ry="2.5" fill="#66a945" transform="rotate(-133 647.8 231.6)"/><ellipse cx="652.9" cy="232.4" rx="3.6" ry="2.5" fill="#66a945" transform="rotate(-29 652.9 232.4)"/><ellipse cx="649.2" cy="225.7" rx="3.2" ry="2.5" fill="#7dc058" transform="rotate(-128 649.2 225.7)"/><ellipse cx="653.4" cy="226.4" rx="3.2" ry="2.5" fill="#7dc058" transform="rotate(-34 653.4 226.4)"/><ellipse cx="650.6" cy="219.8" rx="2.9" ry="2.4" fill="#7dc058" transform="rotate(-123 650.6 219.8)"/><ellipse cx="654.0" cy="220.4" rx="2.9" ry="2.4" fill="#7dc058" transform="rotate(-39 654.0 220.4)"/><circle cx="652" cy="222" r="2.6" fill="#7dc058"/>
<path d="M646,240 L637,232" stroke="#6a9a48" stroke-width="1.4"/><ellipse cx="642.6" cy="241.3" rx="4.0" ry="2.0" fill="#4f9038" transform="rotate(-200 642.6 241.3)"/><ellipse cx="646.8" cy="236.5" rx="4.0" ry="2.0" fill="#4f9038" transform="rotate(-76 646.8 236.5)"/><ellipse cx="638.6" cy="236.5" rx="3.3" ry="2.2" fill="#66a945" transform="rotate(-190 638.6 236.5)"/><ellipse cx="641.7" cy="233.0" rx="3.3" ry="2.2" fill="#66a945" transform="rotate(-86 641.7 233.0)"/><ellipse cx="634.7" cy="232.0" rx="2.6" ry="2.2" fill="#7dc058" transform="rotate(-180 634.7 232.0)"/><ellipse cx="636.7" cy="229.7" rx="2.6" ry="2.2" fill="#7dc058" transform="rotate(-96 636.7 229.7)"/><circle cx="637" cy="232" r="2.4" fill="#7dc058"/>
</g>
<g id="floatplant">
<path d="M986,190 L986.5,232" stroke="#a08d8d" stroke-width="0.8" opacity="0.6"/>
<path d="M990,196 L990.5,243" stroke="#a08d8d" stroke-width="0.8" opacity="0.6"/>
<path d="M995,200 L995.5,228" stroke="#a08d8d" stroke-width="0.8" opacity="0.6"/>
<path d="M1000,205 L1000.5,251" stroke="#a08d8d" stroke-width="0.8" opacity="0.6"/>
<path d="M1004,208 L1004.5,236" stroke="#a08d8d" stroke-width="0.8" opacity="0.6"/>
<path d="M1008,212 L1008.5,258" stroke="#a08d8d" stroke-width="0.8" opacity="0.6"/>
<path d="M1013,214 L1013.5,246" stroke="#a08d8d" stroke-width="0.8" opacity="0.6"/>
<path d="M1018,210 L1018.5,262" stroke="#a08d8d" stroke-width="0.8" opacity="0.6"/>
<path d="M1022,206 L1022.5,240" stroke="#a08d8d" stroke-width="0.8" opacity="0.6"/>
<path d="M1027,200 L1027.5,232" stroke="#a08d8d" stroke-width="0.8" opacity="0.6"/>
<path d="M981,186 L981.5,222" stroke="#a08d8d" stroke-width="0.8" opacity="0.6"/>
<path d="M1030,196 L1030.5,226" stroke="#a08d8d" stroke-width="0.8" opacity="0.6"/>
<path d="M996,208 L983,167" stroke="#6a9a48" stroke-width="1.4"/><ellipse cx="991.0" cy="207.1" rx="5.6" ry="2.8" fill="#4f9038" transform="rotate(-170 991.0 207.1)"/><ellipse cx="999.5" cy="204.4" rx="5.6" ry="2.8" fill="#4f9038" transform="rotate(-46 999.5 204.4)"/><ellipse cx="989.5" cy="201.0" rx="5.3" ry="2.9" fill="#4f9038" transform="rotate(-167 989.5 201.0)"/><ellipse cx="997.3" cy="198.6" rx="5.3" ry="2.9" fill="#4f9038" transform="rotate(-48 997.3 198.6)"/><ellipse cx="987.9" cy="195.0" rx="5.0" ry="3.0" fill="#4f9038" transform="rotate(-164 987.9 195.0)"/><ellipse cx="995.1" cy="192.7" rx="5.0" ry="3.0" fill="#4f9038" transform="rotate(-51 995.1 192.7)"/><ellipse cx="986.4" cy="189.0" rx="4.8" ry="3.1" fill="#66a945" transform="rotate(-161 986.4 189.0)"/><ellipse cx="992.9" cy="187.0" rx="4.8" ry="3.1" fill="#66a945" transform="rotate(-54 992.9 187.0)"/><ellipse cx="984.8" cy="183.1" rx="4.5" ry="3.1" fill="#66a945" transform="rotate(-158 984.8 183.1)"/><ellipse cx="990.8" cy="181.2" rx="4.5" ry="3.1" fill="#66a945" transform="rotate(-57 990.8 181.2)"/><ellipse cx="983.3" cy="177.1" rx="4.2" ry="3.1" fill="#7dc058" transform="rotate(-155 983.3 177.1)"/><ellipse cx="988.6" cy="175.4" rx="4.2" ry="3.1" fill="#7dc058" transform="rotate(-60 988.6 175.4)"/><ellipse cx="981.7" cy="171.2" rx="3.9" ry="3.1" fill="#7dc058" transform="rotate(-152 981.7 171.2)"/><ellipse cx="986.5" cy="169.7" rx="3.9" ry="3.1" fill="#7dc058" transform="rotate(-63 986.5 169.7)"/><ellipse cx="980.2" cy="165.3" rx="3.6" ry="3.1" fill="#7dc058" transform="rotate(-150 980.2 165.3)"/><ellipse cx="984.4" cy="164.0" rx="3.6" ry="3.1" fill="#7dc058" transform="rotate(-66 984.4 164.0)"/><circle cx="983" cy="167" r="3.4" fill="#7dc058"/>
<path d="M986,188 L970,175" stroke="#6a9a48" stroke-width="1.4"/><ellipse cx="981.9" cy="189.8" rx="5.0" ry="2.5" fill="#4f9038" transform="rotate(-203 981.9 189.8)"/><ellipse cx="986.9" cy="183.6" rx="5.0" ry="2.5" fill="#4f9038" transform="rotate(-79 986.9 183.6)"/><ellipse cx="976.9" cy="184.8" rx="4.4" ry="2.7" fill="#66a945" transform="rotate(-196 976.9 184.8)"/><ellipse cx="981.0" cy="179.7" rx="4.4" ry="2.7" fill="#66a945" transform="rotate(-86 981.0 179.7)"/><ellipse cx="971.9" cy="179.9" rx="3.8" ry="2.8" fill="#7dc058" transform="rotate(-190 971.9 179.9)"/><ellipse cx="975.2" cy="175.9" rx="3.8" ry="2.8" fill="#7dc058" transform="rotate(-92 975.2 175.9)"/><ellipse cx="967.1" cy="175.1" rx="3.2" ry="2.8" fill="#7dc058" transform="rotate(-183 967.1 175.1)"/><ellipse cx="969.5" cy="172.1" rx="3.2" ry="2.8" fill="#7dc058" transform="rotate(-99 969.5 172.1)"/><circle cx="970" cy="175" r="3.0" fill="#7dc058"/>
<path d="M1012,216 L1001,168" stroke="#6a9a48" stroke-width="1.4"/><ellipse cx="1007.1" cy="214.7" rx="5.6" ry="2.8" fill="#4f9038" transform="rotate(-165 1007.1 214.7)"/><ellipse cx="1015.8" cy="212.7" rx="5.6" ry="2.8" fill="#4f9038" transform="rotate(-41 1015.8 212.7)"/><ellipse cx="1006.0" cy="208.5" rx="5.4" ry="2.9" fill="#4f9038" transform="rotate(-162 1006.0 208.5)"/><ellipse cx="1014.1" cy="206.7" rx="5.4" ry="2.9" fill="#4f9038" transform="rotate(-43 1014.1 206.7)"/><ellipse cx="1004.9" cy="202.4" rx="5.1" ry="3.0" fill="#4f9038" transform="rotate(-160 1004.9 202.4)"/><ellipse cx="1012.5" cy="200.7" rx="5.1" ry="3.0" fill="#4f9038" transform="rotate(-46 1012.5 200.7)"/><ellipse cx="1003.8" cy="196.3" rx="4.9" ry="3.1" fill="#66a945" transform="rotate(-157 1003.8 196.3)"/><ellipse cx="1010.8" cy="194.7" rx="4.9" ry="3.1" fill="#66a945" transform="rotate(-48 1010.8 194.7)"/><ellipse cx="1002.7" cy="190.2" rx="4.6" ry="3.1" fill="#66a945" transform="rotate(-155 1002.7 190.2)"/><ellipse cx="1009.1" cy="188.8" rx="4.6" ry="3.1" fill="#66a945" transform="rotate(-51 1009.1 188.8)"/><ellipse cx="1001.6" cy="184.2" rx="4.4" ry="3.1" fill="#66a945" transform="rotate(-152 1001.6 184.2)"/><ellipse cx="1007.5" cy="182.8" rx="4.4" ry="3.1" fill="#66a945" transform="rotate(-53 1007.5 182.8)"/><ellipse cx="1000.5" cy="178.1" rx="4.1" ry="3.1" fill="#7dc058" transform="rotate(-150 1000.5 178.1)"/><ellipse cx="1005.8" cy="176.9" rx="4.1" ry="3.1" fill="#7dc058" transform="rotate(-56 1005.8 176.9)"/><ellipse cx="999.4" cy="172.1" rx="3.9" ry="3.1" fill="#7dc058" transform="rotate(-147 999.4 172.1)"/><ellipse cx="1004.2" cy="171.0" rx="3.9" ry="3.1" fill="#7dc058" transform="rotate(-58 1004.2 171.0)"/><ellipse cx="998.3" cy="166.1" rx="3.6" ry="3.1" fill="#7dc058" transform="rotate(-145 998.3 166.1)"/><ellipse cx="1002.6" cy="165.1" rx="3.6" ry="3.1" fill="#7dc058" transform="rotate(-61 1002.6 165.1)"/><circle cx="1001" cy="168" r="3.4" fill="#7dc058"/>
<path d="M1004,186 L1012,172" stroke="#6a9a48" stroke-width="1.4"/><ellipse cx="1001.6" cy="182.2" rx="5.0" ry="2.5" fill="#4f9038" transform="rotate(-122 1001.6 182.2)"/><ellipse cx="1008.5" cy="186.1" rx="5.0" ry="2.5" fill="#4f9038" transform="rotate(2 1008.5 186.1)"/><ellipse cx="1006.6" cy="175.6" rx="4.1" ry="2.8" fill="#66a945" transform="rotate(-112 1006.6 175.6)"/><ellipse cx="1011.7" cy="178.5" rx="4.1" ry="2.8" fill="#66a945" transform="rotate(-8 1011.7 178.5)"/><ellipse cx="1011.4" cy="169.1" rx="3.2" ry="2.8" fill="#7dc058" transform="rotate(-102 1011.4 169.1)"/><ellipse cx="1014.8" cy="171.1" rx="3.2" ry="2.8" fill="#7dc058" transform="rotate(-18 1014.8 171.1)"/><circle cx="1012" cy="172" r="3.0" fill="#7dc058"/>
<path d="M1013,217 L1027,188" stroke="#6a9a48" stroke-width="1.4"/><ellipse cx="1010.0" cy="212.9" rx="5.6" ry="2.8" fill="#4f9038" transform="rotate(-126 1010.0 212.9)"/><ellipse cx="1018.0" cy="216.8" rx="5.6" ry="2.8" fill="#4f9038" transform="rotate(-2 1018.0 216.8)"/><ellipse cx="1013.3" cy="207.2" rx="5.2" ry="3.0" fill="#4f9038" transform="rotate(-122 1013.3 207.2)"/><ellipse cx="1020.5" cy="210.7" rx="5.2" ry="3.0" fill="#4f9038" transform="rotate(-6 1020.5 210.7)"/><ellipse cx="1016.5" cy="201.6" rx="4.8" ry="3.1" fill="#66a945" transform="rotate(-118 1016.5 201.6)"/><ellipse cx="1022.9" cy="204.6" rx="4.8" ry="3.1" fill="#66a945" transform="rotate(-10 1022.9 204.6)"/><ellipse cx="1019.8" cy="196.0" rx="4.4" ry="3.1" fill="#66a945" transform="rotate(-114 1019.8 196.0)"/><ellipse cx="1025.3" cy="198.6" rx="4.4" ry="3.1" fill="#66a945" transform="rotate(-14 1025.3 198.6)"/><ellipse cx="1022.9" cy="190.4" rx="4.0" ry="3.1" fill="#7dc058" transform="rotate(-110 1022.9 190.4)"/><ellipse cx="1027.6" cy="192.7" rx="4.0" ry="3.1" fill="#7dc058" transform="rotate(-18 1027.6 192.7)"/><ellipse cx="1026.1" cy="184.9" rx="3.6" ry="3.1" fill="#7dc058" transform="rotate(-106 1026.1 184.9)"/><ellipse cx="1030.0" cy="186.8" rx="3.6" ry="3.1" fill="#7dc058" transform="rotate(-22 1030.0 186.8)"/><circle cx="1027" cy="188" r="3.4" fill="#7dc058"/>
<path d="M1024,196 L1034,189" stroke="#6a9a48" stroke-width="1.4"/><ellipse cx="1023.5" cy="191.5" rx="5.0" ry="2.5" fill="#4f9038" transform="rotate(-97 1023.5 191.5)"/><ellipse cx="1028.0" cy="198.0" rx="5.0" ry="2.5" fill="#4f9038" transform="rotate(27 1028.0 198.0)"/><ellipse cx="1034.7" cy="186.2" rx="3.2" ry="2.8" fill="#7dc058" transform="rotate(-77 1034.7 186.2)"/><ellipse cx="1036.9" cy="189.4" rx="3.2" ry="2.8" fill="#7dc058" transform="rotate(7 1036.9 189.4)"/><circle cx="1034" cy="189" r="3.0" fill="#7dc058"/>
</g>
<g id="boulders">
<path d="M36.2,610.9 L33.2,619.7 L28.4,624.4 L20.5,626.7 L14.9,624.5 L7.7,618.3 L6.8,611.3 L7.8,604.8 L12.6,599.5 L22.1,598.2 L27.2,598.9 L34.3,606.0 Z" fill="#d7d3ba" stroke="#aaa58c" stroke-width="1.1" stroke-linejoin="round"/><path d="M22.5,625.8 L34.5,616.5 L28.5,612.8 L18.8,619.5 Z" fill="#c9c4a9" opacity="0.6"/><path d="M12.8,604.5 L21.8,600.3 L25.5,607.5 L16.5,611.2 Z" fill="#e0dcc6" opacity="0.55"/>
<path d="M336.0,595.2 L332.3,602.4 L322.2,614.1 L310.7,615.7 L299.1,612.9 L291.3,603.9 L287.9,593.3 L290.7,580.1 L301.5,572.0 L311.2,570.4 L321.0,572.9 L331.7,581.5 Z" fill="#d7d3ba" stroke="#aaa58c" stroke-width="1.1" stroke-linejoin="round"/><path d="M313.9,615.1 L333.1,600.2 L323.5,594.2 L307.9,605.0 Z" fill="#c9c4a9" opacity="0.6"/><path d="M298.3,581.0 L312.7,574.3 L318.7,585.8 L304.3,591.8 Z" fill="#e0dcc6" opacity="0.55"/>
<path d="M374.9,586.1 L372.8,595.3 L365.2,601.6 L358.8,604.7 L349.0,602.0 L340.8,594.1 L339.3,585.8 L342.2,578.2 L348.3,571.4 L357.1,569.4 L366.1,572.9 L373.0,579.1 Z" fill="#d7d3ba" stroke="#aaa58c" stroke-width="1.1" stroke-linejoin="round"/><path d="M358.8,603.6 L373.2,592.4 L366.0,587.9 L354.3,596.0 Z" fill="#c9c4a9" opacity="0.6"/><path d="M347.1,578.0 L357.9,573.0 L362.4,581.6 L351.6,586.1 Z" fill="#e0dcc6" opacity="0.55"/>
<path d="M404.9,608.8 L403.3,615.8 L399.4,620.4 L390.3,623.2 L384.1,620.5 L379.7,616.0 L378.1,610.4 L378.7,603.2 L385.2,597.1 L392.3,596.4 L398.0,597.5 L404.2,603.1 Z" fill="#d7d3ba" stroke="#aaa58c" stroke-width="1.1" stroke-linejoin="round"/><path d="M392.9,622.4 L404.1,613.7 L398.5,610.2 L389.4,616.5 Z" fill="#c9c4a9" opacity="0.6"/><path d="M383.8,602.5 L392.2,598.6 L395.7,605.3 L387.3,608.8 Z" fill="#e0dcc6" opacity="0.55"/>
<path d="M336.1,637.3 L334.4,643.0 L330.2,646.7 L326.0,647.5 L318.7,645.7 L315.5,641.4 L314.3,637.1 L315.6,631.6 L318.8,628.6 L324.5,626.1 L330.8,628.4 L334.5,632.4 Z" fill="#d7d3ba" stroke="#aaa58c" stroke-width="1.1" stroke-linejoin="round"/><path d="M326.1,647.1 L334.9,640.3 L330.5,637.5 L323.4,642.5 Z" fill="#c9c4a9" opacity="0.6"/><path d="M318.9,631.5 L325.6,628.4 L328.3,633.7 L321.7,636.5 Z" fill="#e0dcc6" opacity="0.55"/>
<path d="M674.7,604.6 L672.8,609.2 L669.9,612.7 L663.6,614.8 L658.2,613.5 L654.1,609.8 L652.7,603.5 L654.0,598.6 L657.5,595.2 L664.2,593.7 L669.6,595.1 L673.2,599.4 Z" fill="#d7d3ba" stroke="#aaa58c" stroke-width="1.1" stroke-linejoin="round"/><path d="M664.6,614.1 L673.4,607.3 L669.0,604.5 L661.9,609.5 Z" fill="#c9c4a9" opacity="0.6"/><path d="M657.5,598.5 L664.0,595.4 L666.8,600.7 L660.2,603.5 Z" fill="#e0dcc6" opacity="0.55"/>
<path d="M675.8,627.4 L673.3,636.3 L667.7,642.0 L661.0,644.3 L652.5,642.8 L646.2,637.0 L642.2,628.3 L644.7,621.1 L651.2,613.1 L659.8,611.8 L668.9,615.2 L674.4,621.0 Z" fill="#d7d3ba" stroke="#aaa58c" stroke-width="1.1" stroke-linejoin="round"/><path d="M661.2,643.6 L674.8,633.1 L668.0,628.9 L657.0,636.5 Z" fill="#c9c4a9" opacity="0.6"/><path d="M650.1,619.5 L660.4,614.7 L664.6,622.9 L654.4,627.1 Z" fill="#e0dcc6" opacity="0.55"/>
<path d="M1044.8,603.9 L1043.5,609.2 L1039.6,613.0 L1032.4,614.8 L1027.8,613.5 L1024.1,609.9 L1022.3,605.2 L1023.9,600.1 L1027.3,596.1 L1033.3,593.6 L1038.6,595.5 L1043.0,598.6 Z" fill="#d7d3ba" stroke="#aaa58c" stroke-width="1.1" stroke-linejoin="round"/><path d="M1034.6,614.6 L1043.4,607.8 L1039.0,605.0 L1031.8,610.0 Z" fill="#c9c4a9" opacity="0.6"/><path d="M1027.5,599.0 L1034.0,595.9 L1036.8,601.2 L1030.2,604.0 Z" fill="#e0dcc6" opacity="0.55"/>
</g>
<g id="arrows">
<path d="M16,86 L28,86 L28,171 L42,171 L22.5,207 L3,171 L16,171 Z" fill="#e8872b"/>
<path d="M498.5,204 L498.5,98.5 L485,98.5 L504.4,62.5 L523.6,98.5 L510,98.5 L510,204 Z" fill="#e8872b"/>
<path d="M204,231 L204,125 L197.5,125 L207.7,89 L218,125 L211,125 L211,231 Z" fill="#c8302d"/>
</g>
<rect x="540.5" y="376.5" width="110" height="46" rx="5" fill="#eef3fb" stroke="#a9b6dc" stroke-width="1.2"/>
<rect x="537.8" y="488.5" width="196" height="85.5" rx="8" fill="#eef3fb" stroke="#8f9ccc" stroke-width="1.6"/>
<g id="texts"><text x="12" y="19.5" font-size="25.2" font-weight="normal" fill="#000" text-anchor="start" ><tspan font-weight="bold">P inputs</tspan> (Organic and Inorganic</text>
<text x="12" y="45.4" font-size="25.2" font-weight="normal" fill="#000" text-anchor="start" >fertilizers, Weathering of Parent</text>
<text x="12" y="71" font-size="25.2" font-weight="normal" fill="#000" text-anchor="start" >rock)</text>
<text x="99.5" y="85.5" font-size="16.2" font-weight="normal" fill="#000" text-anchor="start" >Highly decomposed organic materials</text>
<text x="428.2" y="52.2" font-size="25.1" font-weight="bold" fill="#000" text-anchor="start" >Plant P uptake</text>
<text x="635.5" y="22.3" font-size="25.1" font-weight="bold" fill="#000" text-anchor="start" >Problems with Phosphorus testing</text>
<text x="657" y="48.6" font-size="25" font-weight="normal" fill="#000" text-anchor="start" >1.</text>
<text x="691" y="48.6" font-size="25" font-weight="normal" fill="#000" text-anchor="start" >Chemical extractant do not</text>
<text x="691" y="74.2" font-size="25" font-weight="normal" fill="#000" text-anchor="start" >match P dynamics</text>
<text x="657" y="99.8" font-size="25" font-weight="normal" fill="#000" text-anchor="start" >2.</text>
<text x="691" y="99.8" font-size="25" font-weight="normal" fill="#000" text-anchor="start" >Poor prediction of P</text>
<text x="691" y="125.3" font-size="25" font-weight="normal" fill="#000" text-anchor="start" >bioavailability</text>
<text x="14" y="265.3" font-size="18" font-weight="bold" fill="#fff" text-anchor="start" >Legacy P</text>
<text x="63" y="308" font-size="23.2" font-weight="bold" fill="#f4f4f4" text-anchor="start" >Organic P Pool</text>
<text x="62" y="332" font-size="19.8" font-weight="normal" fill="#f4f4f4" text-anchor="start" >(<tspan font-weight="bold">Inositol</tspan></text>
<text x="62" y="354" font-size="19.8" font-weight="normal" fill="#f4f4f4" text-anchor="start" ><tspan font-weight="bold">phosphates</tspan>,</text>
<text x="62" y="375" font-size="19.8" font-weight="normal" fill="#f4f4f4" text-anchor="start" ><tspan font-weight="bold">phospholipids</tspan>, and</text>
<text x="62" y="397" font-size="19.8" font-weight="normal" fill="#f4f4f4" text-anchor="start" ><tspan font-weight="bold">nucleic acids</tspan>)</text>
<text x="217.8" y="279.8" font-size="18" font-weight="bold" fill="#fff" text-anchor="start" >Mineralization</text>
<text x="358" y="281" font-size="14.3" font-weight="bold" fill="#fff" text-anchor="start" >Organic Residue</text>
<text x="358" y="296" font-size="14.3" font-weight="bold" fill="#fff" text-anchor="start" >Decomposition</text>
<text x="324" y="346" font-size="19.6" font-weight="bold" fill="#fff" text-anchor="start" >Inorganic</text>
<text x="324" y="366" font-size="19.6" font-weight="bold" fill="#fff" text-anchor="start" >P Pool</text>
<text x="280" y="387" font-size="18" font-weight="normal" fill="#fff" text-anchor="start" >Fe/Al/Ca Phosphates</text>
<text x="239" y="432" font-size="18" font-weight="bold" fill="#fff" text-anchor="start" >Sorption/</text>
<text x="239" y="451" font-size="18" font-weight="bold" fill="#fff" text-anchor="start" >Desorption</text>
<text x="248" y="498" font-size="18" font-weight="normal" fill="#fff" text-anchor="start" >P-Humic complexes</text>
<text x="97" y="556" font-size="25" font-weight="bold" fill="#fff" text-anchor="start" >Calcareous Bedrock</text>
<text x="535" y="355" font-size="18" font-weight="bold" fill="#fff" text-anchor="start" >Immobilization</text>
<text x="677" y="249" font-size="23.5" font-weight="bold" fill="#c8302d" text-anchor="start" >High risk of</text>
<text x="677" y="273" font-size="23.5" font-weight="bold" fill="#c8302d" text-anchor="start" >eutrophication</text>
<text x="735" y="328" font-size="18" font-weight="normal" fill="#000" text-anchor="start" >Runoff or</text>
<text x="735" y="347" font-size="18" font-weight="normal" fill="#000" text-anchor="start" >Leaching losses of P</text>
<text x="888" y="243" font-size="21.8" font-weight="normal" fill="#3d6b38" text-anchor="start" >Phytoplankton</text>
<text x="595.5" y="389" font-size="13.4" font-weight="normal" fill="#000" text-anchor="middle" >Dominance</text>
<text x="595.5" y="402.5" font-size="13.4" font-weight="normal" fill="#000" text-anchor="middle" >biological</text>
<text x="595.5" y="416" font-size="13.4" font-weight="normal" fill="#000" text-anchor="middle" >Cycling</text>
<text x="636" y="507" font-size="19" font-weight="normal" fill="#000" text-anchor="middle" >Variable pH (acidic</text>
<text x="636" y="526" font-size="19" font-weight="normal" fill="#000" text-anchor="middle" >to alkaline)</text>
<text x="636" y="545" font-size="19" font-weight="normal" fill="#000" text-anchor="middle" >Susceptibility to</text>
<text x="636" y="564" font-size="19" font-weight="normal" fill="#000" text-anchor="middle" >Subsidence</text></g>
</svg>
</body></html>
